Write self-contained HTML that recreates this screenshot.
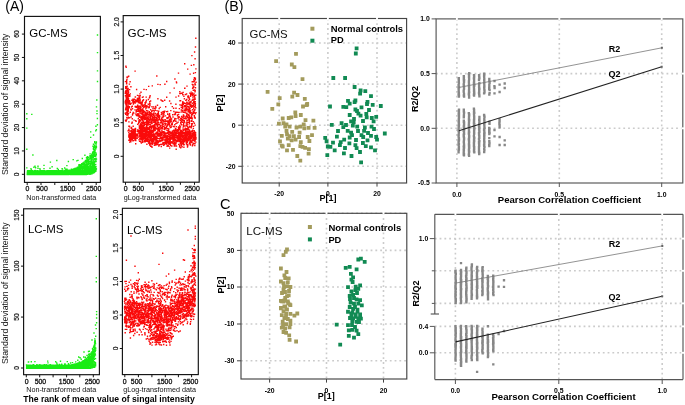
<!DOCTYPE html>
<html><head><meta charset="utf-8"><style>
html,body{margin:0;padding:0;background:#fff;width:685px;height:405px;overflow:hidden}
svg{display:block;filter:blur(0.35px)}
text{font-family:"Liberation Sans",sans-serif}
</style></head><body>
<svg width="685" height="405" viewBox="0 0 685 405">
<rect width="685" height="405" fill="#fff"/>
<text x="5.30" y="10.80" font-size="14" fill="#000" textLength="18.6" lengthAdjust="spacingAndGlyphs">(A)</text>
<text x="224.60" y="10.80" font-size="13.8" fill="#000" textLength="18.9" lengthAdjust="spacingAndGlyphs">(B)</text>
<text x="220.00" y="208.70" font-size="14.6" fill="#000">C</text>
<path d="M27.2 174.1h0M27.3 172.3h0M27.4 174.5h0M27.4 173.8h0M27.5 172.5h0M27.5 171.0h0M27.5 174.5h0M27.5 173.4h0M27.5 170.9h0M27.6 174.6h0M27.6 173.4h0M27.6 172.0h0M27.7 173.3h0M27.7 171.5h0M27.7 173.6h0M27.7 173.9h0M27.7 174.6h0M27.8 173.2h0M27.8 170.7h0M27.9 171.1h0M27.9 174.6h0M27.9 174.6h0M27.9 174.5h0M27.9 171.4h0M28.0 173.7h0M28.0 174.0h0M28.0 172.0h0M28.1 173.8h0M28.2 173.7h0M28.2 172.3h0M28.3 171.2h0M28.3 174.3h0M28.3 174.2h0M28.3 174.2h0M28.4 170.9h0M28.4 172.9h0M28.4 171.6h0M28.4 174.3h0M28.5 171.4h0M28.5 173.9h0M28.5 172.6h0M28.6 174.2h0M28.6 173.1h0M28.6 172.0h0M28.6 174.3h0M28.6 170.8h0M28.6 171.5h0M28.6 172.2h0M28.7 172.0h0M28.7 174.0h0M28.8 174.5h0M28.8 173.9h0M28.8 174.4h0M28.8 173.8h0M28.9 171.9h0M28.9 174.3h0M28.9 174.5h0M29.0 171.7h0M29.0 171.0h0M29.0 173.5h0M29.0 174.2h0M29.0 171.3h0M29.1 174.5h0M29.1 173.8h0M29.1 171.7h0M29.1 172.1h0M29.1 171.9h0M29.2 173.3h0M29.3 172.2h0M29.3 173.9h0M29.3 171.4h0M29.4 171.8h0M29.5 170.9h0M29.5 171.9h0M29.5 172.1h0M29.5 174.3h0M29.5 172.9h0M29.6 174.5h0M29.6 171.1h0M29.6 171.7h0M29.6 173.0h0M29.6 171.6h0M29.7 171.4h0M29.7 173.7h0M29.7 172.4h0M29.7 174.4h0M29.7 174.6h0M29.8 171.9h0M29.8 174.2h0M29.8 173.6h0M29.8 173.2h0M29.8 170.9h0M29.9 171.9h0M29.9 173.0h0M29.9 171.7h0M29.9 174.1h0M29.9 174.5h0M29.9 174.1h0M30.0 172.8h0M30.0 173.8h0M30.0 170.7h0M30.1 173.0h0M30.1 172.9h0M30.1 172.0h0M30.1 173.1h0M30.1 174.3h0M30.2 174.2h0M30.3 173.4h0M30.3 174.1h0M30.3 174.2h0M30.3 173.7h0M30.4 171.7h0M30.4 171.4h0M30.4 174.1h0M30.4 174.2h0M30.4 174.6h0M30.4 174.6h0M30.4 173.7h0M30.4 174.3h0M30.4 173.2h0M30.5 174.4h0M30.5 172.6h0M30.5 172.9h0M30.5 171.1h0M30.6 171.7h0M30.6 174.4h0M30.6 173.0h0M30.6 173.7h0M30.8 174.6h0M30.8 173.0h0M30.8 170.7h0M30.8 174.4h0M30.8 174.6h0M30.8 174.2h0M30.8 173.5h0M30.8 174.1h0M30.9 172.3h0M30.9 174.0h0M30.9 171.4h0M31.0 174.4h0M31.0 174.4h0M31.1 170.8h0M31.1 174.5h0M31.1 172.0h0M31.2 174.5h0M31.2 174.3h0M31.2 172.6h0M31.2 171.6h0M31.2 172.7h0M31.2 170.6h0M31.2 170.7h0M31.2 174.4h0M31.4 173.3h0M31.4 173.3h0M31.5 174.3h0M31.5 172.5h0M31.5 171.4h0M31.5 172.1h0M31.5 171.8h0M31.6 174.1h0M31.7 172.9h0M31.7 174.3h0M31.7 171.9h0M31.7 171.0h0M31.8 173.2h0M31.8 173.1h0M31.8 172.1h0M31.9 171.2h0M31.9 174.5h0M31.9 172.0h0M31.9 171.2h0M32.0 174.2h0M32.0 174.0h0M32.0 173.3h0M32.1 172.8h0M32.1 173.4h0M32.1 172.9h0M32.1 173.6h0M32.2 173.5h0M32.2 173.9h0M32.2 172.5h0M32.2 171.0h0M32.2 170.7h0M32.2 173.7h0M32.3 174.6h0M32.3 172.6h0M32.3 170.9h0M32.3 170.9h0M32.4 172.3h0M32.4 173.7h0M32.4 174.5h0M32.4 173.3h0M32.4 172.5h0M32.5 172.1h0M32.5 172.4h0M32.6 171.8h0M32.6 174.4h0M32.6 173.1h0M32.6 173.4h0M32.7 173.2h0M32.8 173.3h0M32.8 172.7h0M32.8 174.5h0M32.9 174.6h0M32.9 173.4h0M32.9 172.8h0M32.9 173.5h0M32.9 173.1h0M33.0 173.6h0M33.0 171.7h0M33.0 171.7h0M33.0 174.4h0M33.0 172.6h0M33.0 173.1h0M33.0 174.5h0M33.0 174.5h0M33.1 171.7h0M33.2 172.2h0M33.2 174.3h0M33.3 172.8h0M33.3 171.2h0M33.3 173.1h0M33.4 172.7h0M33.4 172.4h0M33.4 173.1h0M33.4 171.3h0M33.5 174.1h0M33.5 174.2h0M33.6 174.5h0M33.6 173.4h0M33.6 173.9h0M33.6 173.2h0M33.6 174.3h0M33.7 173.3h0M33.7 173.2h0M33.7 173.9h0M33.8 171.7h0M34.0 173.2h0M34.0 172.8h0M34.0 170.9h0M34.0 171.3h0M34.0 172.5h0M34.0 174.6h0M34.0 172.5h0M34.1 173.9h0M34.2 174.1h0M34.2 172.7h0M34.3 174.3h0M34.3 172.1h0M34.3 171.9h0M34.3 174.4h0M34.4 174.4h0M34.4 171.0h0M34.4 174.6h0M34.4 171.7h0M34.4 172.0h0M34.4 172.2h0M34.5 174.6h0M34.5 170.9h0M34.6 174.2h0M34.6 171.3h0M34.6 173.2h0M34.6 173.9h0M34.7 174.3h0M34.7 174.6h0M34.7 174.1h0M34.7 174.4h0M34.8 174.6h0M34.8 172.4h0M34.8 170.7h0M34.8 173.1h0M34.8 171.6h0M34.8 170.8h0M34.9 174.5h0M34.9 173.5h0M34.9 173.5h0M35.0 174.1h0M35.0 172.2h0M35.1 173.0h0M35.1 174.3h0M35.2 170.9h0M35.2 174.4h0M35.3 174.6h0M35.3 172.0h0M35.3 173.5h0M35.3 172.5h0M35.3 174.6h0M35.4 174.5h0M35.4 174.0h0M35.4 173.8h0M35.4 173.1h0M35.4 173.9h0M35.5 174.2h0M35.5 170.9h0M35.5 174.4h0M35.6 173.2h0M35.6 174.2h0M35.6 171.7h0M35.7 172.7h0M35.7 172.6h0M35.7 173.5h0M35.8 173.4h0M35.8 170.6h0M35.9 173.5h0M35.9 172.5h0M35.9 174.5h0M36.0 173.1h0M36.0 172.0h0M36.0 173.3h0M36.1 172.1h0M36.1 172.4h0M36.1 174.5h0M36.2 173.3h0M36.2 174.6h0M36.2 174.5h0M36.2 172.4h0M36.3 174.2h0M36.3 174.6h0M36.3 173.3h0M36.3 172.3h0M36.3 174.0h0M36.3 174.3h0M36.3 174.2h0M36.3 174.6h0M36.3 174.6h0M36.4 173.3h0M36.4 174.2h0M36.4 173.5h0M36.4 171.1h0M36.4 171.7h0M36.5 171.6h0M36.5 171.0h0M36.5 172.4h0M36.5 173.4h0M36.6 174.5h0M36.6 172.1h0M36.6 174.5h0M36.6 173.9h0M36.6 174.0h0M36.7 171.0h0M36.7 171.4h0M36.7 174.1h0M36.7 173.7h0M36.7 173.3h0M36.8 174.6h0M36.8 174.6h0M36.8 172.9h0M36.8 173.2h0M36.8 172.6h0M36.9 171.3h0M37.0 174.4h0M37.0 171.2h0M37.2 174.2h0M37.2 171.1h0M37.2 174.3h0M37.2 173.6h0M37.3 172.1h0M37.3 174.2h0M37.3 174.4h0M37.3 174.0h0M37.4 173.8h0M37.4 171.3h0M37.4 174.1h0M37.4 172.3h0M37.4 171.5h0M37.5 174.6h0M37.5 174.0h0M37.5 171.2h0M37.6 172.8h0M37.6 174.3h0M37.6 173.2h0M37.6 173.6h0M37.7 171.5h0M37.7 171.8h0M37.7 173.9h0M37.7 170.7h0M37.7 174.6h0M37.7 171.1h0M37.8 174.5h0M37.8 172.9h0M37.8 173.5h0M37.8 171.6h0M37.9 173.3h0M37.9 174.0h0M38.0 172.2h0M38.0 173.7h0M38.0 173.5h0M38.1 171.7h0M38.1 173.7h0M38.1 173.1h0M38.2 171.7h0M38.2 171.6h0M38.2 172.3h0M38.2 172.2h0M38.2 174.5h0M38.2 173.0h0M38.2 172.8h0M38.3 174.4h0M38.3 171.3h0M38.3 172.4h0M38.3 174.5h0M38.3 174.4h0M38.4 174.5h0M38.4 174.4h0M38.4 172.8h0M38.4 174.5h0M38.4 173.6h0M38.4 174.0h0M38.5 172.5h0M38.5 172.2h0M38.5 172.6h0M38.5 172.8h0M38.5 172.9h0M38.5 171.9h0M38.5 173.2h0M38.6 174.2h0M38.6 174.5h0M38.6 172.7h0M38.7 171.7h0M38.7 172.2h0M38.7 172.2h0M38.7 171.9h0M38.7 174.5h0M38.8 171.5h0M38.8 174.6h0M38.8 172.9h0M38.9 173.5h0M38.9 174.4h0M39.0 172.9h0M39.0 174.4h0M39.0 174.6h0M39.1 172.2h0M39.1 171.2h0M39.2 173.4h0M39.3 171.7h0M39.3 170.9h0M39.3 172.1h0M39.3 173.5h0M39.4 170.9h0M39.4 174.1h0M39.5 174.1h0M39.5 172.4h0M39.5 171.6h0M39.5 174.1h0M39.6 173.9h0M39.6 174.6h0M39.6 174.5h0M39.7 173.8h0M39.7 174.5h0M39.7 174.6h0M39.7 171.9h0M39.7 171.3h0M39.7 174.4h0M39.7 173.8h0M39.8 174.6h0M39.8 173.5h0M39.9 174.4h0M39.9 172.9h0M40.0 172.4h0M40.1 172.2h0M40.1 174.5h0M40.1 171.7h0M40.1 171.5h0M40.2 174.0h0M40.2 170.8h0M40.2 173.8h0M40.3 174.1h0M40.4 174.3h0M40.4 170.8h0M40.5 170.7h0M40.5 171.8h0M40.5 173.9h0M40.5 174.3h0M40.6 171.7h0M40.6 171.6h0M40.6 172.3h0M40.6 174.6h0M40.7 174.5h0M40.7 172.9h0M40.8 174.6h0M40.8 171.6h0M40.8 170.7h0M40.8 170.7h0M40.8 171.6h0M40.9 174.6h0M40.9 174.4h0M40.9 170.7h0M40.9 173.0h0M40.9 174.4h0M41.0 174.6h0M41.0 174.4h0M41.0 171.3h0M41.0 173.9h0M41.1 172.0h0M41.1 171.0h0M41.1 173.8h0M41.1 171.0h0M41.1 171.3h0M41.2 174.4h0M41.2 174.4h0M41.3 171.2h0M41.3 171.5h0M41.3 171.6h0M41.3 172.4h0M41.4 170.8h0M41.4 173.5h0M41.4 171.6h0M41.4 171.9h0M41.5 173.4h0M41.5 174.0h0M41.5 174.4h0M41.6 170.9h0M41.6 171.6h0M41.6 172.0h0M41.6 174.1h0M41.6 171.6h0M41.7 174.3h0M41.7 172.6h0M41.7 174.3h0M41.7 173.4h0M41.7 172.7h0M41.7 172.2h0M41.8 171.1h0M41.8 170.9h0M41.8 171.9h0M41.8 174.6h0M41.8 173.6h0M41.9 172.1h0M41.9 171.4h0M41.9 174.6h0M41.9 173.6h0M41.9 171.0h0M41.9 171.0h0M41.9 171.3h0M42.0 174.4h0M42.0 173.9h0M42.0 171.0h0M42.0 171.1h0M42.1 170.8h0M42.1 172.3h0M42.1 172.2h0M42.1 174.1h0M42.1 172.2h0M42.1 174.1h0M42.2 171.5h0M42.2 172.7h0M42.2 174.0h0M42.2 174.4h0M42.2 174.4h0M42.3 174.4h0M42.3 171.1h0M42.3 173.7h0M42.3 172.9h0M42.4 174.4h0M42.5 171.2h0M42.5 170.6h0M42.5 173.1h0M42.5 170.9h0M42.5 170.8h0M42.5 172.4h0M42.6 174.4h0M42.6 172.5h0M42.7 174.3h0M42.7 171.2h0M42.7 171.2h0M42.7 174.3h0M42.8 173.8h0M42.8 172.3h0M42.8 174.1h0M42.9 171.5h0M42.9 173.2h0M42.9 172.5h0M42.9 173.4h0M43.0 171.7h0M43.0 171.8h0M43.0 171.7h0M43.0 173.7h0M43.1 173.7h0M43.1 174.1h0M43.1 171.2h0M43.1 174.4h0M43.2 173.8h0M43.3 174.6h0M43.3 172.5h0M43.3 170.8h0M43.3 173.0h0M43.4 174.6h0M43.4 173.8h0M43.4 172.4h0M43.4 174.3h0M43.4 173.1h0M43.5 173.8h0M43.5 174.6h0M43.5 171.8h0M43.5 174.0h0M43.6 174.3h0M43.6 172.5h0M43.6 173.4h0M43.6 173.9h0M43.6 174.5h0M43.6 170.7h0M43.7 172.8h0M43.7 173.4h0M43.7 172.8h0M43.7 173.4h0M43.7 171.8h0M43.7 171.4h0M43.8 173.9h0M43.8 171.0h0M43.9 174.0h0M43.9 172.6h0M44.0 170.9h0M44.0 172.3h0M44.0 174.6h0M44.1 172.6h0M44.1 171.4h0M44.1 174.6h0M44.1 174.2h0M44.1 173.5h0M44.1 173.6h0M44.2 170.7h0M44.2 174.5h0M44.2 174.3h0M44.3 172.6h0M44.3 174.4h0M44.4 172.7h0M44.4 172.6h0M44.5 173.0h0M44.5 173.5h0M44.5 173.3h0M44.5 173.7h0M44.5 173.6h0M44.6 173.8h0M44.6 173.9h0M44.6 174.3h0M44.6 172.9h0M44.6 172.7h0M44.6 173.0h0M44.7 173.2h0M44.7 171.7h0M44.7 171.1h0M44.8 174.5h0M44.8 173.6h0M44.8 173.3h0M44.9 174.5h0M44.9 173.8h0M44.9 173.5h0M44.9 174.6h0M44.9 173.5h0M45.0 174.5h0M45.0 173.6h0M45.1 174.2h0M45.1 174.5h0M45.2 174.5h0M45.2 173.1h0M45.2 174.6h0M45.3 173.6h0M45.3 174.5h0M45.4 172.3h0M45.4 172.5h0M45.4 174.4h0M45.4 173.7h0M45.4 172.1h0M45.4 174.4h0M45.5 171.7h0M45.5 172.4h0M45.5 170.9h0M45.5 172.7h0M45.5 174.6h0M45.5 173.6h0M45.6 172.3h0M45.6 173.3h0M45.6 173.7h0M45.6 174.1h0M45.6 172.3h0M45.7 174.4h0M45.8 171.9h0M45.8 174.0h0M46.0 172.8h0M46.0 171.1h0M46.0 172.8h0M46.0 171.4h0M46.0 174.5h0M46.0 173.1h0M46.1 172.5h0M46.1 174.3h0M46.1 172.3h0M46.1 172.5h0M46.2 173.4h0M46.2 171.8h0M46.2 174.6h0M46.3 171.0h0M46.3 174.5h0M46.3 171.9h0M46.3 174.4h0M46.4 174.6h0M46.4 172.8h0M46.4 173.0h0M46.4 172.0h0M46.4 171.4h0M46.5 173.3h0M46.5 173.1h0M46.5 172.8h0M46.5 173.8h0M46.6 171.7h0M46.6 171.9h0M46.7 174.3h0M46.7 172.3h0M46.8 174.2h0M46.9 174.0h0M46.9 172.9h0M46.9 173.4h0M47.0 172.8h0M47.0 174.1h0M47.0 172.0h0M47.0 174.5h0M47.0 174.6h0M47.0 174.2h0M47.1 173.2h0M47.1 171.5h0M47.1 173.8h0M47.1 174.5h0M47.1 170.7h0M47.1 172.3h0M47.2 174.0h0M47.2 174.2h0M47.2 174.4h0M47.2 174.5h0M47.2 172.2h0M47.3 174.4h0M47.3 172.4h0M47.3 173.6h0M47.4 172.6h0M47.5 173.7h0M47.5 174.4h0M47.6 174.6h0M47.6 171.6h0M47.6 171.6h0M47.7 174.4h0M47.7 174.0h0M47.7 173.4h0M47.7 171.0h0M47.7 173.7h0M47.8 172.9h0M47.8 174.6h0M47.8 174.5h0M47.8 172.1h0M47.8 173.1h0M47.8 174.5h0M47.8 172.1h0M47.9 174.2h0M47.9 171.2h0M48.0 170.7h0M48.0 170.9h0M48.0 174.3h0M48.0 172.8h0M48.1 171.3h0M48.1 172.6h0M48.1 174.5h0M48.2 174.1h0M48.2 172.4h0M48.2 173.7h0M48.2 174.3h0M48.2 172.9h0M48.2 171.4h0M48.3 172.4h0M48.3 174.1h0M48.3 174.3h0M48.3 174.5h0M48.3 174.0h0M48.4 172.8h0M48.4 171.1h0M48.4 174.0h0M48.4 172.0h0M48.5 170.9h0M48.6 173.7h0M48.6 171.9h0M48.6 170.6h0M48.7 174.1h0M48.7 173.0h0M48.7 171.3h0M48.8 174.4h0M48.8 174.5h0M48.8 172.6h0M48.9 172.8h0M48.9 171.1h0M48.9 172.5h0M48.9 171.1h0M48.9 173.1h0M49.0 172.6h0M49.0 171.6h0M49.0 173.5h0M49.0 173.6h0M49.0 172.3h0M49.0 174.5h0M49.1 173.3h0M49.1 174.4h0M49.1 173.3h0M49.1 174.6h0M49.3 174.6h0M49.3 173.0h0M49.3 173.9h0M49.3 172.2h0M49.3 172.9h0M49.3 173.2h0M49.3 171.4h0M49.3 174.6h0M49.3 171.0h0M49.4 174.5h0M49.4 174.6h0M49.5 170.8h0M49.5 174.3h0M49.5 173.3h0M49.5 173.7h0M49.5 174.0h0M49.6 173.1h0M49.6 171.3h0M49.6 173.5h0M49.6 172.6h0M49.6 170.9h0M49.7 173.4h0M49.7 173.9h0M49.7 173.3h0M49.7 171.8h0M49.7 172.3h0M49.8 170.8h0M49.8 173.8h0M49.8 171.0h0M49.8 173.7h0M49.9 174.6h0M49.9 172.5h0M49.9 171.0h0M50.0 174.1h0M50.0 171.2h0M50.0 171.5h0M50.0 173.9h0M50.0 171.8h0M50.0 173.9h0M50.1 172.6h0M50.1 173.2h0M50.1 174.2h0M50.2 173.5h0M50.2 173.6h0M50.2 174.5h0M50.2 171.3h0M50.3 174.0h0M50.3 173.9h0M50.3 170.9h0M50.3 173.6h0M50.4 173.6h0M50.5 171.5h0M50.5 173.8h0M50.5 170.9h0M50.5 173.3h0M50.5 173.7h0M50.5 173.9h0M50.5 173.9h0M50.6 170.7h0M50.6 173.2h0M50.7 174.5h0M50.7 174.5h0M50.7 171.8h0M50.7 171.2h0M50.8 170.8h0M50.8 174.5h0M50.8 174.1h0M50.9 171.6h0M50.9 171.6h0M51.0 171.6h0M51.0 174.3h0M51.1 171.9h0M51.1 172.1h0M51.1 171.2h0M51.1 173.4h0M51.2 172.5h0M51.3 174.2h0M51.3 172.0h0M51.3 174.6h0M51.3 171.4h0M51.3 172.4h0M51.4 173.9h0M51.4 174.2h0M51.5 173.3h0M51.5 172.0h0M51.5 171.0h0M51.5 170.8h0M51.5 173.0h0M51.6 174.0h0M51.6 174.4h0M51.6 172.1h0M51.6 172.8h0M51.6 174.2h0M51.7 173.0h0M51.8 173.6h0M51.9 171.8h0M51.9 174.5h0M51.9 174.3h0M51.9 174.3h0M51.9 173.3h0M52.0 173.8h0M52.0 172.8h0M52.0 173.2h0M52.0 173.8h0M52.0 172.3h0M52.0 172.9h0M52.0 174.4h0M52.0 173.7h0M52.0 172.7h0M52.1 172.6h0M52.1 173.4h0M52.1 174.3h0M52.1 171.6h0M52.2 173.1h0M52.2 172.6h0M52.2 171.4h0M52.2 174.6h0M52.2 174.4h0M52.2 172.1h0M52.3 174.5h0M52.3 174.6h0M52.3 170.7h0M52.4 174.6h0M52.4 171.4h0M52.4 170.7h0M52.4 173.6h0M52.4 172.6h0M52.5 174.4h0M52.5 170.6h0M52.5 171.2h0M52.5 174.0h0M52.7 174.5h0M52.7 171.9h0M52.7 170.6h0M52.7 174.4h0M52.7 171.2h0M52.7 171.4h0M52.7 174.2h0M52.8 174.3h0M52.8 174.2h0M52.8 174.0h0M52.9 173.5h0M52.9 174.2h0M52.9 173.9h0M52.9 172.9h0M52.9 172.8h0M52.9 170.6h0M53.0 174.4h0M53.0 171.2h0M53.0 174.1h0M53.0 174.2h0M53.1 171.3h0M53.1 172.9h0M53.1 172.3h0M53.1 171.2h0M53.2 171.9h0M53.2 172.0h0M53.2 173.8h0M53.3 173.9h0M53.3 173.2h0M53.3 173.6h0M53.3 174.3h0M53.3 172.1h0M53.3 171.9h0M53.3 171.1h0M53.4 172.5h0M53.5 173.1h0M53.6 173.7h0M53.6 173.6h0M53.6 171.6h0M53.6 172.1h0M53.6 174.5h0M53.6 172.8h0M53.6 171.2h0M53.6 171.5h0M53.6 173.7h0M53.7 171.6h0M53.7 171.5h0M53.7 172.6h0M53.8 171.3h0M53.8 174.4h0M53.8 171.0h0M53.9 171.5h0M53.9 173.6h0M53.9 171.7h0M53.9 173.2h0M53.9 171.8h0M53.9 173.9h0M53.9 172.5h0M53.9 174.5h0M53.9 170.7h0M54.0 172.2h0M54.0 171.2h0M54.0 172.5h0M54.0 172.4h0M54.0 171.2h0M54.0 170.6h0M54.1 173.7h0M54.2 174.0h0M54.2 172.0h0M54.2 173.3h0M54.2 170.6h0M54.2 172.9h0M54.3 174.5h0M54.3 174.6h0M54.3 172.0h0M54.4 173.8h0M54.4 174.0h0M54.5 172.4h0M54.5 174.1h0M54.5 173.7h0M54.5 173.7h0M54.5 171.8h0M54.5 172.2h0M54.6 171.1h0M54.6 174.0h0M54.6 170.6h0M54.6 173.0h0M54.6 173.7h0M54.7 170.9h0M54.7 174.3h0M54.7 170.8h0M54.8 174.6h0M54.9 174.3h0M54.9 173.0h0M55.0 174.0h0M55.0 172.1h0M55.0 172.8h0M55.0 174.1h0M55.0 173.4h0M55.1 174.6h0M55.1 171.2h0M55.1 174.6h0M55.1 173.9h0M55.2 171.1h0M55.2 173.1h0M55.2 173.0h0M55.3 172.5h0M55.3 172.3h0M55.3 173.9h0M55.4 174.4h0M55.4 172.6h0M55.4 173.3h0M55.5 172.7h0M55.5 170.9h0M55.5 172.9h0M55.5 174.3h0M55.6 173.8h0M55.6 171.3h0M55.7 174.1h0M55.7 173.9h0M55.7 170.9h0M55.8 173.3h0M55.8 172.3h0M55.8 171.0h0M55.9 171.4h0M55.9 174.6h0M55.9 173.2h0M56.0 172.3h0M56.0 174.4h0M56.0 174.3h0M56.1 171.9h0M56.1 172.1h0M56.2 170.7h0M56.2 174.5h0M56.2 174.6h0M56.3 170.7h0M56.3 172.2h0M56.3 174.5h0M56.3 172.4h0M56.3 172.5h0M56.4 172.3h0M56.4 171.6h0M56.4 172.1h0M56.4 173.0h0M56.4 173.7h0M56.5 174.2h0M56.5 170.7h0M56.5 173.4h0M56.6 174.0h0M56.6 172.5h0M56.6 172.4h0M56.6 172.8h0M56.6 171.3h0M56.7 172.7h0M56.7 173.7h0M56.7 174.5h0M56.8 174.4h0M56.8 173.2h0M56.8 174.1h0M57.0 174.4h0M57.0 171.6h0M57.0 173.4h0M57.0 172.1h0M57.0 171.5h0M57.1 174.5h0M57.1 170.9h0M57.1 173.0h0M57.1 173.8h0M57.1 173.2h0M57.2 174.2h0M57.2 173.8h0M57.2 172.7h0M57.2 174.3h0M57.2 173.4h0M57.3 174.0h0M57.3 171.8h0M57.4 174.1h0M57.4 172.1h0M57.4 174.6h0M57.4 173.4h0M57.4 173.3h0M57.4 173.6h0M57.4 173.1h0M57.5 171.5h0M57.5 173.1h0M57.6 171.6h0M57.6 172.1h0M57.6 174.3h0M57.6 173.9h0M57.7 174.3h0M57.7 171.9h0M57.7 174.5h0M57.8 171.4h0M57.8 172.9h0M57.8 173.5h0M57.8 172.9h0M57.9 173.0h0M57.9 172.6h0M58.0 173.0h0M58.0 173.9h0M58.0 171.2h0M58.0 172.7h0M58.1 170.6h0M58.1 174.4h0M58.1 170.9h0M58.1 172.6h0M58.2 172.4h0M58.2 170.9h0M58.3 174.5h0M58.3 174.3h0M58.3 172.9h0M58.4 173.9h0M58.4 174.6h0M58.4 174.0h0M58.5 172.3h0M58.5 172.3h0M58.6 174.6h0M58.6 173.9h0M58.6 171.4h0M58.6 172.5h0M58.6 172.7h0M58.7 170.8h0M58.7 173.8h0M58.7 174.5h0M58.7 172.6h0M58.7 172.6h0M58.8 173.0h0M58.8 170.9h0M58.8 172.4h0M58.9 174.5h0M58.9 172.5h0M58.9 174.5h0M59.0 172.9h0M59.0 173.2h0M59.0 174.6h0M59.0 174.3h0M59.1 173.5h0M59.1 173.9h0M59.1 174.4h0M59.1 172.7h0M59.1 170.9h0M59.2 174.6h0M59.2 171.9h0M59.2 173.8h0M59.2 174.0h0M59.2 171.8h0M59.2 171.0h0M59.2 170.7h0M59.3 171.0h0M59.3 174.4h0M59.3 174.6h0M59.3 172.0h0M59.4 171.9h0M59.4 174.4h0M59.4 172.9h0M59.5 172.5h0M59.5 173.7h0M59.5 174.3h0M59.5 173.8h0M59.5 174.0h0M59.6 174.6h0M59.6 174.0h0M59.6 174.1h0M59.6 172.4h0M59.6 172.6h0M59.7 172.4h0M59.7 174.0h0M59.7 172.8h0M59.7 174.4h0M59.7 171.9h0M59.7 171.0h0M59.7 171.9h0M59.8 172.1h0M59.8 172.9h0M59.8 171.9h0M59.8 173.3h0M59.9 174.1h0M59.9 171.9h0M59.9 173.1h0M59.9 171.0h0M60.0 172.8h0M60.0 173.0h0M60.0 174.6h0M60.1 174.2h0M60.1 172.2h0M60.2 173.4h0M60.2 171.0h0M60.2 172.7h0M60.2 174.1h0M60.2 174.1h0M60.2 174.0h0M60.3 174.2h0M60.3 173.0h0M60.3 174.5h0M60.3 172.8h0M60.3 173.5h0M60.4 171.3h0M60.5 171.2h0M60.5 173.9h0M60.5 174.3h0M60.6 173.5h0M60.6 173.1h0M60.6 172.2h0M60.6 170.7h0M60.7 171.2h0M60.7 173.6h0M60.7 173.0h0M60.7 172.8h0M60.7 171.3h0M60.8 174.5h0M60.8 171.6h0M60.8 174.1h0M60.8 174.5h0M60.8 170.7h0M60.8 173.8h0M60.9 172.0h0M60.9 173.7h0M60.9 174.0h0M61.0 173.0h0M61.0 174.1h0M61.0 174.1h0M61.1 174.6h0M61.1 172.2h0M61.1 171.0h0M61.2 174.6h0M61.2 174.0h0M61.2 171.3h0M61.4 172.7h0M61.4 174.4h0M61.4 174.1h0M61.4 174.2h0M61.5 174.6h0M61.5 174.4h0M61.5 174.4h0M61.5 173.1h0M61.6 171.9h0M61.6 173.1h0M61.6 172.4h0M61.6 171.2h0M61.7 171.8h0M61.7 174.5h0M61.7 174.6h0M61.7 170.9h0M61.8 174.1h0M61.8 171.3h0M61.8 174.3h0M61.8 171.2h0M61.8 173.4h0M61.9 174.6h0M61.9 170.6h0M62.0 174.4h0M62.0 174.6h0M62.0 171.7h0M62.0 173.8h0M62.1 174.6h0M62.1 174.6h0M62.1 173.5h0M62.2 174.5h0M62.2 173.7h0M62.2 172.3h0M62.2 170.8h0M62.3 173.9h0M62.3 172.8h0M62.4 172.2h0M62.4 171.7h0M62.4 173.2h0M62.4 171.7h0M62.5 173.3h0M62.5 172.0h0M62.5 172.5h0M62.6 173.3h0M62.6 171.2h0M62.6 173.9h0M62.6 173.7h0M62.7 173.2h0M62.7 174.5h0M62.7 172.7h0M62.7 174.6h0M62.7 171.3h0M62.7 173.7h0M62.8 171.1h0M62.8 174.4h0M62.8 172.1h0M62.8 172.7h0M62.8 172.8h0M62.9 171.0h0M62.9 174.5h0M62.9 171.0h0M63.0 174.0h0M63.0 174.1h0M63.0 172.2h0M63.0 173.5h0M63.1 174.4h0M63.1 172.9h0M63.1 171.2h0M63.1 174.6h0M63.2 173.5h0M63.2 174.3h0M63.2 172.1h0M63.2 171.7h0M63.2 174.4h0M63.2 171.4h0M63.3 173.9h0M63.3 171.9h0M63.3 174.4h0M63.4 173.2h0M63.4 172.4h0M63.4 173.1h0M63.5 172.2h0M63.5 171.7h0M63.5 170.9h0M63.5 172.4h0M63.6 174.3h0M63.6 171.8h0M63.6 173.4h0M63.6 172.2h0M63.6 172.2h0M63.7 171.1h0M63.7 172.7h0M63.7 174.1h0M63.7 173.5h0M63.8 172.6h0M63.8 172.8h0M63.9 174.2h0M63.9 171.5h0M63.9 172.7h0M63.9 172.8h0M64.1 174.2h0M64.1 173.2h0M64.1 174.0h0M64.1 173.8h0M64.1 173.8h0M64.2 172.6h0M64.2 173.6h0M64.3 171.0h0M64.3 171.9h0M64.4 170.5h0M64.4 172.6h0M64.4 173.4h0M64.5 173.6h0M64.5 174.6h0M64.5 172.1h0M64.5 173.9h0M64.6 174.6h0M64.6 170.9h0M64.6 174.1h0M64.7 174.5h0M64.7 171.9h0M64.7 171.7h0M64.7 171.7h0M64.7 172.6h0M64.7 174.6h0M64.8 172.9h0M64.8 170.6h0M64.8 173.3h0M64.8 173.9h0M64.8 172.8h0M64.8 172.5h0M64.9 173.9h0M64.9 171.7h0M64.9 171.3h0M64.9 174.6h0M64.9 174.5h0M64.9 173.1h0M65.0 174.5h0M65.0 174.2h0M65.0 171.1h0M65.1 170.4h0M65.1 171.3h0M65.1 174.3h0M65.2 171.5h0M65.2 172.7h0M65.3 170.4h0M65.3 174.0h0M65.3 171.0h0M65.3 174.6h0M65.3 174.2h0M65.3 170.9h0M65.3 173.0h0M65.4 174.2h0M65.4 172.1h0M65.5 173.8h0M65.5 172.7h0M65.5 173.5h0M65.6 174.5h0M65.6 174.5h0M65.6 170.9h0M65.6 171.1h0M65.7 173.3h0M65.7 174.1h0M65.7 174.4h0M65.7 170.6h0M65.8 172.9h0M65.8 174.6h0M65.8 172.5h0M65.8 171.8h0M65.8 173.9h0M65.8 170.4h0M65.8 174.5h0M65.8 174.4h0M65.8 172.6h0M65.9 173.2h0M65.9 173.6h0M66.0 172.1h0M66.0 170.8h0M66.0 171.2h0M66.0 171.9h0M66.1 173.9h0M66.1 173.9h0M66.1 174.3h0M66.1 171.1h0M66.1 172.2h0M66.2 172.7h0M66.2 174.5h0M66.2 171.2h0M66.2 174.4h0M66.2 173.0h0M66.2 170.7h0M66.3 173.7h0M66.3 173.3h0M66.4 170.6h0M66.4 173.9h0M66.4 173.3h0M66.5 173.6h0M66.5 173.5h0M66.5 173.4h0M66.5 170.3h0M66.6 171.5h0M66.6 174.6h0M66.6 172.5h0M66.7 174.6h0M66.7 174.5h0M66.8 172.7h0M66.8 172.5h0M66.8 174.3h0M66.9 173.5h0M66.9 173.7h0M66.9 172.0h0M66.9 173.4h0M67.0 173.6h0M67.1 171.3h0M67.1 172.2h0M67.1 174.4h0M67.1 172.9h0M67.1 174.1h0M67.1 174.0h0M67.1 172.5h0M67.2 171.1h0M67.2 173.7h0M67.2 173.0h0M67.2 174.5h0M67.2 171.6h0M67.3 174.3h0M67.3 173.5h0M67.3 174.0h0M67.4 173.0h0M67.4 173.9h0M67.4 173.2h0M67.4 173.3h0M67.4 172.5h0M67.5 172.1h0M67.5 172.9h0M67.5 171.8h0M67.6 170.9h0M67.6 173.2h0M67.6 174.6h0M67.6 171.7h0M67.6 173.2h0M67.7 171.6h0M67.7 171.1h0M67.7 174.5h0M67.8 173.5h0M67.8 171.8h0M67.8 173.3h0M67.9 173.3h0M67.9 173.1h0M67.9 170.3h0M67.9 174.1h0M68.0 174.3h0M68.0 171.6h0M68.1 171.2h0M68.1 174.6h0M68.1 172.5h0M68.1 171.1h0M68.2 171.9h0M68.2 174.4h0M68.3 174.3h0M68.3 173.3h0M68.4 173.6h0M68.4 174.3h0M68.4 172.9h0M68.5 174.2h0M68.5 174.5h0M68.5 173.1h0M68.6 170.6h0M68.6 174.3h0M68.6 174.2h0M68.6 173.0h0M68.7 170.5h0M68.7 173.3h0M68.7 174.2h0M68.7 172.7h0M68.8 173.8h0M68.8 174.4h0M68.8 172.4h0M68.8 173.3h0M68.8 170.4h0M68.9 173.5h0M68.9 174.3h0M68.9 173.8h0M68.9 173.1h0M68.9 173.9h0M68.9 173.4h0M69.0 172.0h0M69.0 171.6h0M69.0 172.6h0M69.0 173.1h0M69.1 174.4h0M69.1 172.2h0M69.1 174.1h0M69.1 171.8h0M69.2 170.4h0M69.2 171.1h0M69.2 174.0h0M69.2 173.2h0M69.2 173.3h0M69.2 171.6h0M69.3 173.4h0M69.3 173.7h0M69.3 172.6h0M69.4 172.7h0M69.4 171.1h0M69.4 170.6h0M69.4 171.0h0M69.5 170.2h0M69.6 172.6h0M69.6 173.4h0M69.6 171.9h0M69.7 171.0h0M69.7 171.9h0M69.7 172.6h0M69.7 174.3h0M69.8 171.8h0M69.8 170.7h0M69.9 173.2h0M69.9 171.0h0M69.9 172.5h0M70.0 174.0h0M70.1 170.2h0M70.1 171.7h0M70.1 170.2h0M70.1 172.5h0M70.2 171.7h0M70.2 174.0h0M70.2 172.9h0M70.2 173.5h0M70.2 172.0h0M70.3 170.5h0M70.3 172.7h0M70.3 174.6h0M70.3 173.8h0M70.4 172.8h0M70.4 171.4h0M70.4 172.6h0M70.4 174.2h0M70.4 172.5h0M70.5 170.9h0M70.5 172.9h0M70.6 171.1h0M70.6 172.8h0M70.6 174.5h0M70.7 170.2h0M70.7 174.6h0M70.7 173.9h0M70.7 172.2h0M70.7 171.3h0M70.8 174.1h0M70.8 170.9h0M70.8 171.9h0M70.9 174.5h0M70.9 173.3h0M71.0 170.8h0M71.0 173.2h0M71.0 170.9h0M71.0 174.2h0M71.0 170.9h0M71.0 171.9h0M71.0 174.6h0M71.1 174.4h0M71.2 171.7h0M71.2 171.1h0M71.2 173.6h0M71.2 174.0h0M71.3 170.2h0M71.3 171.0h0M71.4 170.1h0M71.4 174.3h0M71.5 172.9h0M71.5 174.5h0M71.5 172.0h0M71.5 173.4h0M71.5 174.5h0M71.5 174.3h0M71.6 170.6h0M71.6 170.8h0M71.6 170.3h0M71.6 170.7h0M71.6 172.8h0M71.6 172.9h0M71.7 172.5h0M71.7 171.5h0M71.7 174.2h0M71.7 173.2h0M71.8 173.4h0M71.8 171.4h0M71.8 174.6h0M71.8 172.2h0M71.9 174.5h0M71.9 172.8h0M72.0 174.1h0M72.0 170.2h0M72.0 174.4h0M72.0 173.8h0M72.1 174.2h0M72.1 174.0h0M72.1 172.0h0M72.1 174.5h0M72.1 172.3h0M72.1 172.8h0M72.1 174.6h0M72.2 170.2h0M72.3 173.0h0M72.3 174.5h0M72.4 172.7h0M72.4 173.4h0M72.4 174.4h0M72.5 171.3h0M72.5 170.5h0M72.5 171.7h0M72.5 173.1h0M72.6 170.9h0M72.6 174.6h0M72.7 174.1h0M72.7 172.4h0M72.8 174.2h0M72.8 171.9h0M72.8 172.9h0M72.8 170.9h0M72.8 169.7h0M72.8 174.5h0M72.8 171.4h0M72.9 174.5h0M72.9 172.6h0M72.9 173.5h0M73.0 172.9h0M73.0 171.3h0M73.0 174.6h0M73.1 172.0h0M73.1 170.3h0M73.1 170.2h0M73.2 172.7h0M73.2 171.8h0M73.3 174.3h0M73.3 174.1h0M73.3 169.5h0M73.4 174.6h0M73.4 169.9h0M73.5 173.9h0M73.5 172.5h0M73.5 174.0h0M73.5 174.5h0M73.6 170.2h0M73.7 171.8h0M73.7 170.0h0M73.7 171.8h0M73.7 171.2h0M73.8 174.4h0M73.8 174.6h0M73.8 174.5h0M73.9 170.2h0M73.9 174.6h0M73.9 174.4h0M73.9 174.4h0M73.9 174.5h0M73.9 173.5h0M73.9 172.0h0M74.0 169.6h0M74.0 174.2h0M74.0 174.5h0M74.0 169.2h0M74.0 174.3h0M74.0 171.0h0M74.1 169.4h0M74.1 173.1h0M74.1 168.9h0M74.3 173.6h0M74.4 174.2h0M74.4 169.9h0M74.4 171.4h0M74.4 173.6h0M74.4 174.6h0M74.4 173.6h0M74.4 171.7h0M74.5 172.0h0M74.5 173.7h0M74.5 173.0h0M74.5 173.4h0M74.5 174.5h0M74.5 171.5h0M74.5 172.2h0M74.6 169.7h0M74.7 170.2h0M74.7 173.0h0M74.7 170.5h0M74.7 171.6h0M74.7 169.2h0M74.8 173.9h0M74.8 173.6h0M74.8 172.5h0M74.8 174.3h0M74.8 171.9h0M74.8 173.1h0M74.9 170.7h0M74.9 170.1h0M74.9 174.4h0M74.9 168.4h0M75.0 170.3h0M75.0 170.5h0M75.0 173.8h0M75.1 173.8h0M75.1 169.4h0M75.1 174.5h0M75.1 174.3h0M75.2 171.6h0M75.3 173.9h0M75.3 172.2h0M75.3 172.1h0M75.3 173.0h0M75.4 170.0h0M75.4 174.0h0M75.4 170.3h0M75.4 172.9h0M75.4 169.0h0M75.5 174.2h0M75.6 173.9h0M75.7 173.3h0M75.7 174.0h0M75.7 173.5h0M75.7 173.0h0M75.8 170.0h0M75.9 170.7h0M75.9 169.9h0M75.9 171.8h0M76.0 173.5h0M76.0 174.2h0M76.0 168.2h0M76.1 171.2h0M76.1 173.9h0M76.2 173.4h0M76.2 171.6h0M76.3 172.4h0M76.3 174.5h0M76.3 173.4h0M76.3 171.6h0M76.4 169.4h0M76.5 174.0h0M76.5 173.8h0M76.5 172.7h0M76.5 173.5h0M76.5 169.2h0M76.5 171.7h0M76.6 173.9h0M76.7 172.1h0M76.7 171.9h0M76.7 173.6h0M76.8 171.2h0M76.8 169.7h0M76.8 173.9h0M76.9 173.4h0M76.9 174.2h0M76.9 173.3h0M76.9 169.5h0M76.9 169.9h0M77.0 168.0h0M77.0 172.8h0M77.0 174.4h0M77.1 174.1h0M77.1 171.9h0M77.1 174.3h0M77.1 170.2h0M77.1 173.4h0M77.1 172.1h0M77.2 172.6h0M77.3 172.9h0M77.3 168.8h0M77.3 174.5h0M77.3 168.3h0M77.4 174.4h0M77.4 174.3h0M77.5 173.9h0M77.5 168.5h0M77.5 167.1h0M77.5 174.1h0M77.5 171.5h0M77.6 171.0h0M77.7 173.9h0M77.7 169.8h0M77.7 172.2h0M77.7 173.7h0M77.7 173.7h0M77.8 170.7h0M77.8 174.5h0M77.8 168.8h0M77.9 168.9h0M77.9 171.4h0M77.9 174.6h0M78.0 170.0h0M78.0 172.8h0M78.0 174.5h0M78.0 173.2h0M78.1 172.6h0M78.1 174.3h0M78.1 167.2h0M78.1 172.4h0M78.2 168.7h0M78.2 170.9h0M78.2 172.7h0M78.2 171.6h0M78.2 171.7h0M78.2 172.7h0M78.3 174.3h0M78.3 168.4h0M78.4 171.7h0M78.4 171.7h0M78.4 172.1h0M78.4 172.4h0M78.5 167.4h0M78.5 167.3h0M78.5 169.3h0M78.6 174.5h0M78.6 172.6h0M78.6 169.9h0M78.8 171.2h0M78.8 168.4h0M78.9 173.3h0M78.9 167.8h0M78.9 173.2h0M79.0 171.9h0M79.0 173.5h0M79.0 169.2h0M79.1 174.1h0M79.1 168.5h0M79.1 169.6h0M79.2 173.9h0M79.2 168.9h0M79.2 174.4h0M79.3 172.1h0M79.3 168.2h0M79.3 173.5h0M79.3 170.5h0M79.3 171.6h0M79.3 174.6h0M79.3 172.2h0M79.3 165.9h0M79.3 174.5h0M79.4 174.0h0M79.4 174.6h0M79.4 171.2h0M79.4 173.4h0M79.4 174.5h0M79.4 174.3h0M79.4 174.4h0M79.4 169.8h0M79.5 174.2h0M79.5 166.3h0M79.5 171.5h0M79.5 173.1h0M79.5 167.0h0M79.6 168.5h0M79.6 172.8h0M79.7 170.6h0M79.7 170.1h0M79.7 166.5h0M79.7 166.1h0M79.8 169.0h0M79.8 174.0h0M79.9 170.4h0M79.9 174.4h0M80.0 172.0h0M80.1 168.6h0M80.1 167.8h0M80.1 172.6h0M80.2 173.2h0M80.2 168.8h0M80.3 166.5h0M80.3 167.5h0M80.4 169.2h0M80.4 172.5h0M80.4 172.9h0M80.4 168.4h0M80.4 169.5h0M80.5 174.6h0M80.5 171.1h0M80.5 165.3h0M80.6 173.1h0M80.6 165.4h0M80.6 167.5h0M80.6 170.6h0M80.6 174.0h0M80.6 171.3h0M80.6 165.5h0M80.7 174.6h0M80.7 172.6h0M80.8 172.6h0M80.8 167.4h0M80.8 174.5h0M80.9 173.4h0M80.9 166.0h0M80.9 167.9h0M80.9 173.1h0M80.9 167.7h0M81.0 165.6h0M81.0 164.9h0M81.1 164.7h0M81.1 170.6h0M81.1 174.2h0M81.1 170.7h0M81.1 173.9h0M81.1 170.5h0M81.2 174.4h0M81.3 168.5h0M81.3 174.4h0M81.3 173.1h0M81.4 166.2h0M81.4 174.2h0M81.5 173.6h0M81.5 172.2h0M81.6 172.4h0M81.6 166.8h0M81.7 174.4h0M81.7 171.6h0M81.7 166.7h0M81.7 167.0h0M81.7 165.1h0M81.7 174.6h0M81.7 163.9h0M81.7 171.8h0M81.8 165.3h0M81.8 163.9h0M81.8 171.5h0M81.8 170.6h0M81.8 171.1h0M81.9 163.7h0M81.9 170.7h0M81.9 168.6h0M81.9 171.5h0M81.9 167.8h0M82.0 168.1h0M82.0 167.7h0M82.0 169.8h0M82.0 171.1h0M82.0 172.6h0M82.0 170.1h0M82.1 170.1h0M82.1 169.3h0M82.1 174.5h0M82.1 174.2h0M82.2 167.4h0M82.2 167.3h0M82.2 174.1h0M82.2 167.0h0M82.3 164.1h0M82.4 164.0h0M82.4 169.8h0M82.4 174.0h0M82.5 166.6h0M82.6 170.3h0M82.6 164.5h0M82.6 170.0h0M82.7 173.5h0M82.7 174.1h0M82.7 174.6h0M82.8 164.6h0M82.8 164.1h0M82.8 174.3h0M82.8 167.9h0M82.8 172.7h0M82.8 164.9h0M82.9 163.2h0M82.9 171.0h0M82.9 171.7h0M82.9 164.3h0M83.0 172.8h0M83.0 164.4h0M83.0 163.3h0M83.0 173.3h0M83.0 171.6h0M83.0 166.6h0M83.0 173.1h0M83.1 167.6h0M83.1 171.2h0M83.1 163.0h0M83.1 164.9h0M83.1 163.3h0M83.2 169.1h0M83.2 166.5h0M83.2 173.0h0M83.3 167.2h0M83.3 174.1h0M83.3 172.6h0M83.4 167.7h0M83.4 164.4h0M83.5 173.6h0M83.5 172.8h0M83.5 174.2h0M83.6 174.6h0M83.6 172.8h0M83.6 170.7h0M83.8 174.5h0M83.8 173.9h0M83.9 167.2h0M83.9 164.1h0M84.0 174.5h0M84.0 165.9h0M84.0 172.4h0M84.0 171.1h0M84.0 162.3h0M84.1 171.8h0M84.1 173.4h0M84.1 164.6h0M84.1 173.3h0M84.1 168.1h0M84.1 168.4h0M84.1 173.8h0M84.1 165.3h0M84.2 167.8h0M84.2 174.2h0M84.2 166.2h0M84.2 171.6h0M84.2 171.9h0M84.3 166.0h0M84.3 174.5h0M84.3 165.4h0M84.3 168.7h0M84.3 166.5h0M84.4 165.5h0M84.4 163.9h0M84.4 163.9h0M84.4 172.6h0M84.4 169.0h0M84.5 169.4h0M84.5 166.2h0M84.5 164.5h0M84.5 171.5h0M84.5 169.0h0M84.5 168.1h0M84.5 173.9h0M84.5 163.1h0M84.5 168.7h0M84.6 174.0h0M84.6 173.0h0M84.6 174.5h0M84.6 172.4h0M84.7 173.8h0M84.7 164.4h0M84.8 165.4h0M84.8 172.7h0M84.8 168.8h0M84.8 172.7h0M84.8 174.6h0M84.9 171.3h0M84.9 166.9h0M85.0 168.3h0M85.0 168.7h0M85.0 170.7h0M85.1 164.7h0M85.1 161.3h0M85.1 174.3h0M85.1 174.0h0M85.1 166.1h0M85.2 164.8h0M85.2 169.6h0M85.2 173.9h0M85.2 171.8h0M85.2 170.0h0M85.3 166.9h0M85.4 171.4h0M85.4 169.3h0M85.4 165.3h0M85.4 166.2h0M85.5 172.7h0M85.5 173.2h0M85.6 168.1h0M85.6 162.9h0M85.7 160.4h0M85.7 174.0h0M85.7 165.1h0M85.7 172.6h0M85.7 172.6h0M85.7 168.8h0M85.8 161.0h0M85.9 172.2h0M85.9 173.9h0M86.0 171.8h0M86.0 171.9h0M86.0 161.6h0M86.0 166.2h0M86.1 165.1h0M86.1 170.2h0M86.1 168.1h0M86.2 164.5h0M86.2 174.5h0M86.3 162.4h0M86.3 164.9h0M86.3 174.5h0M86.3 165.4h0M86.3 171.2h0M86.4 174.3h0M86.4 165.2h0M86.4 165.4h0M86.4 166.8h0M86.4 171.8h0M86.4 173.9h0M86.5 173.1h0M86.5 170.5h0M86.5 172.2h0M86.5 170.7h0M86.6 171.8h0M86.7 160.2h0M86.7 168.9h0M86.7 161.3h0M86.8 174.0h0M86.8 162.9h0M86.9 163.2h0M86.9 166.0h0M86.9 169.8h0M86.9 160.4h0M86.9 164.8h0M86.9 169.4h0M86.9 160.5h0M87.0 158.1h0M87.0 165.5h0M87.0 171.3h0M87.1 173.8h0M87.1 171.6h0M87.1 159.4h0M87.1 167.4h0M87.2 171.5h0M87.2 161.7h0M87.2 170.0h0M87.3 164.7h0M87.3 157.7h0M87.3 165.3h0M87.4 163.9h0M87.4 172.0h0M87.4 161.1h0M87.4 170.7h0M87.5 164.3h0M87.5 174.3h0M87.5 169.7h0M87.5 163.9h0M87.6 172.7h0M87.6 167.6h0M87.6 166.8h0M87.6 164.9h0M87.7 167.1h0M87.7 169.3h0M87.8 171.4h0M87.8 167.5h0M87.8 174.0h0M87.9 172.1h0M87.9 159.6h0M87.9 173.9h0M87.9 168.5h0M88.0 159.5h0M88.1 161.5h0M88.1 172.2h0M88.2 169.4h0M88.2 171.4h0M88.2 172.4h0M88.2 171.2h0M88.3 159.0h0M88.3 160.4h0M88.3 166.9h0M88.3 166.7h0M88.5 168.8h0M88.5 163.7h0M88.5 161.2h0M88.5 169.0h0M88.5 161.8h0M88.5 157.2h0M88.5 164.2h0M88.5 162.2h0M88.6 174.0h0M88.6 172.1h0M88.6 171.0h0M88.6 170.1h0M88.6 162.2h0M88.7 173.1h0M88.7 172.2h0M88.7 168.3h0M88.7 160.2h0M88.7 168.7h0M88.8 161.4h0M88.9 170.7h0M88.9 169.6h0M88.9 168.1h0M88.9 173.1h0M89.0 170.7h0M89.0 170.7h0M89.0 166.0h0M89.0 173.4h0M89.0 161.6h0M89.2 161.8h0M89.2 163.5h0M89.2 171.1h0M89.3 159.0h0M89.3 170.5h0M89.4 170.5h0M89.4 172.9h0M89.4 174.1h0M89.5 164.0h0M89.6 167.9h0M89.6 172.1h0M89.6 169.8h0M89.6 168.4h0M89.6 171.7h0M89.7 171.8h0M89.8 173.8h0M89.8 172.6h0M89.9 174.2h0M89.9 169.7h0M89.9 172.9h0M89.9 167.1h0M90.0 155.8h0M90.0 167.6h0M90.0 169.0h0M90.1 156.6h0M90.1 165.6h0M90.1 165.8h0M90.1 171.5h0M90.1 157.7h0M90.1 153.9h0M90.1 173.7h0M90.2 170.1h0M90.2 158.1h0M90.3 172.7h0M90.4 161.1h0M90.4 161.2h0M90.4 163.4h0M90.5 170.1h0M90.5 163.0h0M90.6 163.7h0M90.6 161.1h0M90.6 168.7h0M90.6 163.5h0M90.6 174.0h0M90.6 173.7h0M90.6 172.3h0M90.7 173.7h0M90.7 167.0h0M90.7 161.4h0M90.7 174.0h0M90.7 165.0h0M90.7 158.9h0M90.7 166.8h0M90.8 161.3h0M90.8 157.2h0M90.8 168.3h0M90.9 173.6h0M90.9 171.9h0M90.9 173.9h0M90.9 171.0h0M91.0 157.3h0M91.0 163.1h0M91.0 159.1h0M91.1 158.5h0M91.1 162.3h0M91.1 170.4h0M91.2 168.2h0M91.2 170.1h0M91.2 172.1h0M91.2 160.9h0M91.3 173.0h0M91.3 160.1h0M91.3 162.7h0M91.4 155.5h0M91.4 168.6h0M91.4 156.5h0M91.4 157.9h0M91.4 166.2h0M91.4 161.3h0M91.4 168.8h0M91.5 173.8h0M91.5 163.9h0M91.6 170.1h0M91.6 158.7h0M91.6 173.9h0M91.7 173.0h0M91.7 170.6h0M91.7 167.6h0M91.7 159.4h0M91.8 154.1h0M91.8 166.9h0M91.8 156.8h0M91.8 161.7h0M91.8 172.8h0M91.9 172.6h0M91.9 170.4h0M91.9 154.4h0M91.9 173.8h0M92.0 173.8h0M92.0 155.6h0M92.0 158.5h0M92.0 155.7h0M92.1 160.1h0M92.1 156.9h0M92.1 173.1h0M92.2 163.4h0M92.3 168.7h0M92.3 164.5h0M92.3 169.6h0M92.4 171.3h0M92.4 171.9h0M92.4 172.8h0M92.5 168.1h0M92.5 155.7h0M92.5 163.3h0M92.5 169.8h0M92.6 153.0h0M92.6 168.4h0M92.6 166.5h0M92.6 156.9h0M92.6 167.3h0M92.7 170.6h0M92.7 167.5h0M92.7 163.8h0M92.7 152.5h0M92.8 157.7h0M92.8 153.0h0M92.8 164.8h0M92.8 165.7h0M92.8 167.3h0M92.9 171.9h0M92.9 155.4h0M93.0 172.9h0M93.0 169.7h0M93.0 171.0h0M93.0 163.1h0M93.1 161.9h0M93.1 170.0h0M93.1 171.6h0M93.2 170.6h0M93.2 168.7h0M93.2 167.4h0M93.2 155.9h0M93.2 151.6h0M93.2 160.0h0M93.2 173.1h0M93.2 165.4h0M93.2 165.3h0M93.3 152.0h0M93.3 168.8h0M93.3 157.8h0M93.3 155.4h0M93.3 164.0h0M93.3 164.5h0M93.4 172.2h0M93.4 172.9h0M93.4 148.5h0M93.4 162.3h0M93.4 169.7h0M93.4 154.5h0M93.4 172.9h0M93.5 149.2h0M93.5 171.4h0M93.6 147.0h0M93.7 168.8h0M93.7 149.9h0M93.7 172.8h0M93.7 171.5h0M93.8 172.8h0M93.8 168.9h0M93.8 155.2h0M93.8 171.3h0M93.8 171.7h0M93.9 156.5h0M93.9 161.4h0M93.9 172.5h0M93.9 168.7h0M94.0 154.7h0M94.0 161.6h0M94.0 147.3h0M94.0 153.9h0M94.0 155.0h0M94.0 152.4h0M94.1 172.1h0M94.1 166.9h0M94.1 152.1h0M94.1 168.2h0M94.1 164.3h0M94.1 158.8h0M94.2 171.7h0M94.2 156.1h0M94.3 165.6h0M94.3 149.1h0M94.3 162.7h0M94.4 172.4h0M94.4 153.5h0M94.5 155.6h0M94.5 145.3h0M94.5 150.9h0M94.5 159.9h0M94.5 152.0h0M94.5 169.9h0M94.6 146.8h0M94.6 152.5h0M94.6 162.1h0M94.6 172.2h0M94.6 164.4h0M94.7 166.1h0M94.7 156.2h0M94.7 142.8h0M94.7 167.0h0M94.7 145.1h0M94.7 155.2h0M94.7 170.4h0M94.8 155.4h0M94.8 159.7h0M94.8 167.9h0M94.8 170.8h0M95.0 170.1h0M95.0 146.9h0M95.1 161.8h0M95.1 158.6h0M95.1 152.0h0M95.1 169.0h0M95.1 168.1h0M95.1 150.2h0M95.2 166.5h0M95.2 170.1h0M95.3 148.3h0M95.3 166.5h0M95.3 170.5h0M95.3 155.4h0M95.3 167.5h0M95.4 170.1h0M95.4 167.6h0M95.5 155.0h0M95.5 166.3h0M95.6 170.9h0M95.6 159.9h0M95.6 166.3h0M95.6 169.5h0M95.7 159.1h0M95.7 164.4h0M95.7 156.2h0M95.8 148.6h0M95.8 160.1h0M95.8 143.2h0M95.8 171.2h0M95.9 148.9h0M95.9 170.5h0M95.9 170.1h0M95.9 153.0h0M96.0 143.1h0M96.0 166.6h0M96.0 158.2h0M96.0 146.8h0M96.1 168.4h0M96.1 161.5h0M96.2 154.1h0M96.2 145.0h0M96.3 154.8h0M96.4 169.0h0M96.4 142.0h0M96.4 142.9h0M96.4 147.3h0M96.4 146.8h0M96.5 159.1h0M72.2 169.5h0M96.4 129.7h0M94.7 141.8h0M40.1 170.0h0M71.4 169.1h0M87.3 156.7h0M31.4 170.0h0M67.0 169.3h0M35.2 170.5h0M39.9 168.6h0M52.1 166.8h0M65.8 169.2h0M64.7 168.0h0M62.1 168.7h0M93.5 144.2h0M62.5 169.1h0M78.0 160.4h0M50.4 162.1h0M78.8 164.9h0M79.0 166.0h0M73.6 169.0h0M79.5 164.8h0M66.9 165.6h0M86.5 157.7h0M84.9 155.2h0M33.9 167.3h0M58.3 169.4h0M35.6 167.7h0M93.0 146.3h0M57.3 168.5h0M26.8 113.7h0M31.8 114.4h0M26.8 118.7h0M26.8 128.1h0M26.8 149.3h0M32.9 155.0h0M56.8 160.5h0M68.4 161.5h0M73.2 159.6h0M76.8 160.9h0M82.3 158.5h0M90.7 131.9h0M90.7 137.4h0M95.9 126.3h0M97.5 35.0h0M97.5 52.6h0M97.5 70.9h0M97.5 81.5h0M96.5 106.9h0M97.0 111.0h0M97.0 113.6h0M97.4 118.5h0M97.4 124.7h0M95.7 130.9h0M26.8 167.9h0M35.0 166.2h0M38.0 166.2h0M44.0 165.4h0M93.5 135.0h0M96.8 100.0h0M38.0 168.3h0M31.0 168.8h0M50.0 168.2h0M44.0 168.6h0" stroke="#19ec14" stroke-width="1.4" stroke-linecap="square" fill="none"/>
<path d="M26.6 368.0h0M26.6 367.8h0M26.6 367.1h0M26.6 368.3h0M26.7 367.8h0M26.7 368.0h0M26.7 366.8h0M26.7 366.9h0M26.8 366.1h0M26.8 366.2h0M26.8 367.9h0M26.8 366.6h0M26.8 367.7h0M26.8 367.4h0M26.9 366.6h0M26.9 367.5h0M26.9 365.9h0M26.9 368.3h0M27.0 365.5h0M27.0 367.3h0M27.0 366.8h0M27.0 368.3h0M27.1 367.7h0M27.2 368.3h0M27.2 365.8h0M27.2 367.8h0M27.2 365.3h0M27.3 365.9h0M27.3 368.1h0M27.3 368.4h0M27.3 368.2h0M27.3 368.3h0M27.3 365.5h0M27.4 368.1h0M27.4 365.9h0M27.4 368.3h0M27.4 367.3h0M27.4 368.4h0M27.5 368.0h0M27.6 368.0h0M27.7 367.6h0M27.7 366.5h0M27.7 365.4h0M27.8 365.7h0M27.8 367.7h0M27.8 366.5h0M27.8 366.6h0M27.8 365.3h0M27.8 367.7h0M27.9 366.6h0M27.9 367.5h0M27.9 365.2h0M27.9 367.3h0M27.9 366.3h0M28.0 368.3h0M28.0 365.7h0M28.0 366.4h0M28.1 368.2h0M28.1 366.3h0M28.1 368.2h0M28.2 366.7h0M28.2 365.4h0M28.2 367.4h0M28.2 367.0h0M28.2 366.2h0M28.2 368.3h0M28.3 368.3h0M28.3 368.2h0M28.4 365.2h0M28.4 365.8h0M28.5 366.0h0M28.6 367.0h0M28.6 366.4h0M28.6 367.2h0M28.6 365.7h0M28.6 365.9h0M28.8 368.2h0M28.8 367.5h0M28.8 366.8h0M28.9 365.8h0M29.0 368.0h0M29.0 365.6h0M29.0 365.9h0M29.1 368.1h0M29.1 366.4h0M29.1 365.5h0M29.1 365.5h0M29.1 365.8h0M29.2 368.2h0M29.2 365.5h0M29.3 367.6h0M29.3 368.2h0M29.3 368.4h0M29.4 366.5h0M29.4 367.2h0M29.5 367.2h0M29.5 368.0h0M29.5 366.7h0M29.6 366.3h0M29.6 367.3h0M29.6 368.3h0M29.6 368.3h0M29.7 366.9h0M29.7 368.1h0M29.8 368.4h0M29.8 366.0h0M29.8 368.4h0M29.8 367.5h0M29.8 366.4h0M29.9 368.1h0M29.9 368.2h0M29.9 367.8h0M29.9 367.8h0M29.9 368.3h0M29.9 367.1h0M30.0 365.2h0M30.0 365.6h0M30.1 366.4h0M30.1 367.9h0M30.1 365.7h0M30.1 368.4h0M30.1 367.2h0M30.2 366.6h0M30.2 366.1h0M30.2 365.4h0M30.2 366.8h0M30.3 366.9h0M30.3 366.2h0M30.3 365.6h0M30.4 368.2h0M30.4 366.0h0M30.4 366.0h0M30.4 367.3h0M30.4 365.8h0M30.4 365.8h0M30.4 368.3h0M30.5 365.4h0M30.5 367.3h0M30.5 368.3h0M30.5 367.7h0M30.5 365.2h0M30.5 367.7h0M30.6 365.4h0M30.6 367.2h0M30.6 367.8h0M30.7 365.9h0M30.7 367.9h0M30.7 366.5h0M30.8 368.3h0M30.9 368.1h0M30.9 367.1h0M30.9 367.8h0M30.9 368.4h0M30.9 367.6h0M30.9 366.7h0M30.9 366.3h0M31.0 365.8h0M31.0 368.3h0M31.0 366.1h0M31.0 367.3h0M31.0 366.4h0M31.0 367.7h0M31.1 367.6h0M31.1 365.7h0M31.1 366.7h0M31.1 366.9h0M31.2 366.1h0M31.2 367.7h0M31.2 365.8h0M31.3 366.5h0M31.3 366.0h0M31.3 365.4h0M31.3 366.6h0M31.3 366.5h0M31.4 366.0h0M31.4 366.8h0M31.4 365.7h0M31.4 367.4h0M31.4 368.0h0M31.4 367.9h0M31.4 365.6h0M31.5 367.9h0M31.5 368.3h0M31.5 367.6h0M31.6 366.9h0M31.7 366.3h0M31.8 368.3h0M31.8 367.4h0M31.8 366.2h0M31.8 367.4h0M31.8 368.0h0M31.8 365.6h0M31.9 367.7h0M31.9 368.2h0M31.9 367.3h0M31.9 366.8h0M31.9 366.4h0M31.9 366.6h0M32.1 366.4h0M32.1 367.5h0M32.1 366.6h0M32.2 366.2h0M32.2 366.1h0M32.3 366.4h0M32.3 368.0h0M32.3 366.5h0M32.3 366.1h0M32.4 365.4h0M32.4 365.8h0M32.4 368.4h0M32.5 365.3h0M32.5 367.5h0M32.5 367.1h0M32.5 368.3h0M32.6 367.7h0M32.6 368.2h0M32.7 367.7h0M32.7 368.0h0M32.8 368.1h0M32.8 367.7h0M32.8 365.8h0M32.8 367.3h0M32.9 367.9h0M32.9 368.3h0M32.9 367.9h0M32.9 365.4h0M33.0 365.5h0M33.0 365.8h0M33.0 366.0h0M33.1 365.8h0M33.1 368.4h0M33.1 365.6h0M33.1 365.8h0M33.1 368.1h0M33.2 365.5h0M33.2 366.7h0M33.2 368.1h0M33.2 365.8h0M33.3 368.4h0M33.3 366.9h0M33.4 367.5h0M33.4 367.0h0M33.4 365.7h0M33.4 367.2h0M33.5 366.2h0M33.5 368.2h0M33.5 365.4h0M33.5 367.5h0M33.5 368.3h0M33.6 368.1h0M33.7 365.6h0M33.7 368.4h0M33.8 365.4h0M33.8 366.2h0M33.8 367.8h0M33.8 365.7h0M33.8 368.3h0M33.9 366.3h0M33.9 367.9h0M33.9 366.4h0M34.0 368.4h0M34.0 366.3h0M34.0 367.0h0M34.0 365.9h0M34.0 367.1h0M34.0 366.0h0M34.1 367.7h0M34.1 365.9h0M34.1 365.6h0M34.1 368.4h0M34.1 366.5h0M34.1 367.9h0M34.2 365.6h0M34.2 365.4h0M34.2 366.6h0M34.2 367.8h0M34.2 366.1h0M34.2 366.5h0M34.2 368.2h0M34.3 367.8h0M34.3 368.3h0M34.3 367.4h0M34.4 368.0h0M34.4 367.7h0M34.4 367.5h0M34.4 366.2h0M34.5 366.0h0M34.5 367.9h0M34.5 368.1h0M34.5 366.8h0M34.6 366.7h0M34.6 367.5h0M34.6 366.0h0M34.6 368.0h0M34.7 365.6h0M34.7 367.1h0M34.7 366.3h0M34.8 367.9h0M34.8 368.3h0M34.8 366.6h0M34.8 367.6h0M34.8 367.4h0M34.9 366.2h0M34.9 367.5h0M34.9 366.1h0M34.9 367.9h0M34.9 367.2h0M35.0 367.6h0M35.0 368.1h0M35.1 367.0h0M35.1 367.3h0M35.1 366.8h0M35.1 367.1h0M35.2 367.9h0M35.2 368.1h0M35.2 367.1h0M35.2 367.2h0M35.3 368.0h0M35.3 367.5h0M35.4 368.4h0M35.4 368.3h0M35.4 368.3h0M35.5 368.1h0M35.5 366.7h0M35.5 366.5h0M35.5 366.1h0M35.6 367.4h0M35.6 366.6h0M35.6 366.9h0M35.6 368.2h0M35.6 367.9h0M35.7 365.6h0M35.7 368.4h0M35.7 368.4h0M35.7 367.1h0M35.7 367.2h0M35.7 366.8h0M35.7 367.6h0M35.7 366.4h0M35.7 367.6h0M35.7 367.3h0M35.7 366.6h0M35.7 365.6h0M35.7 368.1h0M35.8 367.5h0M35.8 367.6h0M35.8 368.4h0M35.8 365.6h0M35.9 366.4h0M35.9 367.6h0M35.9 367.9h0M35.9 368.0h0M35.9 367.5h0M36.0 367.9h0M36.0 367.2h0M36.0 367.2h0M36.0 367.0h0M36.0 366.0h0M36.1 366.3h0M36.1 368.3h0M36.2 368.3h0M36.2 366.8h0M36.2 367.3h0M36.3 368.4h0M36.3 367.9h0M36.4 368.1h0M36.4 367.1h0M36.4 368.1h0M36.4 365.5h0M36.4 365.6h0M36.4 368.4h0M36.5 366.6h0M36.5 365.6h0M36.6 367.8h0M36.6 365.4h0M36.6 368.2h0M36.6 368.2h0M36.6 368.2h0M36.7 367.8h0M36.7 366.8h0M36.7 366.1h0M36.8 368.3h0M36.8 368.3h0M36.8 368.2h0M36.8 365.6h0M36.9 365.2h0M36.9 366.2h0M36.9 368.3h0M36.9 368.2h0M36.9 367.6h0M36.9 366.7h0M36.9 366.5h0M36.9 366.6h0M37.0 368.1h0M37.0 365.9h0M37.0 366.1h0M37.0 367.7h0M37.0 367.7h0M37.0 368.3h0M37.0 367.9h0M37.0 368.1h0M37.1 367.4h0M37.1 366.9h0M37.1 365.5h0M37.1 367.6h0M37.1 367.9h0M37.2 365.8h0M37.2 368.3h0M37.3 368.0h0M37.3 366.6h0M37.3 366.6h0M37.4 367.1h0M37.4 367.8h0M37.4 368.2h0M37.4 368.3h0M37.4 366.6h0M37.4 366.8h0M37.5 367.0h0M37.5 366.9h0M37.5 365.6h0M37.5 365.3h0M37.5 367.6h0M37.6 368.0h0M37.6 368.1h0M37.7 368.1h0M37.7 365.3h0M37.7 367.3h0M37.7 368.1h0M37.7 368.1h0M37.7 366.7h0M37.8 367.3h0M37.8 366.4h0M37.9 365.2h0M37.9 367.8h0M38.0 365.5h0M38.0 368.0h0M38.2 368.0h0M38.2 365.3h0M38.2 366.4h0M38.2 366.3h0M38.3 365.6h0M38.3 367.3h0M38.3 367.3h0M38.3 368.1h0M38.3 367.2h0M38.4 366.9h0M38.4 366.8h0M38.4 367.7h0M38.5 368.2h0M38.6 367.8h0M38.6 368.3h0M38.6 368.4h0M38.6 368.3h0M38.6 368.4h0M38.7 365.8h0M38.7 368.3h0M38.8 368.0h0M38.8 365.7h0M38.8 368.1h0M38.8 366.9h0M38.8 365.9h0M38.8 367.6h0M38.8 366.4h0M38.9 366.6h0M38.9 368.2h0M38.9 365.7h0M38.9 366.6h0M38.9 368.2h0M39.0 365.8h0M39.0 366.1h0M39.0 365.6h0M39.0 366.8h0M39.0 366.3h0M39.0 368.2h0M39.0 365.7h0M39.0 368.3h0M39.0 367.2h0M39.1 367.7h0M39.1 366.8h0M39.1 365.2h0M39.2 365.4h0M39.2 368.0h0M39.2 366.3h0M39.2 366.2h0M39.2 368.4h0M39.3 365.8h0M39.3 367.2h0M39.3 367.2h0M39.3 368.0h0M39.4 367.2h0M39.4 367.5h0M39.4 368.4h0M39.4 368.2h0M39.4 365.6h0M39.5 368.0h0M39.5 365.7h0M39.6 367.2h0M39.6 366.5h0M39.6 368.4h0M39.6 368.3h0M39.6 368.3h0M39.7 366.7h0M39.7 367.7h0M39.7 368.3h0M39.7 366.1h0M39.7 367.8h0M39.8 367.0h0M39.8 366.8h0M39.9 367.0h0M40.0 367.4h0M40.0 368.4h0M40.0 368.1h0M40.0 366.4h0M40.1 366.6h0M40.1 365.3h0M40.1 368.4h0M40.1 368.1h0M40.1 368.2h0M40.1 366.0h0M40.2 366.5h0M40.2 365.9h0M40.2 368.0h0M40.2 365.7h0M40.2 368.4h0M40.3 368.3h0M40.3 367.9h0M40.3 366.5h0M40.4 366.7h0M40.4 368.3h0M40.4 368.3h0M40.5 366.1h0M40.5 367.4h0M40.5 368.3h0M40.5 368.4h0M40.5 368.2h0M40.6 368.2h0M40.6 365.8h0M40.6 368.1h0M40.6 365.5h0M40.7 367.3h0M40.7 366.6h0M40.7 368.3h0M40.7 368.1h0M40.7 368.0h0M40.8 368.3h0M40.8 367.3h0M40.8 368.1h0M40.9 368.1h0M40.9 367.8h0M41.0 366.5h0M41.0 365.4h0M41.0 368.1h0M41.0 365.4h0M41.0 367.1h0M41.0 368.4h0M41.0 368.0h0M41.1 365.9h0M41.1 368.3h0M41.1 367.8h0M41.1 367.8h0M41.1 368.2h0M41.1 366.5h0M41.2 367.1h0M41.2 368.1h0M41.2 365.5h0M41.2 366.5h0M41.2 365.7h0M41.3 365.3h0M41.3 367.6h0M41.4 367.6h0M41.4 366.9h0M41.4 368.4h0M41.5 365.9h0M41.5 365.7h0M41.5 366.2h0M41.5 367.2h0M41.5 365.8h0M41.5 366.4h0M41.6 365.7h0M41.6 366.6h0M41.6 367.5h0M41.6 367.4h0M41.7 366.3h0M41.7 368.2h0M41.7 365.6h0M41.7 365.4h0M41.7 365.6h0M41.7 367.1h0M41.8 368.4h0M41.8 365.7h0M41.8 368.1h0M41.8 368.4h0M41.8 367.3h0M41.9 365.5h0M41.9 366.8h0M41.9 368.0h0M42.0 368.3h0M42.0 367.0h0M42.0 367.7h0M42.0 368.2h0M42.0 367.9h0M42.0 365.8h0M42.1 366.8h0M42.1 367.5h0M42.1 368.2h0M42.2 367.5h0M42.2 368.3h0M42.2 366.3h0M42.2 366.4h0M42.2 367.8h0M42.2 367.4h0M42.2 367.2h0M42.2 367.8h0M42.3 365.4h0M42.4 367.7h0M42.4 365.7h0M42.4 365.3h0M42.5 367.5h0M42.5 368.3h0M42.5 366.5h0M42.5 367.3h0M42.6 367.1h0M42.6 365.4h0M42.6 368.3h0M42.6 365.6h0M42.6 367.4h0M42.7 368.1h0M42.7 368.0h0M42.7 368.0h0M42.7 367.2h0M42.7 365.4h0M42.7 366.6h0M42.7 367.1h0M42.8 365.7h0M42.8 367.3h0M42.8 368.2h0M42.8 367.8h0M42.8 365.3h0M42.9 366.2h0M42.9 367.2h0M42.9 365.4h0M42.9 368.1h0M42.9 365.6h0M42.9 365.5h0M43.0 367.8h0M43.0 367.5h0M43.0 368.0h0M43.0 368.4h0M43.0 368.0h0M43.1 365.6h0M43.1 368.3h0M43.2 367.8h0M43.2 367.5h0M43.2 368.3h0M43.2 368.1h0M43.3 367.9h0M43.3 366.9h0M43.3 366.0h0M43.4 368.1h0M43.4 367.5h0M43.4 367.3h0M43.5 367.7h0M43.5 366.5h0M43.5 365.6h0M43.5 368.0h0M43.6 367.8h0M43.7 368.4h0M43.7 368.4h0M43.7 366.8h0M43.8 368.1h0M43.8 367.9h0M43.8 365.1h0M43.8 367.5h0M43.8 367.1h0M43.9 367.7h0M43.9 365.8h0M43.9 368.1h0M44.0 367.9h0M44.0 367.2h0M44.0 365.3h0M44.1 367.6h0M44.1 366.0h0M44.1 367.4h0M44.1 366.6h0M44.1 368.2h0M44.1 365.7h0M44.2 366.5h0M44.2 367.4h0M44.2 365.7h0M44.2 368.0h0M44.3 367.8h0M44.3 366.0h0M44.3 365.4h0M44.3 365.2h0M44.3 367.2h0M44.3 366.2h0M44.4 367.0h0M44.4 367.9h0M44.4 365.2h0M44.5 367.7h0M44.5 365.9h0M44.5 368.2h0M44.5 368.1h0M44.5 368.4h0M44.6 367.9h0M44.6 368.4h0M44.6 367.3h0M44.6 366.8h0M44.7 365.4h0M44.7 366.0h0M44.9 365.6h0M44.9 366.7h0M44.9 365.9h0M45.0 367.6h0M45.0 366.4h0M45.0 367.7h0M45.0 366.6h0M45.1 367.5h0M45.1 367.0h0M45.1 366.9h0M45.1 366.8h0M45.2 368.3h0M45.2 368.3h0M45.3 366.1h0M45.3 368.4h0M45.4 367.4h0M45.4 368.1h0M45.5 368.2h0M45.5 367.5h0M45.5 368.3h0M45.5 368.3h0M45.5 366.7h0M45.5 365.6h0M45.6 366.0h0M45.6 365.7h0M45.7 367.6h0M45.7 366.0h0M45.7 368.3h0M45.7 368.0h0M45.8 367.5h0M45.8 367.0h0M45.8 367.0h0M45.8 365.3h0M45.8 365.9h0M45.8 368.3h0M45.9 365.3h0M45.9 367.5h0M45.9 366.0h0M46.0 368.3h0M46.0 365.5h0M46.0 367.5h0M46.0 366.6h0M46.0 366.6h0M46.1 367.7h0M46.1 367.8h0M46.1 368.2h0M46.1 368.2h0M46.2 366.1h0M46.2 366.9h0M46.3 366.6h0M46.3 365.5h0M46.3 368.4h0M46.3 368.2h0M46.3 366.1h0M46.3 365.8h0M46.3 367.4h0M46.4 365.7h0M46.4 365.6h0M46.4 365.4h0M46.4 366.2h0M46.5 365.5h0M46.5 366.3h0M46.5 368.1h0M46.5 368.1h0M46.5 367.2h0M46.5 366.7h0M46.6 368.3h0M46.6 365.2h0M46.7 368.1h0M46.8 365.9h0M46.8 368.3h0M46.9 368.4h0M46.9 367.8h0M47.0 365.1h0M47.0 368.2h0M47.0 368.4h0M47.0 367.2h0M47.0 365.3h0M47.1 366.5h0M47.1 367.5h0M47.1 368.2h0M47.2 366.6h0M47.2 367.2h0M47.2 365.2h0M47.2 366.9h0M47.2 368.1h0M47.2 366.0h0M47.3 365.4h0M47.3 365.8h0M47.3 367.2h0M47.3 365.4h0M47.3 367.3h0M47.4 367.9h0M47.4 368.0h0M47.4 368.3h0M47.4 365.2h0M47.4 366.0h0M47.4 365.2h0M47.4 366.7h0M47.5 367.7h0M47.6 367.2h0M47.6 367.7h0M47.6 368.3h0M47.6 367.8h0M47.7 368.3h0M47.7 366.2h0M47.7 368.3h0M47.7 367.6h0M47.7 367.2h0M47.7 366.5h0M47.8 367.9h0M47.8 366.0h0M47.9 368.1h0M47.9 365.2h0M47.9 365.2h0M47.9 368.3h0M47.9 366.9h0M48.0 367.9h0M48.0 368.0h0M48.0 367.6h0M48.1 366.5h0M48.1 365.4h0M48.1 365.3h0M48.2 367.3h0M48.2 367.7h0M48.3 366.3h0M48.5 365.5h0M48.5 366.5h0M48.5 365.5h0M48.5 368.4h0M48.5 368.1h0M48.5 368.4h0M48.6 365.7h0M48.6 367.8h0M48.6 366.7h0M48.6 367.3h0M48.6 367.1h0M48.7 367.6h0M48.8 368.2h0M48.8 367.1h0M48.8 368.2h0M48.8 367.8h0M48.8 368.4h0M48.9 367.7h0M48.9 367.7h0M49.0 365.2h0M49.0 365.4h0M49.0 366.7h0M49.0 367.0h0M49.1 365.7h0M49.2 365.2h0M49.2 365.8h0M49.2 365.9h0M49.2 367.2h0M49.2 366.4h0M49.2 367.7h0M49.3 367.6h0M49.3 366.9h0M49.3 366.7h0M49.4 368.1h0M49.4 367.9h0M49.6 367.6h0M49.6 366.8h0M49.6 368.4h0M49.6 367.5h0M49.7 365.6h0M49.7 367.6h0M49.7 366.3h0M49.8 367.6h0M49.8 365.9h0M49.8 367.9h0M49.9 366.8h0M49.9 368.0h0M49.9 368.2h0M49.9 366.8h0M49.9 366.7h0M49.9 365.8h0M50.0 368.2h0M50.0 368.2h0M50.0 366.1h0M50.0 368.4h0M50.0 367.8h0M50.1 367.8h0M50.1 368.2h0M50.1 368.3h0M50.1 366.6h0M50.2 367.7h0M50.2 365.1h0M50.2 366.9h0M50.2 367.9h0M50.3 367.7h0M50.3 367.2h0M50.3 365.8h0M50.3 366.8h0M50.4 368.3h0M50.4 366.3h0M50.4 368.0h0M50.4 368.2h0M50.5 366.3h0M50.5 367.5h0M50.5 367.4h0M50.6 365.6h0M50.6 368.4h0M50.6 367.8h0M50.7 368.0h0M50.7 368.4h0M50.7 366.3h0M50.7 366.5h0M50.8 367.7h0M50.8 368.0h0M50.8 367.3h0M50.8 368.2h0M50.9 366.1h0M50.9 368.4h0M50.9 366.7h0M51.0 367.2h0M51.0 368.0h0M51.1 368.3h0M51.1 367.5h0M51.2 366.6h0M51.2 367.5h0M51.2 366.3h0M51.3 368.3h0M51.3 367.4h0M51.3 366.5h0M51.3 368.3h0M51.3 367.8h0M51.4 366.7h0M51.4 366.7h0M51.4 366.6h0M51.4 367.8h0M51.4 367.1h0M51.5 368.1h0M51.5 368.1h0M51.5 368.2h0M51.5 365.2h0M51.6 368.4h0M51.6 366.0h0M51.6 367.8h0M51.6 367.8h0M51.7 366.2h0M51.7 367.7h0M51.7 367.7h0M51.8 367.4h0M51.8 368.1h0M51.9 367.5h0M51.9 366.1h0M51.9 368.4h0M51.9 368.0h0M51.9 368.3h0M52.0 368.3h0M52.0 365.8h0M52.0 366.9h0M52.0 365.2h0M52.0 366.2h0M52.0 368.2h0M52.1 368.1h0M52.1 366.5h0M52.1 367.5h0M52.1 368.0h0M52.1 367.6h0M52.2 368.0h0M52.2 365.5h0M52.2 367.4h0M52.3 368.3h0M52.3 368.1h0M52.3 367.4h0M52.3 365.9h0M52.3 365.8h0M52.5 366.9h0M52.5 367.8h0M52.5 368.2h0M52.5 368.4h0M52.5 366.1h0M52.6 366.9h0M52.7 367.6h0M52.7 367.7h0M52.8 367.1h0M52.8 367.5h0M52.8 368.4h0M52.8 367.0h0M52.8 367.2h0M52.8 368.2h0M52.9 367.6h0M52.9 365.3h0M53.0 366.9h0M53.1 366.9h0M53.2 367.8h0M53.2 367.8h0M53.2 365.7h0M53.2 365.5h0M53.2 366.8h0M53.2 366.7h0M53.2 366.9h0M53.2 367.6h0M53.3 368.3h0M53.4 367.4h0M53.4 367.6h0M53.5 366.7h0M53.5 367.4h0M53.5 368.4h0M53.5 368.2h0M53.5 365.3h0M53.6 367.2h0M53.6 365.4h0M53.6 368.2h0M53.7 367.9h0M53.7 366.7h0M53.7 367.4h0M53.7 366.9h0M53.8 365.7h0M53.8 365.4h0M53.8 366.4h0M53.9 367.4h0M53.9 366.7h0M53.9 367.4h0M54.0 365.9h0M54.0 365.4h0M54.0 367.4h0M54.0 366.4h0M54.0 366.9h0M54.1 366.0h0M54.1 368.2h0M54.1 365.8h0M54.2 367.6h0M54.3 365.7h0M54.3 367.6h0M54.3 367.4h0M54.3 368.2h0M54.3 367.0h0M54.4 367.8h0M54.4 368.2h0M54.4 367.6h0M54.4 368.4h0M54.5 368.4h0M54.5 367.5h0M54.5 367.3h0M54.5 368.0h0M54.6 366.6h0M54.6 368.4h0M54.6 368.2h0M54.7 367.6h0M54.7 367.4h0M54.7 367.0h0M54.8 367.1h0M54.8 367.5h0M54.8 365.6h0M54.8 367.9h0M54.9 368.4h0M55.0 367.1h0M55.0 368.1h0M55.1 368.2h0M55.1 367.7h0M55.1 365.1h0M55.1 367.6h0M55.1 366.2h0M55.1 365.8h0M55.1 367.1h0M55.2 365.5h0M55.2 365.6h0M55.2 367.5h0M55.2 367.0h0M55.2 367.6h0M55.3 365.4h0M55.3 368.3h0M55.3 366.1h0M55.3 365.2h0M55.3 365.3h0M55.4 366.9h0M55.4 365.6h0M55.4 365.2h0M55.4 367.7h0M55.5 367.2h0M55.5 368.2h0M55.5 368.0h0M55.6 367.5h0M55.6 366.3h0M55.6 367.1h0M55.7 365.8h0M55.7 367.4h0M55.7 365.1h0M55.8 365.1h0M55.8 367.8h0M55.8 366.6h0M55.9 365.9h0M55.9 365.9h0M55.9 366.7h0M55.9 368.4h0M56.0 367.1h0M56.1 365.9h0M56.1 367.7h0M56.2 367.8h0M56.2 366.4h0M56.2 367.5h0M56.2 365.1h0M56.2 366.1h0M56.3 367.0h0M56.3 366.7h0M56.3 367.4h0M56.3 365.5h0M56.3 366.5h0M56.3 366.2h0M56.4 367.1h0M56.4 368.4h0M56.4 368.4h0M56.4 367.3h0M56.4 368.4h0M56.4 365.4h0M56.5 367.4h0M56.5 367.2h0M56.6 368.1h0M56.7 366.4h0M56.7 367.2h0M56.7 368.2h0M56.7 367.5h0M56.7 368.3h0M56.8 366.0h0M56.8 367.6h0M56.8 366.7h0M56.8 367.7h0M56.8 367.8h0M56.9 368.4h0M56.9 366.6h0M56.9 367.0h0M56.9 367.9h0M56.9 365.1h0M56.9 366.9h0M56.9 366.1h0M57.0 368.0h0M57.0 368.2h0M57.0 366.3h0M57.0 367.8h0M57.0 368.0h0M57.1 365.1h0M57.1 367.1h0M57.1 367.5h0M57.1 368.4h0M57.1 366.7h0M57.2 367.1h0M57.2 368.3h0M57.2 366.7h0M57.2 366.7h0M57.2 366.2h0M57.2 366.8h0M57.2 367.9h0M57.4 366.1h0M57.4 368.2h0M57.4 365.2h0M57.4 366.2h0M57.4 367.8h0M57.5 365.2h0M57.5 365.5h0M57.6 368.4h0M57.6 367.6h0M57.7 368.4h0M57.7 368.4h0M57.7 365.6h0M57.8 365.2h0M57.8 366.7h0M57.8 366.4h0M57.8 366.8h0M57.8 366.7h0M57.8 366.9h0M57.8 367.5h0M57.8 367.8h0M57.8 368.4h0M57.9 368.0h0M57.9 368.0h0M57.9 366.8h0M57.9 366.0h0M57.9 366.1h0M57.9 367.2h0M57.9 366.7h0M58.0 368.4h0M58.1 368.3h0M58.1 365.7h0M58.1 367.4h0M58.1 367.3h0M58.1 367.7h0M58.1 366.3h0M58.1 368.0h0M58.1 367.0h0M58.2 367.2h0M58.2 367.4h0M58.2 367.9h0M58.4 368.1h0M58.4 368.2h0M58.4 365.8h0M58.4 368.3h0M58.4 368.0h0M58.5 367.7h0M58.5 368.4h0M58.5 366.1h0M58.5 367.4h0M58.5 367.7h0M58.5 367.8h0M58.5 367.1h0M58.6 367.4h0M58.6 368.2h0M58.6 367.4h0M58.7 367.9h0M58.7 366.8h0M58.7 366.5h0M58.7 368.3h0M58.8 368.4h0M58.8 367.9h0M58.9 365.6h0M58.9 368.4h0M58.9 366.3h0M58.9 365.2h0M58.9 368.4h0M58.9 368.3h0M58.9 366.1h0M58.9 366.6h0M58.9 368.1h0M59.0 367.3h0M59.0 365.1h0M59.0 368.4h0M59.0 366.5h0M59.0 366.7h0M59.0 366.0h0M59.0 367.7h0M59.1 368.3h0M59.1 368.0h0M59.1 367.9h0M59.2 365.8h0M59.2 366.4h0M59.2 368.4h0M59.2 365.9h0M59.3 366.7h0M59.4 367.9h0M59.4 368.3h0M59.4 367.2h0M59.4 368.3h0M59.5 368.4h0M59.5 368.2h0M59.6 367.9h0M59.6 368.2h0M59.7 368.3h0M59.7 366.5h0M59.7 366.8h0M59.8 368.4h0M59.8 367.6h0M59.8 367.2h0M59.8 366.0h0M59.9 367.3h0M59.9 365.6h0M60.1 365.7h0M60.1 366.9h0M60.2 365.8h0M60.2 366.3h0M60.2 368.1h0M60.2 368.4h0M60.2 368.3h0M60.2 366.6h0M60.3 368.2h0M60.3 367.2h0M60.3 367.1h0M60.4 367.5h0M60.4 365.2h0M60.5 365.7h0M60.5 367.8h0M60.5 368.3h0M60.5 367.7h0M60.5 368.1h0M60.6 367.3h0M60.6 368.2h0M60.6 367.4h0M60.6 367.7h0M60.6 367.5h0M60.6 367.1h0M60.6 365.1h0M60.6 368.2h0M60.6 368.4h0M60.7 367.8h0M60.7 366.2h0M60.7 365.9h0M60.8 366.9h0M60.8 365.6h0M60.8 365.5h0M60.8 368.2h0M60.8 365.9h0M60.8 365.8h0M60.8 368.3h0M61.0 366.7h0M61.0 366.9h0M61.0 366.2h0M61.0 367.9h0M61.0 365.6h0M61.1 368.3h0M61.1 367.5h0M61.2 365.0h0M61.2 365.1h0M61.2 367.8h0M61.3 365.1h0M61.3 367.5h0M61.4 366.7h0M61.4 366.1h0M61.4 367.4h0M61.4 368.3h0M61.4 367.3h0M61.5 368.0h0M61.6 368.0h0M61.6 366.8h0M61.7 366.3h0M61.7 366.6h0M61.7 365.1h0M61.7 365.1h0M61.8 366.3h0M61.8 365.3h0M61.8 368.4h0M61.9 365.3h0M61.9 367.5h0M61.9 366.1h0M61.9 365.2h0M61.9 367.5h0M61.9 367.2h0M62.0 368.4h0M62.0 367.8h0M62.0 368.3h0M62.0 366.8h0M62.1 368.1h0M62.1 366.3h0M62.1 368.1h0M62.1 365.5h0M62.2 368.2h0M62.2 366.5h0M62.2 366.0h0M62.2 368.0h0M62.2 365.1h0M62.2 368.3h0M62.3 365.7h0M62.3 366.7h0M62.3 368.3h0M62.3 367.3h0M62.3 365.7h0M62.3 365.9h0M62.3 367.9h0M62.4 368.4h0M62.4 368.1h0M62.4 365.2h0M62.4 368.1h0M62.5 366.6h0M62.5 365.9h0M62.5 367.4h0M62.6 367.2h0M62.6 366.7h0M62.6 366.2h0M62.6 366.2h0M62.6 365.7h0M62.6 367.8h0M62.7 368.2h0M62.7 368.0h0M62.7 367.9h0M62.7 367.6h0M62.7 368.2h0M62.7 368.2h0M62.8 366.0h0M62.8 367.2h0M62.8 367.0h0M62.9 365.8h0M62.9 368.3h0M63.0 366.8h0M63.0 367.2h0M63.0 366.5h0M63.1 368.3h0M63.1 365.7h0M63.2 367.7h0M63.2 366.6h0M63.2 367.8h0M63.3 365.7h0M63.3 367.8h0M63.3 368.4h0M63.4 368.2h0M63.5 366.7h0M63.5 366.1h0M63.6 367.7h0M63.6 368.3h0M63.6 367.4h0M63.7 366.5h0M63.7 367.1h0M63.8 365.7h0M63.8 367.4h0M63.9 367.4h0M63.9 366.0h0M63.9 368.3h0M63.9 368.4h0M63.9 368.1h0M64.0 365.8h0M64.0 366.4h0M64.0 366.6h0M64.0 367.9h0M64.0 367.2h0M64.0 368.0h0M64.1 368.3h0M64.1 368.1h0M64.1 368.3h0M64.1 366.2h0M64.2 368.3h0M64.2 366.3h0M64.2 365.8h0M64.3 367.8h0M64.3 365.3h0M64.3 368.3h0M64.3 365.7h0M64.4 367.2h0M64.4 366.7h0M64.4 367.1h0M64.4 367.7h0M64.4 365.8h0M64.4 366.6h0M64.4 368.2h0M64.4 366.7h0M64.5 367.3h0M64.5 366.2h0M64.5 366.3h0M64.5 367.4h0M64.5 367.0h0M64.6 368.1h0M64.6 367.8h0M64.7 367.8h0M64.7 365.6h0M64.7 367.4h0M64.8 367.5h0M64.8 367.5h0M64.8 367.7h0M64.8 368.3h0M64.9 367.6h0M64.9 368.2h0M64.9 366.0h0M65.0 365.4h0M65.0 367.5h0M65.0 367.0h0M65.1 367.9h0M65.1 365.5h0M65.1 367.4h0M65.1 365.9h0M65.2 366.8h0M65.2 367.0h0M65.2 365.8h0M65.2 367.1h0M65.2 366.5h0M65.3 366.2h0M65.3 368.4h0M65.4 367.9h0M65.4 368.3h0M65.4 367.4h0M65.4 368.4h0M65.5 365.7h0M65.5 365.8h0M65.5 367.7h0M65.5 366.2h0M65.6 368.4h0M65.6 365.6h0M65.6 367.2h0M65.6 366.5h0M65.7 367.5h0M65.7 368.1h0M65.8 368.3h0M65.8 366.0h0M65.8 366.9h0M65.8 365.6h0M65.8 367.1h0M65.8 366.4h0M65.8 368.3h0M65.9 365.7h0M65.9 367.9h0M65.9 366.7h0M65.9 367.4h0M65.9 366.4h0M66.0 366.9h0M66.0 368.4h0M66.0 367.4h0M66.0 365.1h0M66.0 367.6h0M66.1 367.5h0M66.2 365.6h0M66.2 365.6h0M66.3 368.3h0M66.3 366.8h0M66.3 366.3h0M66.3 368.4h0M66.4 366.2h0M66.4 367.2h0M66.4 368.3h0M66.5 365.6h0M66.5 367.3h0M66.5 368.1h0M66.6 368.0h0M66.6 365.5h0M66.8 366.2h0M66.8 368.1h0M66.8 365.8h0M66.8 366.6h0M66.9 365.9h0M66.9 365.2h0M66.9 368.1h0M66.9 365.5h0M67.1 367.6h0M67.1 365.5h0M67.2 365.6h0M67.2 368.1h0M67.2 366.7h0M67.2 367.6h0M67.2 368.4h0M67.2 367.3h0M67.3 368.3h0M67.3 367.7h0M67.3 368.3h0M67.3 367.7h0M67.4 366.8h0M67.4 368.4h0M67.4 367.3h0M67.4 368.2h0M67.5 366.5h0M67.5 367.2h0M67.5 368.1h0M67.5 366.8h0M67.6 366.9h0M67.6 368.3h0M67.6 367.1h0M67.6 366.5h0M67.6 366.2h0M67.7 365.7h0M67.7 366.7h0M67.8 368.1h0M67.8 367.4h0M67.9 368.3h0M67.9 365.2h0M67.9 365.6h0M67.9 365.1h0M68.0 368.4h0M68.0 368.1h0M68.0 365.5h0M68.0 367.9h0M68.1 366.0h0M68.1 368.3h0M68.2 366.6h0M68.2 366.4h0M68.2 368.3h0M68.2 368.2h0M68.2 367.5h0M68.3 367.9h0M68.3 367.5h0M68.3 366.6h0M68.4 368.3h0M68.4 368.3h0M68.4 367.3h0M68.4 366.0h0M68.4 365.1h0M68.5 366.4h0M68.5 368.3h0M68.5 368.1h0M68.6 366.9h0M68.6 368.2h0M68.6 368.3h0M68.6 366.6h0M68.7 368.3h0M68.7 367.3h0M68.7 365.9h0M68.7 368.3h0M68.7 365.3h0M68.8 367.5h0M68.8 368.3h0M68.8 368.1h0M68.9 368.1h0M68.9 365.6h0M68.9 365.4h0M69.0 367.0h0M69.0 367.8h0M69.0 366.2h0M69.0 367.3h0M69.0 367.5h0M69.1 366.6h0M69.2 366.5h0M69.2 366.0h0M69.2 366.8h0M69.2 368.0h0M69.2 365.3h0M69.2 368.3h0M69.3 365.1h0M69.3 367.9h0M69.3 366.2h0M69.4 365.3h0M69.4 365.8h0M69.4 367.5h0M69.4 368.2h0M69.4 365.2h0M69.5 367.9h0M69.6 365.4h0M69.6 368.3h0M69.6 366.4h0M69.6 366.0h0M69.6 368.1h0M69.7 365.0h0M69.7 365.5h0M69.7 368.1h0M69.7 368.4h0M69.7 366.5h0M69.8 368.3h0M69.8 367.7h0M69.8 367.9h0M69.9 367.9h0M70.0 368.1h0M70.0 367.6h0M70.0 368.3h0M70.1 365.8h0M70.1 368.3h0M70.1 368.2h0M70.2 368.1h0M70.3 366.9h0M70.3 367.4h0M70.3 368.3h0M70.3 365.2h0M70.3 365.9h0M70.4 365.2h0M70.4 365.8h0M70.5 367.8h0M70.5 368.4h0M70.5 367.0h0M70.6 365.1h0M70.6 365.3h0M70.6 367.9h0M70.7 367.4h0M70.7 367.7h0M70.7 368.2h0M70.7 365.3h0M70.7 367.7h0M70.7 368.2h0M70.7 368.3h0M70.8 366.2h0M70.9 365.3h0M71.0 365.8h0M71.0 368.0h0M71.0 367.4h0M71.0 365.1h0M71.1 367.9h0M71.1 366.7h0M71.1 367.3h0M71.1 368.2h0M71.1 365.9h0M71.1 365.7h0M71.1 366.8h0M71.2 368.3h0M71.2 368.3h0M71.2 368.2h0M71.2 367.9h0M71.2 366.0h0M71.3 367.9h0M71.3 366.6h0M71.3 365.2h0M71.3 367.9h0M71.4 365.9h0M71.4 366.3h0M71.5 367.9h0M71.5 366.3h0M71.5 367.4h0M71.5 366.3h0M71.6 366.0h0M71.6 365.2h0M71.6 367.4h0M71.7 367.8h0M71.7 365.0h0M71.8 366.2h0M71.8 367.7h0M71.8 365.0h0M71.9 365.8h0M71.9 367.3h0M71.9 367.8h0M72.0 367.3h0M72.0 368.4h0M72.0 365.0h0M72.0 368.3h0M72.0 367.4h0M72.0 367.6h0M72.1 366.0h0M72.1 366.3h0M72.1 366.9h0M72.1 364.7h0M72.1 367.6h0M72.2 368.4h0M72.3 367.2h0M72.3 368.3h0M72.3 366.3h0M72.3 368.3h0M72.4 368.3h0M72.4 366.9h0M72.4 364.8h0M72.4 365.5h0M72.4 364.8h0M72.5 367.8h0M72.5 364.9h0M72.5 368.3h0M72.6 367.4h0M72.6 366.6h0M72.6 366.6h0M72.6 368.4h0M72.6 365.1h0M72.7 368.0h0M72.7 368.3h0M72.7 366.2h0M72.8 366.8h0M72.8 367.1h0M72.8 366.4h0M72.8 364.7h0M72.8 366.0h0M72.8 366.9h0M72.9 368.2h0M73.0 365.4h0M73.1 368.2h0M73.1 366.5h0M73.2 367.7h0M73.2 366.3h0M73.2 367.8h0M73.2 366.2h0M73.2 367.6h0M73.2 365.0h0M73.2 365.0h0M73.2 365.0h0M73.3 367.6h0M73.3 366.1h0M73.3 368.4h0M73.3 366.7h0M73.3 365.3h0M73.4 367.8h0M73.4 367.4h0M73.4 367.4h0M73.4 366.9h0M73.4 365.0h0M73.5 365.5h0M73.5 368.4h0M73.5 367.6h0M73.6 368.1h0M73.6 367.8h0M73.6 368.4h0M73.6 366.5h0M73.7 364.4h0M73.7 368.1h0M73.7 367.0h0M73.8 368.4h0M73.8 365.4h0M73.8 364.6h0M73.8 366.8h0M73.8 366.3h0M73.8 365.6h0M73.8 367.5h0M73.8 368.3h0M73.8 367.1h0M73.8 364.8h0M73.9 366.4h0M74.0 367.9h0M74.0 366.9h0M74.0 367.6h0M74.0 364.8h0M74.0 367.3h0M74.0 368.4h0M74.0 368.4h0M74.1 365.2h0M74.1 367.1h0M74.1 366.5h0M74.1 365.4h0M74.1 366.9h0M74.2 364.4h0M74.2 367.1h0M74.2 367.8h0M74.2 367.9h0M74.3 365.7h0M74.4 366.9h0M74.4 368.3h0M74.4 366.1h0M74.4 365.4h0M74.4 366.2h0M74.4 364.1h0M74.4 368.2h0M74.5 364.5h0M74.5 368.1h0M74.5 364.9h0M74.5 365.9h0M74.6 364.8h0M74.6 366.3h0M74.6 368.3h0M74.6 368.1h0M74.7 366.4h0M74.7 365.2h0M74.7 368.2h0M74.7 365.9h0M74.7 364.8h0M74.8 366.2h0M74.8 366.6h0M74.8 364.1h0M74.8 364.2h0M74.8 368.0h0M74.9 365.1h0M74.9 365.6h0M74.9 367.2h0M74.9 366.5h0M75.0 365.2h0M75.0 367.5h0M75.0 367.9h0M75.1 364.2h0M75.1 368.0h0M75.1 365.1h0M75.2 365.3h0M75.2 364.0h0M75.2 365.0h0M75.3 364.6h0M75.3 366.3h0M75.3 365.6h0M75.3 366.3h0M75.4 364.8h0M75.4 367.4h0M75.4 364.3h0M75.4 368.1h0M75.5 368.0h0M75.5 363.9h0M75.5 364.4h0M75.5 366.0h0M75.5 365.7h0M75.6 365.0h0M75.6 365.8h0M75.6 368.3h0M75.7 368.3h0M75.7 367.8h0M75.7 368.0h0M75.7 366.1h0M75.9 366.7h0M75.9 365.6h0M75.9 367.5h0M76.0 368.0h0M76.0 364.5h0M76.0 368.4h0M76.0 366.2h0M76.0 368.2h0M76.0 364.0h0M76.0 366.0h0M76.0 365.1h0M76.0 368.2h0M76.1 364.1h0M76.2 366.6h0M76.3 366.9h0M76.3 368.3h0M76.3 366.2h0M76.3 368.4h0M76.4 368.1h0M76.4 368.0h0M76.5 366.6h0M76.5 364.5h0M76.5 366.3h0M76.5 365.4h0M76.5 366.0h0M76.5 368.1h0M76.6 364.7h0M76.7 364.8h0M76.7 367.9h0M76.7 368.2h0M76.7 367.6h0M76.8 365.6h0M76.8 368.4h0M76.8 366.7h0M76.9 367.2h0M76.9 363.8h0M76.9 368.0h0M76.9 363.9h0M76.9 363.8h0M77.0 363.9h0M77.0 365.3h0M77.0 364.5h0M77.0 364.7h0M77.1 367.0h0M77.1 363.7h0M77.1 365.3h0M77.2 367.2h0M77.2 367.0h0M77.2 367.9h0M77.2 365.5h0M77.3 365.6h0M77.3 363.7h0M77.3 365.6h0M77.4 368.1h0M77.4 363.8h0M77.4 365.0h0M77.4 365.7h0M77.4 367.4h0M77.4 367.5h0M77.4 363.9h0M77.5 365.2h0M77.5 366.7h0M77.5 368.3h0M77.5 367.1h0M77.6 364.5h0M77.6 365.9h0M77.6 364.6h0M77.6 366.0h0M77.6 366.4h0M77.6 367.3h0M77.6 364.0h0M77.7 368.4h0M77.7 366.6h0M77.8 364.5h0M77.8 368.0h0M77.8 365.3h0M77.9 368.3h0M77.9 366.9h0M77.9 363.7h0M78.0 363.8h0M78.0 365.0h0M78.0 365.3h0M78.0 365.7h0M78.1 363.7h0M78.1 363.9h0M78.1 367.9h0M78.2 363.3h0M78.2 366.1h0M78.2 363.8h0M78.2 367.7h0M78.2 368.0h0M78.2 367.7h0M78.3 365.9h0M78.3 368.0h0M78.4 366.4h0M78.4 368.2h0M78.4 365.5h0M78.4 363.9h0M78.5 366.2h0M78.5 368.4h0M78.5 366.5h0M78.6 365.7h0M78.6 363.2h0M78.7 368.3h0M78.7 367.4h0M78.7 367.8h0M78.8 367.5h0M78.8 364.2h0M78.8 363.6h0M78.8 364.6h0M78.8 366.4h0M78.9 363.3h0M79.0 363.9h0M79.0 363.1h0M79.0 365.6h0M79.1 366.0h0M79.2 367.4h0M79.2 367.4h0M79.2 365.3h0M79.2 367.3h0M79.3 365.6h0M79.3 366.0h0M79.3 365.7h0M79.4 367.2h0M79.4 364.0h0M79.4 367.3h0M79.4 363.5h0M79.4 363.7h0M79.5 366.0h0M79.5 364.3h0M79.5 363.0h0M79.6 368.0h0M79.6 367.3h0M79.7 367.5h0M79.7 368.0h0M79.7 366.8h0M79.7 367.6h0M79.8 368.1h0M79.8 367.9h0M79.8 367.7h0M79.8 368.2h0M79.8 363.9h0M79.8 365.9h0M79.8 363.0h0M79.9 367.2h0M79.9 368.4h0M79.9 363.3h0M80.0 368.4h0M80.0 363.2h0M80.1 366.0h0M80.1 365.9h0M80.1 363.1h0M80.1 367.8h0M80.1 365.1h0M80.1 367.7h0M80.1 366.1h0M80.1 366.9h0M80.2 366.9h0M80.2 366.3h0M80.2 366.3h0M80.2 363.6h0M80.2 366.9h0M80.2 365.8h0M80.2 368.2h0M80.2 367.1h0M80.3 362.9h0M80.3 368.0h0M80.3 367.4h0M80.3 367.7h0M80.4 363.4h0M80.4 363.7h0M80.4 365.7h0M80.4 367.9h0M80.4 364.4h0M80.4 367.3h0M80.5 367.9h0M80.5 363.6h0M80.5 366.9h0M80.6 362.5h0M80.6 367.7h0M80.6 363.6h0M80.6 365.7h0M80.6 367.0h0M80.6 368.3h0M80.7 365.3h0M80.7 367.7h0M80.8 368.2h0M80.9 366.2h0M80.9 368.4h0M80.9 366.8h0M80.9 363.5h0M80.9 366.5h0M80.9 364.2h0M81.0 366.1h0M81.0 367.3h0M81.0 365.4h0M81.1 366.7h0M81.1 364.2h0M81.1 363.3h0M81.1 366.0h0M81.1 366.2h0M81.2 367.5h0M81.2 365.3h0M81.3 366.4h0M81.3 367.0h0M81.3 364.1h0M81.3 363.6h0M81.3 367.6h0M81.3 368.2h0M81.3 367.6h0M81.3 365.6h0M81.4 366.8h0M81.4 367.4h0M81.4 365.6h0M81.5 363.3h0M81.7 363.3h0M81.7 368.2h0M81.8 366.3h0M81.8 367.8h0M81.8 368.1h0M81.8 367.6h0M81.9 368.3h0M81.9 366.4h0M81.9 365.9h0M81.9 361.9h0M81.9 362.4h0M81.9 364.5h0M82.0 368.0h0M82.0 364.9h0M82.0 366.2h0M82.1 364.1h0M82.1 362.1h0M82.2 363.6h0M82.2 362.0h0M82.2 367.7h0M82.2 367.2h0M82.2 362.3h0M82.2 362.5h0M82.2 367.8h0M82.2 368.0h0M82.2 365.5h0M82.3 368.0h0M82.3 368.1h0M82.4 368.2h0M82.4 361.3h0M82.5 365.3h0M82.5 364.6h0M82.6 366.3h0M82.6 363.7h0M82.6 367.7h0M82.7 367.0h0M82.7 367.1h0M82.7 367.4h0M82.7 365.4h0M82.7 367.3h0M82.7 365.3h0M82.7 366.8h0M82.7 366.9h0M82.7 363.2h0M82.8 362.8h0M82.8 367.8h0M82.8 361.3h0M82.8 367.1h0M82.8 363.2h0M82.8 362.4h0M82.8 367.6h0M82.8 367.4h0M82.9 363.2h0M82.9 364.1h0M83.0 366.8h0M83.0 368.3h0M83.1 368.2h0M83.1 368.3h0M83.1 367.2h0M83.1 367.3h0M83.1 365.7h0M83.1 364.8h0M83.1 367.7h0M83.2 366.7h0M83.3 361.7h0M83.3 367.9h0M83.4 365.1h0M83.4 367.5h0M83.4 360.7h0M83.4 367.4h0M83.4 368.0h0M83.4 364.6h0M83.4 363.2h0M83.4 361.5h0M83.4 363.8h0M83.5 367.1h0M83.5 362.7h0M83.5 366.2h0M83.5 367.4h0M83.5 364.8h0M83.5 364.8h0M83.6 364.8h0M83.6 368.0h0M83.6 365.5h0M83.6 361.9h0M83.6 367.6h0M83.7 361.3h0M83.7 366.1h0M83.7 366.1h0M83.7 361.6h0M83.8 360.7h0M83.8 361.5h0M83.8 362.2h0M83.8 367.3h0M83.9 366.7h0M83.9 364.2h0M83.9 363.8h0M83.9 362.0h0M84.1 366.3h0M84.2 367.8h0M84.2 368.1h0M84.2 361.2h0M84.2 365.9h0M84.2 367.5h0M84.3 368.2h0M84.3 362.6h0M84.3 361.0h0M84.3 367.7h0M84.3 362.0h0M84.4 362.8h0M84.4 367.5h0M84.4 368.4h0M84.5 361.8h0M84.5 363.3h0M84.5 362.3h0M84.5 362.1h0M84.6 364.2h0M84.7 360.8h0M84.7 360.2h0M84.7 367.3h0M84.7 365.7h0M84.8 366.6h0M84.8 367.8h0M84.8 365.0h0M84.9 366.0h0M84.9 363.6h0M85.0 359.8h0M85.0 365.5h0M85.0 368.2h0M85.0 363.5h0M85.0 360.6h0M85.0 360.8h0M85.1 364.2h0M85.1 367.8h0M85.1 367.7h0M85.2 368.3h0M85.2 359.3h0M85.2 366.3h0M85.3 365.9h0M85.3 361.9h0M85.4 367.9h0M85.4 360.8h0M85.4 365.7h0M85.5 367.4h0M85.5 368.1h0M85.6 359.9h0M85.6 362.7h0M85.7 360.4h0M85.7 367.7h0M85.7 365.4h0M85.7 362.5h0M85.8 366.5h0M85.9 359.2h0M85.9 365.1h0M85.9 362.1h0M85.9 365.2h0M85.9 368.4h0M86.0 361.1h0M86.0 362.3h0M86.1 362.4h0M86.1 361.9h0M86.1 367.9h0M86.1 368.4h0M86.1 364.8h0M86.1 361.2h0M86.1 363.3h0M86.2 366.9h0M86.2 366.8h0M86.2 366.1h0M86.2 368.4h0M86.2 367.2h0M86.3 367.8h0M86.3 365.3h0M86.3 362.3h0M86.3 362.7h0M86.3 368.4h0M86.3 363.9h0M86.3 361.0h0M86.3 367.4h0M86.3 364.1h0M86.4 364.9h0M86.4 359.1h0M86.4 365.5h0M86.4 358.6h0M86.5 368.2h0M86.5 360.6h0M86.5 359.3h0M86.5 365.3h0M86.5 366.8h0M86.6 368.3h0M86.6 363.2h0M86.6 360.2h0M86.6 366.7h0M86.6 365.9h0M86.7 361.8h0M86.7 366.9h0M86.9 363.1h0M86.9 365.5h0M86.9 367.2h0M87.0 367.8h0M87.0 367.2h0M87.0 366.5h0M87.0 362.3h0M87.0 367.9h0M87.1 363.8h0M87.1 365.3h0M87.1 361.3h0M87.1 367.6h0M87.1 364.5h0M87.2 362.2h0M87.2 359.8h0M87.2 364.5h0M87.2 366.3h0M87.2 367.8h0M87.2 364.1h0M87.3 366.6h0M87.3 359.7h0M87.3 357.4h0M87.3 365.6h0M87.4 363.5h0M87.4 365.9h0M87.4 362.7h0M87.5 364.1h0M87.5 367.5h0M87.5 362.2h0M87.5 364.6h0M87.5 365.1h0M87.6 366.2h0M87.6 366.5h0M87.6 367.8h0M87.6 359.9h0M87.6 364.6h0M87.6 360.9h0M87.7 361.9h0M87.7 359.2h0M87.7 360.0h0M87.7 366.5h0M87.7 364.1h0M87.8 360.8h0M87.8 359.1h0M87.8 364.8h0M87.9 368.4h0M88.0 365.9h0M88.0 361.0h0M88.1 365.7h0M88.1 362.9h0M88.1 357.8h0M88.2 366.5h0M88.2 368.0h0M88.2 365.2h0M88.2 365.7h0M88.2 366.1h0M88.2 356.3h0M88.2 358.7h0M88.3 367.3h0M88.3 358.0h0M88.4 366.3h0M88.4 359.4h0M88.4 364.0h0M88.5 364.9h0M88.5 364.4h0M88.5 366.7h0M88.5 361.2h0M88.5 366.4h0M88.5 364.1h0M88.5 360.8h0M88.6 361.8h0M88.6 365.3h0M88.6 357.9h0M88.6 356.1h0M88.6 358.0h0M88.7 368.4h0M88.7 367.6h0M88.7 363.2h0M88.8 358.0h0M88.8 367.3h0M88.9 368.4h0M89.0 365.4h0M89.0 367.7h0M89.0 363.8h0M89.0 358.7h0M89.0 365.5h0M89.0 367.8h0M89.1 360.8h0M89.1 357.5h0M89.2 363.7h0M89.2 364.7h0M89.2 360.0h0M89.3 367.9h0M89.3 355.3h0M89.3 362.0h0M89.4 364.2h0M89.4 359.5h0M89.4 368.3h0M89.4 359.3h0M89.5 367.5h0M89.5 363.7h0M89.5 368.1h0M89.5 364.0h0M89.6 367.7h0M89.6 360.9h0M89.7 365.6h0M89.7 365.5h0M89.9 364.0h0M89.9 360.2h0M89.9 356.0h0M89.9 362.8h0M89.9 357.7h0M89.9 368.4h0M89.9 364.8h0M89.9 361.4h0M90.0 367.9h0M90.0 362.5h0M90.0 365.2h0M90.0 364.1h0M90.0 367.4h0M90.1 364.9h0M90.1 368.4h0M90.1 361.9h0M90.1 367.7h0M90.1 361.2h0M90.2 360.0h0M90.2 367.2h0M90.2 366.6h0M90.3 368.2h0M90.3 368.2h0M90.3 354.1h0M90.3 367.0h0M90.3 362.1h0M90.4 360.6h0M90.4 360.6h0M90.4 366.9h0M90.5 368.3h0M90.5 357.7h0M90.5 366.0h0M90.5 357.7h0M90.5 364.8h0M90.5 367.8h0M90.5 363.6h0M90.5 361.4h0M90.5 359.1h0M90.6 368.2h0M90.6 364.9h0M90.6 362.2h0M90.7 365.0h0M90.7 366.6h0M90.7 366.9h0M90.7 354.3h0M90.8 356.1h0M90.8 365.2h0M90.8 356.3h0M90.8 367.5h0M90.9 360.8h0M90.9 356.5h0M90.9 367.8h0M91.0 358.9h0M91.0 366.5h0M91.0 364.6h0M91.0 356.6h0M91.0 354.2h0M91.0 353.5h0M91.1 366.9h0M91.1 367.8h0M91.1 364.5h0M91.1 360.3h0M91.1 360.2h0M91.2 352.9h0M91.2 365.9h0M91.2 358.5h0M91.3 365.0h0M91.3 367.5h0M91.3 358.7h0M91.3 360.5h0M91.4 358.6h0M91.4 367.7h0M91.4 354.8h0M91.4 364.0h0M91.5 365.8h0M91.5 353.9h0M91.5 361.2h0M91.5 367.4h0M91.5 363.4h0M91.5 361.0h0M91.5 357.4h0M91.5 354.3h0M91.5 359.3h0M91.5 367.5h0M91.5 365.0h0M91.6 359.2h0M91.6 362.6h0M91.6 354.7h0M91.7 359.9h0M91.7 366.8h0M91.7 362.4h0M91.8 363.4h0M91.8 367.3h0M91.8 359.3h0M91.8 366.7h0M91.9 367.7h0M91.9 355.5h0M91.9 366.9h0M92.0 366.9h0M92.0 351.7h0M92.0 363.8h0M92.0 365.3h0M92.1 362.2h0M92.1 367.7h0M92.1 365.3h0M92.1 359.1h0M92.1 357.4h0M92.2 367.5h0M92.2 366.5h0M92.2 352.6h0M92.3 354.5h0M92.3 365.0h0M92.3 357.7h0M92.3 359.3h0M92.3 356.6h0M92.4 367.3h0M92.4 359.9h0M92.4 356.3h0M92.4 361.1h0M92.5 362.3h0M92.5 367.5h0M92.5 353.8h0M92.6 360.1h0M92.6 359.5h0M92.6 361.1h0M92.7 358.6h0M92.7 364.8h0M92.7 352.5h0M92.7 365.6h0M92.8 349.8h0M92.8 361.5h0M92.8 364.9h0M92.8 366.3h0M92.8 367.3h0M92.8 367.1h0M92.8 350.2h0M92.9 363.5h0M92.9 349.1h0M92.9 357.7h0M93.0 353.1h0M93.0 351.7h0M93.0 356.2h0M93.1 358.5h0M93.1 363.2h0M93.1 364.6h0M93.2 349.5h0M93.2 367.3h0M93.2 356.7h0M93.2 362.6h0M93.2 353.3h0M93.3 355.3h0M93.3 356.5h0M93.3 364.3h0M93.3 367.4h0M93.4 361.1h0M93.4 366.4h0M93.4 349.7h0M93.4 347.5h0M93.5 356.4h0M93.5 360.1h0M93.5 355.1h0M93.5 366.7h0M93.5 354.8h0M93.7 356.1h0M93.7 364.9h0M93.7 355.6h0M93.8 346.4h0M93.8 367.0h0M93.8 357.7h0M93.8 357.5h0M93.8 365.9h0M93.8 351.6h0M93.9 356.4h0M93.9 366.0h0M94.0 345.9h0M94.1 365.7h0M94.1 356.7h0M94.1 361.6h0M94.1 365.8h0M94.2 367.0h0M94.2 353.0h0M94.3 367.3h0M94.3 350.6h0M94.4 359.2h0M94.4 354.6h0M94.4 365.5h0M94.4 355.7h0M94.5 344.4h0M94.5 364.3h0M94.5 351.9h0M94.5 345.7h0M94.6 367.2h0M94.6 366.9h0M94.6 342.4h0M94.6 356.9h0M94.6 367.0h0M94.7 348.8h0M94.7 362.5h0M94.7 347.1h0M94.7 349.7h0M94.8 350.8h0M94.8 348.2h0M94.8 343.4h0M94.8 366.8h0M94.8 343.4h0M94.8 362.3h0M94.8 347.1h0M94.9 347.2h0M94.9 353.7h0M94.9 345.5h0M94.9 349.7h0M95.0 364.8h0M95.0 343.8h0M95.0 347.1h0M95.1 348.2h0M95.1 363.0h0M95.1 363.1h0M95.2 340.5h0M95.2 363.7h0M95.2 354.1h0M95.2 351.8h0M95.3 350.7h0M95.3 347.9h0M95.3 342.0h0M95.4 355.1h0M95.4 365.9h0M95.4 363.9h0M95.5 343.5h0M95.5 362.7h0M95.5 358.6h0M95.5 343.8h0M95.6 365.7h0M95.6 350.3h0M95.6 348.0h0M95.6 364.3h0M95.7 336.3h0M95.7 348.5h0M61.7 364.1h0M56.7 362.9h0M36.8 364.6h0M65.1 364.0h0M89.4 351.2h0M92.5 348.7h0M34.9 361.6h0M75.7 361.9h0M39.8 364.7h0M72.5 362.6h0M88.6 354.4h0M64.6 364.3h0M80.5 362.5h0M44.3 364.8h0M48.0 362.9h0M50.4 364.8h0M94.7 341.0h0M88.5 351.5h0M78.0 362.9h0M68.5 363.8h0M85.3 357.3h0M28.4 362.0h0M33.4 364.8h0M57.1 364.2h0M94.8 338.9h0M77.8 360.2h0M47.7 361.1h0M83.7 357.0h0M26.5 365.0h0M28.7 365.1h0M46.2 364.8h0M79.4 361.9h0M50.4 365.0h0M29.2 365.1h0M60.5 361.3h0M59.4 364.4h0M33.7 365.0h0M81.2 359.3h0M67.3 361.6h0M50.1 364.6h0M89.3 354.0h0M80.1 357.7h0M36.9 364.7h0M70.6 363.0h0M28.6 361.9h0M96.3 218.8h0M96.3 256.4h0M96.3 277.9h0M96.3 281.8h0M96.6 311.6h0M96.6 314.5h0M96.6 318.0h0M96.6 322.8h0M96.2 328.6h0M31.3 361.8h0M55.7 361.8h0M78.7 357.0h0M87.0 355.4h0M84.0 352.0h0M92.0 340.0h0M94.0 333.0h0M95.5 325.0h0" stroke="#19ec14" stroke-width="1.4" stroke-linecap="square" fill="none"/>
<path d="M130.3 112.2h0M127.7 100.7h0M126.1 96.8h0M126.3 102.8h0M126.7 109.1h0M126.6 105.2h0M125.6 100.8h0M132.3 118.8h0M127.4 93.7h0M126.4 112.5h0M126.5 93.9h0M125.9 90.4h0M125.3 93.2h0M126.4 87.9h0M127.8 102.6h0M126.6 112.3h0M128.5 102.8h0M126.7 107.9h0M127.0 119.0h0M129.5 104.0h0M127.9 103.1h0M126.2 98.0h0M126.7 83.3h0M127.9 109.4h0M130.1 81.7h0M126.6 108.2h0M126.6 100.8h0M128.6 113.4h0M125.6 100.3h0M126.5 91.9h0M128.4 104.9h0M127.9 94.8h0M127.1 99.0h0M128.1 101.5h0M128.6 98.9h0M125.5 91.8h0M127.4 77.5h0M128.1 99.3h0M126.3 87.8h0M125.3 113.3h0M127.0 115.0h0M126.9 79.5h0M129.2 102.6h0M128.2 99.6h0M127.3 89.5h0M128.8 106.8h0M126.7 95.9h0M125.5 81.6h0M127.9 98.1h0M127.9 99.4h0M126.7 102.2h0M125.7 87.5h0M127.4 107.8h0M128.1 88.4h0M127.8 93.8h0M127.1 94.8h0M125.5 120.2h0M128.2 103.3h0M125.5 92.3h0M128.1 100.4h0M128.9 126.3h0M126.2 102.4h0M127.5 106.7h0M126.0 100.6h0M129.5 126.1h0M127.6 109.2h0M125.3 102.8h0M129.2 107.8h0M127.0 88.1h0M126.4 120.4h0M129.7 101.4h0M128.2 90.7h0M128.2 93.0h0M128.8 107.2h0M127.6 111.9h0M126.0 109.3h0M125.7 114.3h0M125.7 108.9h0M129.2 101.3h0M126.0 107.5h0M126.5 99.9h0M127.4 109.0h0M127.9 115.1h0M127.0 108.9h0M128.9 121.9h0M128.2 98.7h0M127.3 100.0h0M126.5 99.5h0M127.5 114.5h0M126.6 80.8h0M128.3 105.0h0M125.7 114.1h0M127.2 92.1h0M126.8 117.4h0M127.9 106.9h0M127.4 95.0h0M131.1 103.2h0M129.4 84.1h0M129.4 94.8h0M126.5 91.2h0M126.0 121.3h0M127.9 100.1h0M128.9 101.5h0M128.7 76.3h0M125.4 103.1h0M125.7 88.3h0M127.1 86.2h0M128.0 105.0h0M130.3 93.9h0M126.7 82.3h0M128.2 93.5h0M127.2 110.5h0M129.8 95.8h0M128.2 111.3h0M129.2 117.8h0M125.3 101.4h0M126.7 88.6h0M125.7 86.7h0M129.4 100.7h0M128.1 110.7h0M126.5 104.0h0M126.3 107.0h0M127.8 96.1h0M125.9 104.3h0M125.5 95.8h0M127.8 97.4h0M130.9 86.8h0M126.6 83.7h0M126.1 95.7h0M127.8 108.4h0M128.4 99.8h0M127.5 111.2h0M127.2 94.0h0M127.2 109.6h0M126.3 93.5h0M127.2 113.1h0M125.7 92.5h0M126.2 67.4h0M125.7 109.7h0M126.5 94.2h0M128.4 117.3h0M126.3 93.9h0M126.8 88.0h0M128.3 118.0h0M128.0 89.2h0M129.7 103.2h0M128.4 102.3h0M126.2 100.1h0M127.2 102.1h0M128.3 110.2h0M128.7 92.1h0M128.7 107.7h0M127.2 107.3h0M129.6 126.7h0M126.5 97.3h0M126.8 90.9h0M128.3 109.1h0M126.1 96.6h0M130.5 104.2h0M127.4 111.8h0M128.3 76.5h0M129.6 89.6h0M126.3 112.7h0M129.0 95.8h0M127.1 98.6h0M126.4 107.7h0M126.8 91.3h0M128.4 103.3h0M125.6 109.7h0M126.4 106.1h0M126.2 105.4h0M129.1 106.7h0M127.9 96.3h0M127.0 115.4h0M128.9 129.3h0M125.5 92.9h0M126.9 77.1h0M129.8 96.3h0M126.5 92.0h0M128.2 113.8h0M133.0 99.3h0M140.1 100.7h0M142.1 104.6h0M131.1 117.0h0M144.4 104.9h0M146.4 100.3h0M140.5 102.7h0M141.2 104.8h0M149.9 96.6h0M144.5 106.7h0M135.0 109.9h0M138.9 107.8h0M138.3 109.3h0M138.3 98.9h0M128.4 96.7h0M142.4 113.1h0M136.1 112.0h0M139.7 97.5h0M138.4 107.1h0M142.9 106.1h0M137.7 109.0h0M135.4 107.1h0M141.4 103.2h0M145.3 107.1h0M137.6 106.9h0M145.2 105.7h0M140.2 95.8h0M136.6 89.5h0M145.9 101.7h0M135.3 97.0h0M143.6 107.4h0M136.8 109.9h0M141.0 107.4h0M133.4 104.0h0M135.2 106.4h0M143.8 112.4h0M139.8 102.0h0M139.2 111.1h0M137.0 109.9h0M141.0 107.4h0M132.7 114.0h0M134.0 102.1h0M138.3 111.2h0M135.2 100.9h0M135.8 101.8h0M138.7 100.2h0M138.4 108.5h0M138.0 100.8h0M146.5 106.3h0M143.5 99.7h0M144.5 111.9h0M138.9 116.1h0M136.7 107.2h0M132.5 115.0h0M137.4 109.1h0M129.6 117.9h0M136.4 106.5h0M142.4 97.4h0M146.3 114.2h0M143.3 105.3h0M135.1 100.3h0M141.2 102.4h0M135.4 97.1h0M142.7 105.1h0M138.5 100.1h0M142.9 114.2h0M150.6 109.7h0M143.2 96.9h0M149.5 97.7h0M139.8 102.9h0M137.5 95.4h0M145.0 105.4h0M146.8 105.8h0M136.5 101.7h0M139.3 103.0h0M132.5 108.7h0M138.1 113.8h0M143.0 114.2h0M138.6 106.2h0M136.4 110.7h0M132.7 101.9h0M140.7 108.3h0M142.6 100.7h0M141.7 110.0h0M140.1 99.2h0M133.3 100.7h0M146.9 106.0h0M138.7 109.1h0M138.3 98.1h0M142.3 103.0h0M129.3 106.7h0M138.7 107.3h0M138.4 101.4h0M140.7 106.5h0M145.1 104.5h0M141.1 113.7h0M130.8 109.1h0M137.5 98.7h0M139.9 93.9h0M139.7 106.5h0M133.2 112.5h0M131.5 107.0h0M141.5 110.9h0M140.5 103.3h0M138.9 98.5h0M131.2 110.1h0M147.0 106.5h0M125.9 109.8h0M137.4 98.4h0M148.4 107.0h0M138.3 102.6h0M140.0 110.4h0M133.7 102.8h0M145.1 102.7h0M133.2 102.8h0M140.1 113.0h0M139.6 106.2h0M134.3 101.8h0M143.0 100.4h0M132.6 100.3h0M135.9 114.0h0M138.9 96.0h0M137.1 101.3h0M141.1 109.5h0M143.2 112.5h0M137.7 105.2h0M136.6 110.3h0M136.7 110.2h0M137.4 111.4h0M142.6 106.3h0M138.0 115.1h0M140.8 107.2h0M138.6 114.5h0M135.2 100.0h0M142.9 111.3h0M134.3 99.2h0M139.0 97.9h0M145.7 108.9h0M134.1 101.6h0M138.8 108.6h0M131.9 100.3h0M136.7 115.0h0M132.3 106.2h0M137.4 100.0h0M136.6 107.2h0M139.6 111.1h0M146.1 102.0h0M140.3 109.1h0M142.0 117.5h0M138.8 111.0h0M137.9 106.2h0M135.2 103.1h0M130.9 109.5h0M139.3 97.9h0M146.3 89.6h0M141.1 102.6h0M136.6 100.3h0M146.4 115.9h0M137.1 107.1h0M136.2 100.9h0M135.5 135.7h0M131.4 135.6h0M130.9 137.9h0M134.2 137.7h0M130.8 141.8h0M133.5 140.6h0M135.1 129.0h0M132.7 138.4h0M132.8 131.1h0M134.7 130.0h0M134.3 137.7h0M128.8 132.6h0M129.4 134.0h0M135.7 139.0h0M133.5 132.8h0M129.3 136.3h0M132.6 139.5h0M130.2 137.0h0M133.7 129.5h0M132.7 132.8h0M133.7 134.6h0M129.7 142.1h0M134.0 138.4h0M137.2 138.2h0M130.6 139.5h0M135.7 134.0h0M134.9 136.9h0M134.1 136.9h0M132.4 131.6h0M129.8 135.1h0M130.4 137.2h0M134.4 131.3h0M134.9 138.0h0M135.5 137.9h0M134.9 138.9h0M134.7 132.3h0M131.5 135.5h0M129.7 140.4h0M133.0 138.0h0M133.8 132.3h0M132.8 135.9h0M128.9 140.3h0M131.3 134.9h0M129.0 136.5h0M130.0 135.0h0M132.2 134.7h0M133.3 131.5h0M132.9 132.8h0M135.8 140.5h0M129.9 134.6h0M134.8 131.8h0M135.9 135.1h0M136.0 137.9h0M133.2 132.4h0M133.9 137.7h0M132.9 133.4h0M129.5 136.4h0M131.2 137.0h0M133.8 137.3h0M131.2 133.5h0M137.1 134.5h0M128.9 136.9h0M131.5 130.4h0M135.2 135.7h0M131.1 136.9h0M129.9 138.8h0M129.3 134.9h0M130.8 134.4h0M136.2 135.5h0M133.6 132.4h0M133.8 134.3h0M131.3 136.5h0M134.6 136.0h0M132.8 131.3h0M130.4 133.8h0M131.5 127.4h0M133.1 137.9h0M135.4 133.1h0M132.4 135.9h0M133.8 131.0h0M137.4 134.7h0M130.7 136.6h0M129.6 138.5h0M134.9 130.1h0M133.6 138.0h0M132.3 134.4h0M133.2 132.2h0M131.8 136.7h0M133.8 133.9h0M131.8 133.9h0M134.5 132.4h0M129.8 135.7h0M130.6 135.1h0M132.9 134.3h0M131.5 131.5h0M134.3 133.1h0M132.5 136.4h0M131.3 139.5h0M133.1 134.8h0M131.3 140.0h0M128.9 134.9h0M129.9 131.0h0M130.7 137.2h0M131.5 131.5h0M132.8 136.4h0M134.8 138.8h0M133.9 133.8h0M136.9 134.6h0M135.7 143.8h0M132.1 135.8h0M136.6 135.9h0M135.4 137.7h0M131.5 134.6h0M133.4 134.6h0M135.2 136.3h0M133.2 126.3h0M135.0 140.0h0M133.6 131.1h0M134.3 131.1h0M131.8 136.9h0M133.5 135.0h0M131.7 130.4h0M134.2 135.7h0M128.6 130.8h0M133.4 132.4h0M135.6 129.5h0M134.0 132.0h0M132.6 136.4h0M133.9 135.4h0M130.6 136.0h0M130.6 138.2h0M131.8 134.8h0M132.3 132.6h0M134.9 133.9h0M130.5 140.9h0M135.0 135.1h0M128.8 136.1h0M130.7 134.6h0M132.5 135.8h0M135.4 136.5h0M131.1 134.9h0M133.6 132.1h0M132.5 131.9h0M130.0 136.4h0M130.1 137.6h0M130.9 138.3h0M132.8 135.1h0M134.2 132.0h0M129.1 137.2h0M138.1 137.1h0M132.5 129.5h0M131.7 137.8h0M134.2 137.0h0M132.9 140.9h0M138.2 130.9h0M135.2 130.3h0M131.7 137.8h0M131.7 128.5h0M131.4 132.3h0M131.8 131.0h0M134.2 131.3h0M131.1 128.1h0M136.5 134.1h0M132.4 138.4h0M132.3 136.5h0M134.9 136.5h0M130.4 140.1h0M134.0 136.8h0M132.6 138.7h0M132.6 129.4h0M133.6 136.2h0M131.2 130.9h0M132.2 136.2h0M129.3 135.7h0M128.1 130.9h0M135.6 135.6h0M130.4 139.1h0M130.9 136.8h0M136.0 137.1h0M135.1 131.9h0M131.3 132.5h0M131.3 131.0h0M132.4 135.5h0M130.3 139.3h0M133.9 136.6h0M130.8 137.8h0M133.5 138.4h0M130.1 137.8h0M131.3 137.4h0M137.3 135.8h0M133.7 135.6h0M136.6 115.5h0M155.6 121.2h0M155.3 128.1h0M144.7 123.7h0M146.9 114.8h0M150.5 131.9h0M141.6 122.9h0M156.8 114.9h0M141.4 139.6h0M143.1 112.5h0M131.9 123.3h0M155.4 117.7h0M147.4 124.4h0M156.0 128.2h0M141.6 116.5h0M148.9 122.5h0M147.5 122.3h0M148.2 114.9h0M158.5 133.3h0M159.5 124.9h0M154.7 120.9h0M144.9 117.7h0M152.0 120.5h0M154.5 124.6h0M150.1 119.5h0M150.2 134.0h0M149.7 101.7h0M142.1 105.1h0M148.4 121.2h0M155.9 107.7h0M141.6 122.8h0M147.5 117.8h0M151.7 128.3h0M139.6 126.9h0M146.3 134.5h0M137.7 131.2h0M143.7 134.1h0M139.3 127.9h0M142.1 132.5h0M144.3 127.7h0M145.5 118.4h0M145.9 112.7h0M133.8 113.1h0M155.8 127.5h0M145.5 103.1h0M141.0 124.9h0M143.6 117.0h0M148.7 129.6h0M141.5 125.1h0M144.7 117.0h0M144.4 123.5h0M150.0 104.0h0M142.9 125.7h0M149.5 127.4h0M148.9 107.7h0M146.2 130.7h0M153.8 122.4h0M147.1 124.9h0M140.5 111.3h0M148.6 128.6h0M147.7 128.4h0M146.8 123.3h0M148.3 115.0h0M159.9 129.9h0M148.3 134.0h0M149.5 126.8h0M145.6 132.0h0M154.2 118.5h0M146.7 124.8h0M142.6 126.7h0M140.3 124.8h0M151.1 127.1h0M138.3 118.8h0M143.0 130.7h0M150.5 114.4h0M152.6 126.8h0M139.7 130.2h0M144.8 119.5h0M151.6 121.0h0M144.1 115.7h0M144.5 124.9h0M144.0 118.0h0M139.8 138.5h0M147.2 129.3h0M148.7 121.9h0M139.3 111.8h0M147.5 141.1h0M153.1 134.9h0M148.1 127.9h0M152.2 125.5h0M144.0 125.3h0M154.5 119.9h0M142.7 139.9h0M157.4 125.6h0M144.5 111.6h0M143.0 118.3h0M142.1 101.9h0M144.7 129.5h0M144.3 130.4h0M143.2 139.0h0M145.2 141.7h0M150.6 117.2h0M151.8 127.7h0M145.1 132.4h0M153.8 130.6h0M141.5 119.5h0M141.3 130.7h0M140.8 128.1h0M150.3 135.4h0M138.5 123.6h0M139.3 121.8h0M154.0 119.5h0M156.4 120.6h0M154.4 117.3h0M138.8 120.9h0M147.0 128.0h0M151.5 127.7h0M147.5 135.0h0M138.1 133.1h0M145.1 129.1h0M137.6 113.9h0M140.2 128.5h0M158.8 133.6h0M150.7 112.6h0M138.9 114.2h0M138.7 115.5h0M149.5 114.8h0M143.6 121.1h0M150.1 115.6h0M143.4 126.9h0M145.8 113.2h0M148.3 122.5h0M141.3 119.3h0M136.4 115.3h0M140.4 132.3h0M143.1 123.7h0M145.8 128.1h0M146.6 120.7h0M146.6 129.5h0M149.8 128.7h0M142.0 122.2h0M154.6 108.4h0M157.9 130.5h0M148.9 129.4h0M148.0 125.0h0M153.8 125.5h0M150.5 124.5h0M148.0 125.1h0M146.0 114.9h0M142.9 123.0h0M140.5 126.2h0M150.6 118.3h0M153.4 115.2h0M141.1 139.3h0M146.5 128.7h0M148.1 120.9h0M144.6 119.3h0M142.7 101.0h0M144.8 111.4h0M136.1 121.4h0M146.6 134.4h0M145.3 106.0h0M158.6 117.5h0M152.1 139.8h0M145.0 129.2h0M146.9 127.0h0M156.3 133.7h0M155.7 122.5h0M147.9 122.0h0M146.2 129.6h0M139.0 130.7h0M145.1 114.4h0M146.0 136.5h0M142.9 108.7h0M156.4 117.6h0M146.2 119.2h0M149.1 129.1h0M149.3 115.0h0M156.2 120.8h0M139.2 117.4h0M142.8 120.1h0M147.4 129.1h0M147.6 138.4h0M144.8 131.0h0M142.7 136.8h0M152.8 119.2h0M141.1 136.0h0M143.7 128.3h0M154.8 135.2h0M156.4 120.0h0M151.7 121.6h0M142.2 135.1h0M142.2 128.7h0M142.0 124.4h0M140.7 117.7h0M144.6 122.6h0M153.9 127.6h0M148.1 129.6h0M142.7 118.7h0M142.6 120.5h0M140.4 127.0h0M153.5 114.0h0M135.8 131.3h0M148.4 123.3h0M139.0 122.1h0M141.0 102.7h0M138.7 109.6h0M152.2 114.3h0M146.4 118.1h0M161.9 113.7h0M141.1 126.2h0M140.8 124.2h0M150.1 120.7h0M149.9 105.7h0M145.3 134.9h0M135.7 120.6h0M154.8 128.0h0M149.9 117.3h0M149.0 123.0h0M143.5 128.9h0M150.3 125.0h0M143.7 131.2h0M147.0 121.4h0M145.7 139.9h0M153.7 106.9h0M144.2 118.3h0M144.9 131.3h0M152.8 120.8h0M148.0 119.2h0M146.6 107.9h0M145.4 133.1h0M152.0 106.8h0M143.1 127.2h0M149.3 124.6h0M157.9 130.3h0M148.9 135.3h0M142.4 116.9h0M140.1 116.0h0M147.5 120.2h0M139.9 108.3h0M137.9 129.8h0M142.5 119.5h0M140.6 124.2h0M151.5 113.2h0M138.7 122.9h0M155.4 117.5h0M142.5 122.1h0M147.3 113.5h0M150.3 131.5h0M147.9 117.2h0M150.6 101.0h0M141.2 128.2h0M134.1 120.1h0M145.5 115.2h0M143.4 122.2h0M151.8 111.3h0M145.5 117.4h0M143.3 125.9h0M140.4 120.7h0M145.0 133.2h0M145.6 131.7h0M137.9 115.9h0M148.2 123.0h0M140.6 128.1h0M147.8 119.1h0M144.1 118.7h0M152.0 130.1h0M151.3 126.5h0M146.6 110.7h0M146.0 118.0h0M149.0 119.1h0M154.2 121.6h0M152.5 116.5h0M147.5 134.1h0M148.4 114.4h0M155.3 113.4h0M137.7 124.4h0M149.7 103.5h0M141.7 113.9h0M154.2 128.0h0M144.0 111.4h0M146.1 115.5h0M140.8 131.9h0M146.9 126.6h0M151.2 123.2h0M156.0 124.8h0M139.9 116.9h0M144.4 125.3h0M168.4 121.0h0M152.1 144.0h0M146.9 127.3h0M149.8 119.9h0M132.2 122.3h0M155.8 123.2h0M147.8 111.0h0M139.0 115.8h0M153.4 135.7h0M143.5 110.8h0M141.3 117.8h0M149.9 131.5h0M149.2 135.6h0M144.5 114.1h0M146.6 135.2h0M139.6 119.7h0M139.0 136.9h0M151.9 127.1h0M154.2 120.4h0M149.4 129.0h0M149.1 127.6h0M144.8 116.3h0M146.3 141.1h0M141.8 119.9h0M156.7 132.7h0M143.9 118.8h0M149.3 107.3h0M147.0 113.3h0M139.3 122.0h0M157.7 128.7h0M144.9 137.9h0M142.8 123.6h0M147.6 120.5h0M142.1 112.4h0M147.2 122.5h0M141.7 125.4h0M150.1 104.1h0M147.3 134.0h0M139.5 132.6h0M152.7 142.2h0M148.1 115.1h0M140.9 123.2h0M149.0 123.0h0M149.4 111.6h0M157.3 115.6h0M142.3 114.5h0M151.7 127.2h0M146.5 126.5h0M150.4 134.3h0M145.6 119.4h0M146.7 110.9h0M149.8 126.6h0M140.5 126.0h0M135.5 128.5h0M147.0 133.4h0M144.6 117.8h0M147.5 129.6h0M150.6 114.3h0M145.9 124.2h0M153.7 128.7h0M146.9 121.8h0M147.7 124.7h0M151.7 111.0h0M150.4 117.3h0M146.6 124.1h0M147.8 112.6h0M143.0 115.5h0M147.7 125.0h0M151.7 115.8h0M144.8 114.0h0M151.8 134.5h0M157.9 98.8h0M159.0 119.5h0M147.3 127.6h0M153.0 117.4h0M150.6 126.6h0M151.6 113.2h0M151.9 122.0h0M150.1 122.4h0M151.8 122.1h0M148.3 123.2h0M145.8 122.3h0M148.7 131.5h0M150.0 119.7h0M154.0 116.9h0M149.3 119.5h0M151.4 119.3h0M144.5 112.0h0M147.1 117.2h0M146.2 113.7h0M143.1 114.9h0M157.1 143.3h0M149.7 137.0h0M142.7 138.7h0M157.9 135.1h0M192.8 136.9h0M139.4 133.1h0M184.4 138.9h0M160.9 144.6h0M183.3 140.3h0M187.2 122.7h0M190.7 136.4h0M149.8 137.2h0M179.8 141.2h0M147.4 137.1h0M151.2 134.1h0M151.4 133.8h0M194.5 135.2h0M190.0 133.5h0M181.7 144.2h0M150.3 140.3h0M146.1 136.3h0M182.2 142.0h0M169.7 148.1h0M186.2 136.1h0M178.3 137.1h0M159.0 136.2h0M169.8 131.4h0M184.9 134.0h0M165.1 133.0h0M140.8 136.8h0M163.2 139.9h0M181.2 141.5h0M172.1 133.6h0M186.0 142.0h0M180.9 132.4h0M173.6 136.5h0M180.4 143.6h0M152.6 144.0h0M149.0 142.4h0M163.4 142.8h0M163.0 136.5h0M154.1 136.8h0M184.6 133.4h0M151.4 138.9h0M142.0 131.2h0M164.8 134.6h0M160.1 132.9h0M140.5 126.1h0M165.1 142.1h0M189.9 126.9h0M175.9 139.6h0M152.8 135.2h0M193.6 126.4h0M187.2 136.1h0M190.1 138.2h0M161.1 140.6h0M152.1 143.4h0M188.2 133.0h0M185.1 137.0h0M176.4 140.7h0M144.2 138.3h0M162.7 139.7h0M145.7 136.5h0M193.1 143.2h0M153.6 131.7h0M188.6 129.8h0M181.6 145.9h0M170.1 139.7h0M180.2 142.9h0M155.2 139.1h0M142.0 133.1h0M185.9 135.0h0M162.5 138.5h0M141.2 132.4h0M162.8 137.5h0M178.9 137.1h0M183.5 141.4h0M184.4 141.3h0M150.1 145.4h0M140.1 131.0h0M190.8 137.1h0M166.5 142.6h0M152.3 139.9h0M146.1 124.3h0M187.1 139.2h0M144.0 135.7h0M186.2 135.1h0M178.7 135.6h0M150.5 134.2h0M189.7 143.2h0M191.1 140.8h0M144.3 137.0h0M167.0 143.5h0M167.7 142.6h0M162.7 134.0h0M193.8 132.2h0M164.3 133.1h0M177.9 141.5h0M191.0 137.4h0M189.5 143.5h0M173.1 140.5h0M193.1 136.5h0M164.5 132.0h0M181.5 136.5h0M161.4 134.9h0M157.4 134.3h0M172.0 137.0h0M142.5 142.3h0M146.1 136.5h0M169.5 132.7h0M194.1 134.6h0M191.8 136.9h0M170.1 138.5h0M151.0 143.2h0M155.8 145.1h0M151.5 141.5h0M167.2 138.1h0M142.9 131.8h0M145.9 139.5h0M183.6 144.1h0M155.7 142.5h0M145.2 135.8h0M167.0 141.5h0M150.6 137.0h0M195.6 136.7h0M166.9 137.0h0M177.2 138.3h0M189.9 137.2h0M166.6 143.1h0M179.0 137.9h0M164.3 137.7h0M186.7 142.8h0M167.4 141.5h0M164.1 143.7h0M191.2 133.8h0M164.3 144.6h0M157.2 138.3h0M188.9 132.4h0M172.7 137.1h0M176.8 131.8h0M166.1 133.2h0M165.7 136.0h0M187.4 142.2h0M144.2 129.4h0M193.0 138.8h0M173.5 136.5h0M181.2 145.2h0M195.9 138.2h0M182.2 140.5h0M140.7 141.7h0M185.3 132.2h0M183.9 135.9h0M192.7 130.1h0M153.9 134.1h0M185.7 139.0h0M182.8 136.7h0M173.8 139.7h0M183.3 135.5h0M153.2 134.8h0M164.8 137.2h0M171.5 133.4h0M192.3 131.8h0M179.9 129.7h0M142.3 134.4h0M186.6 139.4h0M181.5 131.4h0M185.8 134.9h0M184.2 126.0h0M178.1 131.5h0M171.7 137.7h0M146.9 129.9h0M169.3 139.5h0M187.7 135.0h0M193.8 138.6h0M149.7 134.4h0M178.4 130.2h0M157.0 137.5h0M173.0 140.7h0M158.1 135.0h0M150.8 139.2h0M173.0 133.8h0M159.6 135.8h0M162.9 143.5h0M189.1 136.7h0M175.8 132.6h0M153.1 140.3h0M154.5 137.9h0M169.6 134.7h0M143.4 138.4h0M186.1 122.9h0M181.0 139.8h0M143.8 136.6h0M142.5 125.6h0M166.6 144.0h0M166.0 140.2h0M168.1 132.2h0M186.6 133.7h0M169.0 136.7h0M141.3 135.4h0M155.5 143.4h0M185.0 139.8h0M183.4 126.2h0M184.8 135.6h0M179.8 136.5h0M150.6 146.4h0M153.5 135.0h0M158.6 130.9h0M152.5 136.3h0M171.7 138.7h0M154.8 128.8h0M181.3 142.4h0M141.5 133.9h0M177.4 141.2h0M152.8 141.1h0M186.2 139.6h0M189.9 143.7h0M170.7 145.5h0M141.0 132.5h0M142.6 134.6h0M181.5 142.2h0M153.3 138.6h0M169.1 134.6h0M185.5 137.6h0M185.3 133.0h0M195.6 134.4h0M174.8 120.7h0M159.4 138.4h0M169.0 146.4h0M165.8 141.1h0M160.8 141.1h0M196.0 137.8h0M189.3 133.4h0M160.9 140.1h0M193.4 137.3h0M195.1 136.3h0M165.9 138.8h0M173.0 134.7h0M166.4 138.3h0M170.2 140.7h0M183.6 142.1h0M180.9 138.0h0M143.0 139.2h0M139.2 134.9h0M173.6 126.4h0M155.6 128.5h0M183.6 136.3h0M140.7 129.0h0M153.8 140.7h0M172.3 131.1h0M182.0 135.3h0M160.9 135.1h0M168.5 134.0h0M159.8 134.9h0M155.9 137.7h0M160.3 138.2h0M179.0 134.8h0M174.0 138.3h0M144.4 138.2h0M173.3 136.5h0M188.2 133.8h0M161.6 134.5h0M185.9 134.9h0M180.9 134.7h0M166.8 138.0h0M170.3 143.0h0M155.9 138.1h0M194.9 139.9h0M187.4 140.1h0M170.2 143.8h0M178.7 144.4h0M183.9 132.6h0M177.5 133.3h0M162.9 138.3h0M148.7 133.0h0M185.3 129.1h0M144.8 127.2h0M183.7 144.7h0M180.9 132.7h0M161.4 132.5h0M187.0 144.6h0M190.2 132.6h0M162.3 140.2h0M147.1 140.4h0M163.7 145.2h0M153.2 139.2h0M145.4 127.9h0M161.4 134.0h0M164.7 129.2h0M177.9 139.1h0M185.4 131.0h0M172.4 138.3h0M195.5 134.7h0M152.2 134.7h0M168.0 140.3h0M158.0 135.7h0M160.8 133.8h0M144.4 140.6h0M170.4 137.5h0M175.4 130.3h0M148.8 142.9h0M145.5 129.1h0M144.3 136.8h0M165.8 140.3h0M190.8 135.9h0M140.7 130.5h0M141.0 133.1h0M185.2 135.6h0M157.6 132.5h0M168.9 141.8h0M181.7 134.4h0M154.7 134.4h0M194.8 143.8h0M160.9 134.2h0M166.7 130.1h0M194.8 136.7h0M170.1 137.6h0M150.7 137.7h0M186.7 134.5h0M160.6 144.4h0M158.3 142.2h0M139.6 141.4h0M140.1 133.9h0M146.7 134.8h0M155.4 137.0h0M195.1 138.6h0M169.1 142.4h0M141.4 143.0h0M168.8 129.0h0M155.9 143.3h0M189.3 139.1h0M195.3 137.4h0M169.9 132.6h0M181.9 139.2h0M159.2 129.0h0M149.8 143.6h0M176.4 133.0h0M143.1 134.8h0M168.0 137.0h0M185.5 140.2h0M149.6 130.9h0M180.4 141.6h0M151.7 140.1h0M179.5 145.2h0M151.5 139.5h0M164.9 137.2h0M160.8 128.6h0M142.9 133.5h0M174.8 145.8h0M143.3 133.2h0M174.9 135.2h0M166.9 137.1h0M187.0 141.6h0M164.5 129.2h0M158.3 140.9h0M179.0 141.1h0M144.0 135.6h0M145.1 133.9h0M184.2 141.4h0M154.1 138.6h0M147.1 130.4h0M176.1 136.9h0M153.9 141.6h0M172.4 136.3h0M183.1 135.4h0M175.0 137.5h0M185.4 133.1h0M152.7 132.7h0M180.9 137.9h0M173.5 133.0h0M161.7 140.7h0M175.8 141.1h0M175.4 144.0h0M147.6 141.6h0M153.9 136.8h0M170.3 139.8h0M150.8 132.1h0M164.6 140.0h0M160.4 135.5h0M169.9 144.4h0M148.8 133.7h0M174.3 138.5h0M180.4 133.7h0M166.9 140.9h0M157.8 141.2h0M150.2 132.7h0M187.5 147.0h0M192.8 139.7h0M183.4 130.4h0M157.2 133.6h0M185.5 128.4h0M162.4 128.0h0M151.4 137.2h0M164.7 127.6h0M139.7 136.2h0M144.2 127.7h0M171.1 135.8h0M192.4 145.7h0M194.0 135.4h0M177.6 137.4h0M154.9 144.2h0M139.0 132.6h0M185.8 140.0h0M141.4 130.8h0M182.5 135.5h0M181.2 138.1h0M144.8 135.9h0M181.1 133.6h0M168.4 138.8h0M155.9 141.0h0M184.7 140.5h0M153.3 138.2h0M175.6 132.9h0M146.6 139.8h0M191.3 141.4h0M180.1 132.6h0M163.8 126.4h0M145.3 135.1h0M195.8 142.1h0M166.2 142.0h0M191.5 131.3h0M195.0 143.6h0M172.3 133.1h0M164.4 142.3h0M154.7 135.8h0M165.8 142.5h0M162.4 140.2h0M146.3 135.1h0M149.9 140.8h0M186.3 133.9h0M189.7 135.2h0M166.2 136.0h0M195.6 132.7h0M174.1 142.0h0M156.4 142.4h0M180.5 137.3h0M178.6 132.5h0M182.8 139.5h0M195.2 138.3h0M156.2 140.9h0M149.0 136.9h0M172.2 136.3h0M157.8 144.6h0M172.7 134.4h0M185.6 136.2h0M154.8 129.0h0M172.6 135.5h0M187.7 134.6h0M185.0 135.4h0M144.1 138.3h0M157.8 134.7h0M162.0 139.6h0M173.4 135.4h0M164.6 135.3h0M159.1 128.5h0M162.3 139.5h0M174.9 140.3h0M142.7 130.0h0M164.8 134.5h0M191.2 127.8h0M173.6 135.4h0M181.3 131.5h0M183.7 138.7h0M190.5 136.1h0M143.3 137.8h0M142.9 130.6h0M148.3 128.0h0M156.5 137.0h0M142.3 131.6h0M174.6 146.0h0M182.8 137.9h0M182.9 143.8h0M165.3 139.8h0M163.6 135.6h0M154.8 129.9h0M193.6 135.4h0M185.0 139.8h0M185.8 137.1h0M168.4 138.7h0M143.2 136.3h0M145.0 128.8h0M143.8 136.5h0M193.1 132.6h0M144.6 135.0h0M169.5 143.8h0M179.1 127.1h0M185.8 135.4h0M168.9 138.8h0M176.1 142.3h0M161.6 137.6h0M186.5 132.6h0M144.6 139.1h0M148.7 139.3h0M157.1 128.7h0M174.0 137.4h0M157.2 129.0h0M143.7 122.0h0M188.4 131.8h0M144.6 130.7h0M152.9 127.0h0M181.3 130.5h0M174.5 139.0h0M179.4 140.6h0M178.9 135.4h0M159.0 145.5h0M160.7 131.9h0M174.6 137.1h0M165.8 135.5h0M190.9 132.0h0M154.8 139.5h0M152.0 147.3h0M180.7 147.7h0M141.2 137.9h0M149.4 131.5h0M182.0 133.2h0M140.9 137.5h0M145.0 138.6h0M179.3 140.1h0M160.9 136.4h0M141.2 130.1h0M147.2 138.7h0M180.4 137.2h0M159.4 144.8h0M175.4 133.9h0M190.3 141.3h0M180.2 147.1h0M176.5 132.3h0M191.7 131.2h0M187.0 137.9h0M166.7 133.3h0M191.7 125.2h0M190.3 144.4h0M162.4 140.2h0M169.4 142.7h0M162.5 138.7h0M150.0 143.2h0M191.3 138.4h0M189.0 137.9h0M149.8 131.6h0M184.6 140.0h0M141.4 126.8h0M154.4 145.4h0M169.5 136.5h0M175.1 131.5h0M188.1 128.1h0M154.6 136.8h0M147.1 139.0h0M155.0 130.1h0M179.0 127.2h0M173.8 134.6h0M177.1 130.0h0M173.1 138.2h0M162.4 140.6h0M167.4 145.5h0M188.1 136.1h0M159.2 134.2h0M150.2 140.8h0M151.5 133.7h0M155.5 139.7h0M147.9 137.6h0M195.0 141.9h0M146.9 132.8h0M183.6 133.8h0M171.9 138.9h0M195.8 139.3h0M154.2 130.5h0M189.0 133.0h0M146.1 136.9h0M153.6 136.0h0M187.9 140.7h0M174.3 143.7h0M183.3 136.8h0M167.2 138.0h0M142.4 135.6h0M146.0 141.4h0M156.0 136.2h0M146.9 144.2h0M193.2 133.3h0M169.2 142.5h0M188.3 138.4h0M195.2 135.1h0M192.5 145.0h0M144.9 140.7h0M141.0 133.6h0M179.1 133.4h0M158.6 141.9h0M166.1 133.5h0M188.7 139.8h0M175.7 132.8h0M184.6 137.7h0M181.1 132.9h0M165.7 136.6h0M158.8 146.1h0M176.5 146.1h0M191.0 134.6h0M187.7 135.7h0M187.0 128.7h0M154.0 139.4h0M149.9 143.0h0M178.7 133.0h0M167.3 133.0h0M194.6 138.7h0M149.0 134.1h0M194.5 137.9h0M192.9 144.8h0M139.7 136.5h0M149.5 140.6h0M182.1 146.7h0M171.3 138.7h0M149.2 140.6h0M186.9 137.5h0M183.5 133.5h0M168.2 145.7h0M161.9 130.8h0M190.2 137.5h0M157.1 132.0h0M175.0 133.3h0M173.0 131.0h0M148.0 135.5h0M180.2 139.7h0M155.7 144.4h0M162.3 128.3h0M153.3 139.1h0M150.8 135.6h0M180.0 134.2h0M143.2 134.7h0M172.5 138.5h0M177.1 136.9h0M182.7 137.3h0M142.0 135.5h0M173.2 139.2h0M141.8 129.1h0M191.3 142.6h0M139.1 131.4h0M185.9 136.7h0M166.2 133.8h0M163.5 137.3h0M159.6 133.2h0M140.5 128.0h0M174.5 130.5h0M167.5 135.7h0M170.2 137.7h0M166.9 141.3h0M187.5 145.5h0M189.6 134.0h0M140.1 130.8h0M160.0 141.6h0M171.0 133.2h0M139.1 139.7h0M170.3 142.9h0M147.3 131.8h0M194.6 140.9h0M184.2 144.6h0M173.4 139.9h0M178.2 136.1h0M186.1 136.5h0M175.7 140.0h0M193.8 133.5h0M142.0 136.8h0M172.5 136.6h0M141.8 131.4h0M160.6 133.1h0M174.3 140.5h0M176.8 133.1h0M142.7 136.5h0M175.8 128.5h0M174.8 136.7h0M139.5 134.9h0M145.8 138.1h0M166.3 142.6h0M186.3 140.0h0M159.5 140.8h0M180.1 136.2h0M144.5 130.7h0M188.0 131.6h0M178.8 133.8h0M150.0 138.8h0M144.9 141.1h0M174.0 139.5h0M187.1 138.4h0M170.9 141.6h0M139.6 132.8h0M155.2 139.0h0M165.1 137.4h0M139.2 135.3h0M140.5 133.6h0M163.2 131.6h0M146.6 134.7h0M184.7 133.5h0M161.3 146.6h0M187.8 144.5h0M161.6 134.9h0M158.4 133.8h0M179.9 137.7h0M173.8 130.3h0M168.7 144.0h0M148.6 136.8h0M147.3 134.4h0M191.8 142.4h0M162.1 144.3h0M193.0 138.0h0M149.4 142.3h0M175.4 129.3h0M179.5 133.7h0M185.4 133.2h0M151.4 129.9h0M181.4 141.7h0M194.2 130.6h0M146.4 133.6h0M169.1 143.0h0M193.6 135.6h0M160.5 137.8h0M171.2 133.6h0M168.1 139.3h0M176.1 132.7h0M176.4 141.2h0M157.2 140.5h0M140.3 136.3h0M172.9 133.7h0M189.3 136.1h0M177.8 139.7h0M194.3 132.6h0M146.4 131.4h0M153.1 126.7h0M188.5 134.5h0M139.3 133.3h0M155.3 142.6h0M140.3 128.4h0M152.4 130.8h0M183.6 143.2h0M154.2 143.3h0M144.5 130.0h0M157.4 135.4h0M179.9 128.3h0M177.3 137.1h0M176.0 143.8h0M190.9 141.0h0M163.9 132.5h0M170.4 138.9h0M181.6 133.7h0M142.8 136.7h0M174.0 134.8h0M190.2 140.2h0M165.6 143.9h0M185.6 138.8h0M188.8 138.9h0M189.2 139.1h0M167.6 142.0h0M144.0 133.5h0M179.1 136.6h0M141.4 134.0h0M173.9 144.0h0M172.7 138.3h0M195.3 139.9h0M177.8 135.6h0M151.2 131.1h0M141.9 133.4h0M187.6 139.6h0M164.8 136.2h0M193.2 134.3h0M187.8 135.4h0M165.5 140.3h0M190.9 139.3h0M148.9 137.1h0M184.0 132.7h0M193.9 133.7h0M168.1 136.8h0M186.5 140.3h0M172.5 139.1h0M185.9 130.5h0M156.7 144.5h0M174.7 137.9h0M147.7 132.3h0M192.7 140.9h0M178.4 134.6h0M167.4 139.2h0M180.5 130.8h0M192.7 136.2h0M147.6 139.9h0M160.2 135.4h0M175.0 130.6h0M164.6 133.7h0M167.2 141.0h0M186.1 129.4h0M143.6 128.6h0M152.5 141.8h0M146.2 136.8h0M148.9 136.8h0M167.9 135.4h0M180.1 139.3h0M156.7 141.9h0M163.9 139.9h0M164.1 129.1h0M180.4 140.4h0M139.2 125.9h0M174.2 145.9h0M192.6 134.8h0M178.3 140.3h0M180.5 138.9h0M172.9 134.3h0M149.6 143.1h0M190.1 138.2h0M184.1 140.6h0M156.4 139.6h0M150.0 144.4h0M191.1 137.3h0M181.0 133.6h0M152.1 144.2h0M150.5 143.8h0M145.5 134.6h0M161.1 135.0h0M147.2 132.3h0M189.7 143.0h0M150.5 137.0h0M169.6 141.1h0M151.5 127.3h0M172.7 142.8h0M173.8 134.2h0M140.1 121.1h0M142.1 128.8h0M195.2 139.2h0M181.1 145.0h0M191.5 123.6h0M174.1 130.8h0M184.3 138.0h0M142.3 127.3h0M158.7 135.7h0M171.5 132.4h0M170.7 138.0h0M159.4 130.4h0M141.0 132.8h0M167.6 133.3h0M193.0 137.6h0M178.9 136.9h0M183.9 142.1h0M195.5 138.0h0M184.9 129.2h0M191.2 135.7h0M152.5 141.7h0M191.4 137.5h0M165.6 124.5h0M143.5 136.9h0M152.5 135.5h0M190.2 136.5h0M188.6 140.5h0M188.8 132.3h0M194.9 140.4h0M164.8 123.7h0M140.7 129.4h0M141.7 132.9h0M178.7 129.3h0M163.0 142.6h0M149.5 137.3h0M151.7 146.1h0M152.9 130.9h0M161.5 133.6h0M193.7 140.3h0M180.4 134.8h0M148.5 141.1h0M160.2 141.0h0M176.5 133.7h0M186.4 137.8h0M153.4 140.7h0M180.5 138.6h0M170.0 136.6h0M194.1 134.6h0M146.5 135.2h0M171.4 142.5h0M187.4 130.1h0M179.0 132.4h0M192.4 136.3h0M174.7 144.8h0M153.9 133.7h0M176.2 149.2h0M195.1 125.1h0M153.0 141.5h0M150.6 140.7h0M170.2 135.6h0M155.9 128.7h0M155.5 139.4h0M153.1 136.1h0M144.1 141.7h0M185.2 140.3h0M170.7 133.0h0M183.9 147.3h0M179.6 146.8h0M187.8 145.0h0M141.8 135.4h0M190.9 142.1h0M152.3 138.8h0M161.8 135.3h0M185.3 128.1h0M179.3 139.1h0M178.4 127.7h0M186.7 141.1h0M177.6 130.9h0M195.0 138.4h0M189.8 136.0h0M188.2 131.7h0M190.8 132.2h0M190.8 134.5h0M190.4 145.0h0M184.5 139.5h0M174.7 136.4h0M148.6 141.4h0M182.9 131.7h0M155.2 130.5h0M171.9 133.3h0M152.3 143.5h0M156.8 136.6h0M159.3 138.6h0M178.1 138.2h0M184.8 135.3h0M170.3 144.0h0M142.5 138.8h0M180.3 133.1h0M167.5 132.5h0M178.5 137.2h0M151.8 133.3h0M173.6 137.5h0M152.0 141.7h0M169.7 137.9h0M144.5 136.7h0M161.2 135.3h0M160.8 133.7h0M186.6 132.0h0M150.0 144.0h0M170.2 133.7h0M188.5 137.6h0M155.1 138.5h0M159.7 140.1h0M195.6 135.3h0M141.7 126.6h0M172.9 132.1h0M142.2 138.0h0M180.1 131.9h0M149.7 140.7h0M189.6 131.7h0M194.8 145.6h0M146.4 138.6h0M141.2 126.6h0M176.3 146.0h0M141.3 125.0h0M149.5 135.5h0M142.4 140.7h0M151.6 135.8h0M186.4 143.7h0M176.9 137.6h0M142.5 132.0h0M148.8 143.4h0M185.6 137.4h0M175.8 135.0h0M171.5 142.3h0M181.0 136.0h0M183.0 130.2h0M141.5 131.0h0M188.1 129.1h0M176.8 141.4h0M173.3 143.8h0M186.8 135.7h0M178.8 140.8h0M161.9 132.4h0M142.9 133.4h0M168.7 142.9h0M188.8 136.7h0M140.4 133.5h0M192.9 135.6h0M168.5 130.6h0M163.3 132.4h0M172.8 134.6h0M195.5 136.1h0M186.8 132.5h0M183.1 128.0h0M140.3 128.6h0M194.9 133.5h0M177.9 139.9h0M153.5 130.3h0M144.7 136.8h0M175.3 132.9h0M157.2 133.6h0M184.2 139.3h0M191.1 141.2h0M174.6 142.6h0M192.5 130.8h0M140.8 139.7h0M165.7 142.9h0M151.5 139.4h0M148.1 139.0h0M195.2 137.1h0M143.6 134.5h0M172.6 141.9h0M187.8 145.7h0M165.9 136.3h0M152.3 139.8h0M183.9 142.1h0M176.4 130.2h0M171.8 146.0h0M155.1 139.8h0M167.2 136.2h0M167.9 133.2h0M192.6 136.4h0M166.6 139.3h0M155.7 133.2h0M190.0 141.9h0M171.6 139.0h0M187.5 131.8h0M169.6 140.2h0M183.0 136.6h0M175.8 137.8h0M152.5 136.1h0M141.6 131.3h0M151.5 131.7h0M174.3 138.3h0M161.7 138.2h0M189.0 138.8h0M149.6 144.9h0M156.1 138.6h0M162.0 144.6h0M151.7 136.4h0M146.3 141.0h0M192.7 133.8h0M153.3 136.7h0M191.0 137.2h0M144.3 128.1h0M148.7 132.2h0M160.4 134.7h0M167.1 146.3h0M158.0 138.6h0M152.4 132.1h0M174.9 131.2h0M177.0 136.8h0M139.5 128.3h0M172.8 138.4h0M152.9 132.3h0M162.9 132.3h0M147.6 140.7h0M143.2 125.7h0M187.9 133.2h0M177.5 129.8h0M167.1 140.6h0M181.9 142.8h0M193.6 143.6h0M190.8 139.8h0M163.8 134.1h0M169.3 136.7h0M140.7 135.2h0M171.3 142.0h0M158.3 142.8h0M156.4 141.5h0M158.0 142.2h0M171.9 143.1h0M169.3 124.3h0M178.1 118.4h0M156.2 134.0h0M157.2 113.8h0M159.3 115.6h0M170.8 110.6h0M149.7 120.7h0M156.6 115.0h0M170.2 119.5h0M148.4 114.7h0M169.3 123.7h0M177.5 115.9h0M166.7 121.2h0M155.2 119.7h0M158.8 115.3h0M153.8 120.6h0M162.2 120.6h0M171.6 124.3h0M172.3 106.6h0M142.3 131.2h0M155.9 121.5h0M166.0 123.7h0M159.7 124.4h0M140.4 111.0h0M164.9 125.9h0M167.9 122.8h0M162.9 117.3h0M162.3 126.5h0M171.6 119.0h0M149.9 113.6h0M160.2 127.0h0M166.7 126.3h0M194.4 123.2h0M156.3 119.9h0M170.2 132.1h0M178.9 116.8h0M170.1 122.5h0M171.0 119.6h0M174.6 119.6h0M146.7 124.3h0M167.7 114.0h0M158.9 124.5h0M177.2 122.9h0M167.0 118.6h0M165.5 115.9h0M164.8 111.3h0M151.5 121.6h0M171.6 132.9h0M148.2 116.6h0M161.3 114.5h0M159.8 116.3h0M172.2 122.9h0M163.2 124.5h0M155.3 123.5h0M169.4 120.6h0M179.1 112.4h0M153.7 128.2h0M176.0 118.7h0M157.0 123.8h0M161.1 121.6h0M161.3 121.1h0M153.6 126.7h0M178.2 122.1h0M170.5 135.7h0M168.8 131.4h0M150.6 127.5h0M169.4 119.3h0M155.0 126.9h0M175.9 123.6h0M146.8 126.3h0M169.9 121.8h0M148.7 114.1h0M149.5 114.5h0M165.2 120.8h0M171.1 127.3h0M173.6 120.8h0M159.5 117.1h0M158.1 120.0h0M171.8 125.9h0M152.4 117.9h0M152.8 117.6h0M168.1 122.0h0M167.4 125.8h0M164.0 112.8h0M174.8 118.5h0M148.0 121.1h0M167.6 118.2h0M183.6 124.8h0M159.4 127.1h0M151.5 116.0h0M174.8 138.0h0M168.5 123.9h0M174.6 132.3h0M169.9 126.5h0M159.2 108.5h0M161.4 112.4h0M152.4 123.1h0M187.7 124.9h0M154.8 125.5h0M160.2 107.4h0M157.1 116.7h0M167.6 124.5h0M176.7 130.1h0M158.7 124.8h0M167.6 111.5h0M170.3 117.3h0M183.9 118.8h0M161.4 118.2h0M166.0 128.4h0M178.8 129.3h0M150.1 130.1h0M163.4 113.4h0M164.3 112.3h0M153.1 110.5h0M161.6 119.3h0M165.5 121.8h0M173.9 111.5h0M172.0 122.9h0M158.4 122.8h0M154.8 119.6h0M172.3 124.2h0M149.4 114.1h0M158.4 113.5h0M152.9 131.3h0M148.7 118.4h0M165.8 127.9h0M150.2 116.5h0M157.5 105.2h0M174.8 124.8h0M177.7 112.4h0M150.8 114.9h0M154.7 127.2h0M155.2 110.3h0M150.9 119.1h0M175.4 129.0h0M171.3 135.2h0M167.7 114.2h0M154.1 122.2h0M170.1 116.4h0M164.9 129.6h0M162.9 117.6h0M168.5 130.4h0M175.6 112.3h0M162.5 126.5h0M159.3 131.4h0M153.7 125.7h0M176.0 121.2h0M167.6 117.6h0M140.9 111.8h0M164.4 127.7h0M170.5 127.6h0M148.5 123.4h0M149.4 112.2h0M172.7 114.7h0M160.4 120.0h0M149.6 132.9h0M163.3 134.1h0M166.3 127.8h0M154.3 111.0h0M155.7 106.5h0M163.3 121.0h0M162.4 124.0h0M179.2 132.4h0M175.1 114.5h0M167.7 128.5h0M156.9 118.3h0M157.4 124.6h0M142.5 116.6h0M162.3 117.0h0M159.2 116.3h0M156.8 119.0h0M169.6 113.6h0M174.4 114.5h0M146.0 122.3h0M166.7 111.6h0M167.0 117.8h0M157.2 116.2h0M156.3 118.6h0M178.7 128.9h0M169.7 115.3h0M182.4 132.1h0M155.9 107.5h0M153.2 114.1h0M160.5 125.6h0M170.9 103.5h0M175.0 118.9h0M180.9 123.8h0M157.0 110.6h0M149.7 131.1h0M172.1 133.9h0M171.2 121.3h0M168.2 121.0h0M176.3 126.6h0M155.6 127.9h0M148.1 117.8h0M181.8 118.1h0M165.8 135.4h0M160.3 122.7h0M170.4 119.9h0M183.4 114.9h0M164.7 100.2h0M179.0 119.9h0M163.9 121.4h0M180.7 120.5h0M164.9 119.6h0M174.2 126.7h0M162.9 123.0h0M168.6 122.4h0M165.2 119.7h0M159.3 118.5h0M164.1 121.8h0M169.6 116.1h0M162.1 129.1h0M158.2 122.9h0M166.9 121.0h0M176.4 135.4h0M162.3 126.7h0M153.9 112.9h0M155.0 115.0h0M163.3 120.4h0M178.2 117.5h0M153.5 130.3h0M173.5 126.4h0M161.3 127.4h0M156.8 128.7h0M158.1 127.5h0M173.6 108.3h0M158.7 111.3h0M175.5 113.9h0M181.7 124.7h0M155.0 122.6h0M151.1 134.1h0M146.8 130.2h0M167.9 130.6h0M154.8 116.4h0M157.1 120.6h0M155.7 128.1h0M175.3 113.3h0M169.0 116.3h0M168.4 133.9h0M146.9 136.1h0M155.1 108.6h0M162.3 120.6h0M161.7 112.4h0M165.7 106.8h0M177.5 115.0h0M169.1 124.8h0M170.1 125.4h0M161.6 122.7h0M159.0 130.1h0M158.4 114.9h0M161.8 119.0h0M147.6 131.5h0M157.4 126.2h0M162.9 115.1h0M158.3 112.0h0M162.3 121.1h0M145.8 122.1h0M157.6 123.0h0M162.8 119.6h0M173.3 121.5h0M163.7 116.3h0M160.6 120.3h0M157.3 116.1h0M163.0 111.7h0M157.9 121.5h0M169.3 115.0h0M157.6 115.0h0M168.7 124.7h0M156.6 123.1h0M148.9 134.0h0M149.3 132.8h0M170.9 118.1h0M157.2 118.7h0M158.0 116.0h0M185.8 111.0h0M151.8 131.8h0M162.1 125.5h0M150.0 116.7h0M156.7 133.4h0M189.9 110.7h0M195.4 113.7h0M187.8 96.9h0M184.4 106.7h0M183.9 112.3h0M180.5 118.4h0M184.5 110.4h0M189.1 97.8h0M195.2 107.1h0M186.8 102.3h0M186.8 109.1h0M189.5 120.6h0M192.1 119.9h0M184.0 122.4h0M189.7 103.1h0M185.3 94.6h0M190.3 101.9h0M190.7 110.9h0M193.3 105.3h0M185.6 110.5h0M183.7 123.2h0M189.0 108.2h0M188.6 115.1h0M188.6 131.4h0M192.6 105.8h0M189.2 119.2h0M192.8 97.1h0M188.8 103.1h0M188.0 109.7h0M184.3 122.1h0M191.9 112.9h0M188.7 106.8h0M194.6 117.9h0M191.7 126.4h0M185.9 126.0h0M189.6 103.3h0M188.0 117.9h0M187.7 106.2h0M181.6 118.7h0M189.4 122.5h0M188.8 100.8h0M182.3 132.8h0M189.8 93.1h0M190.2 113.4h0M182.7 94.5h0M182.7 106.7h0M189.6 127.0h0M192.0 124.6h0M189.7 130.5h0M179.4 108.6h0M182.8 102.2h0M190.9 102.2h0M183.2 140.6h0M193.4 121.8h0M193.7 102.4h0M184.1 112.0h0M189.4 111.0h0M191.7 121.3h0M190.5 105.9h0M185.9 94.5h0M187.2 104.2h0M187.7 117.2h0M196.0 112.6h0M191.4 106.2h0M193.9 99.2h0M189.4 123.8h0M190.9 117.8h0M192.5 103.2h0M187.3 106.3h0M184.5 129.9h0M190.1 108.9h0M186.1 125.1h0M185.4 110.3h0M184.4 110.3h0M181.3 107.2h0M188.8 117.8h0M183.5 116.7h0M184.2 103.2h0M186.6 129.0h0M182.1 107.9h0M190.7 106.5h0M192.4 123.6h0M182.6 104.5h0M186.3 110.0h0M187.0 114.6h0M186.9 121.0h0M188.5 96.0h0M189.8 102.5h0M184.9 88.1h0M191.7 117.2h0M178.6 114.5h0M183.0 117.5h0M192.6 114.7h0M186.0 105.4h0M189.8 117.5h0M193.8 101.1h0M182.7 108.3h0M184.4 121.5h0M184.4 98.7h0M184.6 141.1h0M189.4 104.3h0M178.6 96.0h0M190.1 113.0h0M187.8 102.9h0M195.3 118.0h0M180.5 120.0h0M191.1 101.4h0M186.1 116.4h0M184.5 105.8h0M192.2 114.0h0M192.3 106.4h0M181.3 110.0h0M192.1 114.6h0M186.7 125.5h0M186.1 107.2h0M185.6 118.9h0M187.6 126.7h0M185.0 103.4h0M188.5 122.2h0M176.0 108.3h0M192.5 114.8h0M189.4 116.0h0M185.2 108.8h0M189.8 126.1h0M186.9 123.9h0M190.9 112.8h0M193.1 111.1h0M190.2 112.1h0M173.0 117.0h0M194.4 116.9h0M188.3 97.8h0M191.3 118.2h0M184.0 116.4h0M187.1 108.0h0M186.8 103.9h0M190.7 94.8h0M191.5 114.6h0M189.7 104.8h0M189.2 107.2h0M192.2 136.9h0M193.4 96.9h0M191.2 92.1h0M186.2 118.6h0M192.0 93.6h0M184.9 105.6h0M189.1 111.2h0M195.0 101.6h0M180.7 122.5h0M182.2 111.1h0M176.9 112.3h0M188.5 100.5h0M189.9 108.4h0M188.9 129.4h0M187.0 110.0h0M183.3 116.2h0M188.7 115.3h0M182.9 101.8h0M190.6 118.2h0M195.3 105.5h0M183.1 92.4h0M185.6 117.1h0M183.1 129.6h0M179.2 117.3h0M181.7 121.7h0M186.7 99.4h0M192.2 81.9h0M193.4 128.4h0M183.0 120.5h0M190.7 94.8h0M186.4 113.3h0M188.6 110.6h0M192.5 109.6h0M192.3 100.3h0M192.1 114.9h0M189.1 117.9h0M189.0 97.4h0M188.9 114.6h0M190.6 96.2h0M187.2 117.7h0M189.9 108.8h0M188.4 120.0h0M194.4 115.6h0M183.0 94.8h0M185.8 100.4h0M188.1 111.8h0M187.3 116.8h0M176.8 123.1h0M193.0 99.3h0M194.9 109.6h0M179.6 134.9h0M181.1 112.1h0M194.1 101.9h0M180.4 93.5h0M188.3 115.5h0M187.2 120.3h0M185.7 103.5h0M189.4 119.6h0M182.4 122.4h0M179.8 125.5h0M184.8 118.2h0M186.7 108.8h0M188.7 104.1h0M191.6 120.6h0M194.9 97.9h0M190.2 126.7h0M187.3 117.8h0M190.0 108.7h0M181.8 93.2h0M184.1 102.9h0M183.9 96.4h0M180.0 100.7h0M191.4 116.1h0M182.5 133.7h0M180.6 100.8h0M182.7 103.0h0M194.8 132.0h0M193.7 112.2h0M188.8 114.8h0M190.8 104.3h0M178.6 127.0h0M183.1 112.2h0M188.9 118.9h0M182.4 119.6h0M180.5 126.9h0M183.8 115.5h0M191.2 105.5h0M194.6 116.9h0M182.4 110.7h0M194.1 93.9h0M181.3 105.3h0M188.0 96.1h0M187.2 109.7h0M185.6 106.5h0M195.7 107.7h0M191.3 94.8h0M187.7 116.6h0M192.6 113.0h0M184.2 121.8h0M189.6 99.2h0M194.6 106.2h0M189.6 104.5h0M182.3 104.1h0M181.6 116.5h0M186.2 100.1h0M186.6 115.5h0M185.1 112.6h0M194.6 110.6h0M189.4 109.3h0M182.8 110.1h0M184.3 120.6h0M189.8 121.3h0M181.6 120.1h0M189.5 112.5h0M182.6 106.0h0M188.5 127.5h0M191.6 107.3h0M187.6 113.9h0M181.4 118.1h0M193.4 107.0h0M194.4 112.7h0M149.6 97.6h0M184.7 88.2h0M176.6 82.7h0M163.9 114.5h0M183.4 104.3h0M149.5 112.6h0M179.8 91.7h0M143.4 107.3h0M154.3 111.0h0M148.4 99.5h0M145.7 115.8h0M157.9 84.4h0M166.7 97.2h0M174.2 88.1h0M164.9 84.3h0M162.9 101.2h0M163.9 111.4h0M128.1 93.9h0M170.0 92.9h0M182.1 93.2h0M142.8 109.8h0M176.8 112.1h0M176.4 81.9h0M186.6 93.9h0M174.9 79.0h0M146.2 97.1h0M160.2 84.6h0M148.9 104.5h0M148.2 104.1h0M187.1 116.6h0M150.1 95.6h0M179.9 104.9h0M141.0 92.3h0M179.8 93.6h0M148.7 86.4h0M161.0 100.0h0M162.0 100.8h0M170.9 120.2h0M175.9 104.2h0M168.5 117.6h0M169.6 101.0h0M153.0 108.5h0M187.0 86.1h0M194.4 112.8h0M176.0 97.1h0M193.1 81.8h0M191.4 65.4h0M195.2 90.8h0M192.8 85.1h0M195.4 78.1h0M195.4 72.6h0M195.0 83.4h0M195.4 79.2h0M194.2 81.5h0M193.8 86.7h0M194.4 77.6h0M194.8 102.5h0M192.6 95.2h0M194.0 99.7h0M194.4 78.2h0M192.3 84.4h0M192.6 93.0h0M194.8 90.2h0M192.4 81.6h0M196.0 82.3h0M195.1 99.2h0M194.8 104.0h0M193.5 113.4h0M193.0 87.3h0M194.6 101.6h0M194.9 102.9h0M195.7 95.3h0M190.8 93.6h0M195.0 91.7h0M195.4 103.7h0M193.5 103.9h0M194.9 80.1h0M193.6 87.3h0M193.7 79.9h0M192.5 94.3h0M195.4 84.8h0M194.5 96.6h0M193.9 111.2h0M193.9 84.9h0M194.8 106.9h0M194.6 89.9h0M193.3 90.3h0M195.2 101.6h0M192.2 118.3h0M195.5 87.7h0M193.7 108.8h0M194.2 101.8h0M193.5 81.8h0M194.9 104.0h0M193.2 87.8h0M194.5 95.7h0M195.9 68.9h0M193.6 73.2h0M192.6 88.4h0M193.7 94.9h0M195.8 38.3h0M191.9 55.6h0M195.1 58.8h0M184.7 63.7h0M125.9 66.2h0M135.1 71.1h0M156.8 76.0h0M178.5 73.1h0M166.7 81.5h0M187.7 69.1h0M193.8 64.7h0M190.1 74.1h0M152.3 85.9h0M144.0 89.4h0M195.5 47.0h0M194.6 52.0h0" stroke="#fa0a0a" stroke-width="1.4" stroke-linecap="square" fill="none"/>
<path d="M191.4 302.2h0M160.6 314.2h0M193.8 305.1h0M129.8 310.1h0M167.4 321.7h0M150.9 314.3h0M181.3 308.5h0M136.5 314.9h0M186.3 299.5h0M162.9 327.3h0M188.5 307.7h0M158.1 296.3h0M154.8 304.6h0M180.4 321.8h0M194.4 297.0h0M150.4 338.9h0M193.3 303.8h0M190.4 305.5h0M136.7 309.8h0M167.5 314.3h0M174.4 312.6h0M191.4 309.0h0M171.6 314.1h0M133.5 313.3h0M159.6 308.0h0M159.3 312.4h0M159.8 312.9h0M192.5 299.1h0M149.0 307.5h0M140.0 304.3h0M161.3 314.1h0M169.8 292.6h0M191.1 287.5h0M165.6 310.0h0M143.2 317.0h0M190.5 294.8h0M159.2 306.3h0M172.3 317.9h0M158.0 314.3h0M139.5 325.1h0M173.5 309.0h0M179.1 300.6h0M137.6 309.7h0M156.9 330.3h0M149.9 326.4h0M136.2 314.1h0M139.8 322.0h0M192.8 287.0h0M187.2 313.0h0M151.3 316.2h0M176.9 307.4h0M127.0 312.2h0M189.4 303.0h0M162.4 312.2h0M182.6 301.0h0M143.7 302.1h0M150.9 326.5h0M148.9 304.8h0M193.5 296.9h0M154.7 322.6h0M159.7 325.6h0M192.4 311.2h0M188.6 295.5h0M152.2 308.8h0M146.0 311.4h0M181.7 287.9h0M131.7 319.0h0M152.0 298.1h0M186.7 300.1h0M189.6 307.5h0M140.7 319.0h0M129.6 307.1h0M180.3 312.4h0M168.5 322.5h0M141.0 296.8h0M160.2 312.0h0M129.1 316.6h0M174.1 312.7h0M161.7 312.8h0M174.4 307.7h0M130.3 331.1h0M170.1 308.6h0M150.5 320.9h0M159.7 303.8h0M148.0 316.2h0M169.3 321.5h0M164.6 312.0h0M168.1 308.1h0M128.5 327.4h0M140.1 310.3h0M129.1 320.4h0M151.4 299.9h0M158.4 329.4h0M132.0 294.6h0M171.7 303.5h0M158.8 309.7h0M159.8 314.8h0M166.7 317.2h0M190.8 314.1h0M166.1 334.4h0M130.7 328.9h0M134.5 320.0h0M173.6 312.7h0M147.1 295.1h0M178.0 307.0h0M160.5 311.0h0M151.1 319.1h0M176.9 299.8h0M137.1 305.9h0M144.4 306.9h0M144.9 319.0h0M153.7 315.9h0M188.9 292.7h0M182.1 290.2h0M182.7 299.9h0M169.1 308.8h0M124.6 307.6h0M144.5 314.1h0M159.9 322.4h0M188.2 308.9h0M150.0 307.5h0M163.4 310.3h0M184.7 317.2h0M148.4 311.4h0M177.5 314.7h0M166.5 318.1h0M161.6 320.0h0M169.0 328.7h0M158.7 313.9h0M132.1 322.9h0M188.1 307.1h0M193.3 298.4h0M183.6 300.8h0M149.3 309.2h0M169.3 324.8h0M179.1 316.2h0M128.5 305.7h0M180.4 310.2h0M130.1 297.4h0M191.2 301.5h0M141.3 332.0h0M192.9 289.6h0M140.6 316.6h0M162.3 311.8h0M183.5 305.9h0M194.6 289.9h0M174.5 312.7h0M183.7 284.5h0M152.0 312.2h0M177.7 305.8h0M151.5 313.5h0M190.5 319.1h0M179.3 297.2h0M151.1 308.1h0M180.1 294.8h0M128.8 317.5h0M190.1 301.5h0M173.6 301.1h0M147.4 322.0h0M170.3 316.3h0M180.1 319.3h0M168.9 321.5h0M187.4 303.5h0M153.7 307.7h0M146.9 294.6h0M150.5 308.4h0M144.1 323.6h0M158.3 313.7h0M178.2 300.4h0M186.5 305.2h0M169.2 320.9h0M180.2 331.0h0M193.4 290.6h0M171.2 309.8h0M130.1 302.7h0M168.7 308.2h0M125.4 320.6h0M172.5 310.9h0M195.4 285.4h0M158.9 327.6h0M190.7 316.3h0M125.4 319.4h0M193.0 290.5h0M136.0 303.5h0M184.0 315.6h0M145.3 304.2h0M152.1 308.8h0M133.5 299.9h0M126.7 329.4h0M177.8 301.9h0M177.3 306.6h0M132.8 306.1h0M168.5 308.5h0M142.4 302.7h0M188.1 311.6h0M133.6 306.6h0M166.0 329.3h0M187.6 290.5h0M162.5 320.6h0M172.0 320.5h0M181.9 294.6h0M174.5 312.1h0M183.0 299.3h0M140.0 303.1h0M189.1 297.3h0M160.0 298.8h0M189.5 298.2h0M174.0 296.5h0M176.5 314.3h0M192.0 313.0h0M131.6 324.8h0M186.2 295.9h0M144.9 311.6h0M182.7 322.0h0M140.0 324.2h0M157.5 320.5h0M134.0 293.4h0M181.6 302.0h0M144.9 332.7h0M157.8 319.1h0M180.9 301.4h0M150.6 313.8h0M187.3 323.6h0M160.5 327.3h0M191.4 288.3h0M179.2 296.3h0M195.0 298.3h0M175.0 321.3h0M146.4 306.1h0M161.9 310.9h0M191.2 276.8h0M190.1 294.8h0M141.9 318.3h0M142.3 318.3h0M142.1 299.5h0M168.7 321.1h0M137.9 305.0h0M174.4 296.8h0M146.9 317.0h0M183.9 288.5h0M141.6 308.1h0M190.2 291.9h0M147.7 310.9h0M126.5 313.3h0M135.6 307.8h0M182.4 296.2h0M136.2 307.2h0M141.9 290.2h0M195.2 296.0h0M153.8 331.9h0M170.0 315.9h0M163.0 326.4h0M157.5 314.6h0M188.2 301.5h0M126.6 316.0h0M151.2 319.3h0M156.3 320.3h0M173.0 303.4h0M176.1 309.0h0M131.0 321.9h0M141.1 312.7h0M147.9 310.4h0M178.9 295.2h0M177.1 312.4h0M190.3 309.7h0M152.7 318.4h0M154.0 324.2h0M134.1 305.7h0M188.0 310.3h0M188.2 301.8h0M192.3 275.2h0M176.5 311.4h0M187.1 293.3h0M164.5 315.8h0M184.0 298.1h0M147.3 305.3h0M178.1 317.4h0M178.2 302.7h0M168.2 316.7h0M184.0 310.7h0M172.3 308.6h0M141.8 302.2h0M127.7 313.5h0M147.3 312.8h0M138.0 305.3h0M188.7 303.2h0M162.1 328.8h0M176.2 318.6h0M190.1 315.8h0M180.5 319.4h0M185.9 305.7h0M164.1 318.0h0M178.3 298.4h0M192.3 311.4h0M155.4 310.4h0M174.1 316.8h0M192.1 316.0h0M141.3 315.3h0M129.2 299.8h0M158.4 306.9h0M187.7 299.8h0M161.4 329.4h0M138.7 311.1h0M194.4 298.2h0M157.7 306.3h0M155.3 318.7h0M129.2 314.3h0M154.8 322.7h0M194.0 290.9h0M155.0 320.9h0M179.6 294.2h0M190.4 295.2h0M173.5 309.8h0M134.2 317.1h0M160.4 295.1h0M185.0 303.3h0M149.6 310.1h0M175.5 297.8h0M144.4 310.8h0M166.7 320.6h0M176.4 305.2h0M162.6 312.5h0M147.2 320.0h0M176.9 302.1h0M133.9 323.1h0M147.6 317.3h0M180.2 310.6h0M159.8 321.9h0M130.7 324.8h0M172.5 305.8h0M189.4 312.5h0M136.3 305.6h0M189.7 305.2h0M192.2 301.8h0M167.6 305.9h0M142.5 302.8h0M135.8 303.6h0M155.3 315.0h0M154.9 316.9h0M160.2 321.9h0M161.0 302.9h0M130.2 316.4h0M141.8 323.5h0M134.4 315.2h0M182.6 305.6h0M134.8 321.3h0M171.7 327.8h0M130.3 327.3h0M170.7 328.2h0M155.1 303.9h0M160.0 330.2h0M177.5 306.3h0M146.2 322.1h0M173.7 306.4h0M189.3 305.8h0M176.7 304.6h0M166.9 314.4h0M173.4 330.0h0M187.8 292.2h0M125.8 322.6h0M195.1 300.1h0M157.4 306.3h0M187.9 315.3h0M128.1 314.1h0M144.3 309.4h0M163.9 321.3h0M164.7 311.1h0M191.2 316.9h0M146.6 300.9h0M141.0 309.8h0M169.4 296.9h0M135.6 316.6h0M189.3 310.2h0M140.6 323.1h0M168.8 315.8h0M140.2 310.5h0M189.4 311.2h0M131.5 308.6h0M159.8 320.5h0M166.9 313.0h0M159.5 310.6h0M128.3 313.6h0M161.1 328.1h0M133.3 322.8h0M127.1 315.3h0M188.8 279.0h0M142.6 315.0h0M129.1 317.7h0M124.9 319.0h0M185.8 298.3h0M185.3 314.4h0M177.2 313.1h0M180.6 290.2h0M143.9 321.9h0M165.7 333.6h0M176.6 313.0h0M141.8 307.8h0M176.3 327.5h0M181.0 316.8h0M161.3 301.2h0M170.0 325.1h0M125.8 317.9h0M150.9 317.9h0M147.0 298.8h0M149.7 299.5h0M190.1 304.1h0M191.3 319.6h0M128.2 315.7h0M165.8 319.1h0M138.2 309.0h0M170.6 311.0h0M193.6 310.0h0M134.3 307.2h0M151.6 332.4h0M148.4 319.0h0M174.7 314.2h0M182.2 305.0h0M127.2 306.8h0M138.8 311.8h0M150.6 300.9h0M192.7 300.9h0M178.5 290.5h0M168.8 335.4h0M193.1 299.2h0M152.3 300.2h0M181.3 308.3h0M141.8 314.6h0M142.6 308.3h0M189.5 303.7h0M182.5 297.6h0M168.6 313.4h0M135.4 311.3h0M146.5 317.8h0M190.2 295.7h0M156.5 317.7h0M127.1 286.4h0M140.7 323.2h0M166.2 318.1h0M185.6 308.4h0M156.6 312.9h0M141.7 321.6h0M180.8 305.6h0M146.2 315.4h0M143.2 314.2h0M165.3 312.3h0M160.9 308.1h0M185.7 308.5h0M156.4 321.2h0M170.2 313.4h0M156.7 327.1h0M172.3 313.6h0M188.4 306.8h0M130.9 323.4h0M187.9 309.2h0M188.5 300.7h0M149.8 303.8h0M156.8 306.0h0M172.3 319.9h0M138.3 280.8h0M137.1 332.3h0M150.0 305.7h0M188.2 312.5h0M166.9 319.4h0M173.9 316.4h0M166.0 305.2h0M172.3 322.2h0M155.2 314.5h0M159.6 322.4h0M131.7 304.8h0M195.2 298.7h0M136.1 307.3h0M182.5 308.7h0M169.4 321.2h0M177.8 306.6h0M161.9 321.3h0M163.4 322.4h0M148.5 313.5h0M129.6 310.9h0M169.0 297.3h0M167.9 325.7h0M147.7 315.7h0M189.8 299.6h0M190.3 303.5h0M150.2 309.3h0M157.1 313.1h0M139.4 318.7h0M175.5 296.4h0M137.9 311.1h0M146.7 316.4h0M192.4 286.0h0M135.0 303.8h0M188.0 314.5h0M164.0 338.1h0M138.2 316.9h0M181.9 312.4h0M165.8 309.8h0M179.6 320.1h0M151.0 314.1h0M146.3 315.2h0M131.9 317.6h0M133.1 308.7h0M161.0 310.9h0M152.3 314.8h0M128.2 303.9h0M137.5 308.8h0M158.8 292.8h0M127.5 304.2h0M124.7 317.6h0M171.6 323.7h0M130.5 319.3h0M153.7 307.5h0M190.8 302.2h0M130.5 304.9h0M152.0 304.9h0M138.1 323.2h0M180.6 303.4h0M160.9 314.1h0M130.0 315.3h0M178.2 317.1h0M189.9 303.1h0M180.4 304.8h0M139.8 317.4h0M194.7 298.8h0M172.4 310.1h0M151.0 294.4h0M130.4 305.9h0M161.8 316.5h0M129.7 304.6h0M133.3 331.3h0M170.7 335.7h0M177.6 325.3h0M168.1 308.3h0M156.2 321.1h0M183.8 309.8h0M185.3 308.4h0M126.6 299.6h0M176.7 319.0h0M181.8 322.8h0M167.3 325.0h0M154.6 335.9h0M179.4 306.0h0M126.0 320.8h0M188.5 315.7h0M162.4 310.2h0M165.9 317.7h0M171.5 307.8h0M157.5 325.6h0M145.3 305.1h0M141.7 318.3h0M135.8 310.4h0M125.0 322.8h0M185.2 301.0h0M193.5 299.9h0M173.3 315.8h0M145.8 308.6h0M152.7 312.2h0M182.0 305.2h0M158.1 313.0h0M152.0 318.3h0M179.7 301.6h0M143.5 316.1h0M131.7 311.9h0M152.3 309.9h0M187.1 294.0h0M195.2 282.6h0M139.8 308.3h0M179.8 312.8h0M131.5 310.8h0M171.2 327.7h0M132.7 304.9h0M139.5 310.7h0M179.9 292.8h0M132.0 324.0h0M160.9 304.6h0M148.4 318.0h0M194.8 301.7h0M178.7 331.7h0M144.3 326.2h0M194.3 306.6h0M169.5 316.0h0M135.2 330.9h0M144.4 310.8h0M182.0 294.7h0M192.5 308.5h0M126.6 312.8h0M164.9 311.7h0M138.2 317.2h0M174.6 315.8h0M177.0 318.3h0M162.4 335.7h0M169.5 311.3h0M158.5 302.7h0M172.2 315.3h0M183.6 304.2h0M129.3 320.7h0M148.3 322.7h0M138.2 313.0h0M156.8 330.1h0M167.2 299.0h0M153.0 308.6h0M180.2 308.9h0M124.8 317.0h0M135.6 313.2h0M133.8 318.1h0M130.5 301.9h0M167.2 295.5h0M173.0 320.1h0M149.7 326.7h0M174.4 311.5h0M149.8 303.7h0M166.0 311.3h0M126.9 319.2h0M148.6 316.5h0M128.1 325.9h0M177.9 324.3h0M171.5 325.2h0M185.2 302.7h0M186.9 313.6h0M163.2 322.8h0M134.2 316.2h0M145.6 316.2h0M169.6 314.3h0M173.1 303.2h0M174.4 315.0h0M131.2 306.8h0M132.9 313.5h0M175.8 317.8h0M129.9 320.9h0M160.5 300.1h0M155.3 309.5h0M182.6 295.8h0M130.3 316.2h0M177.0 302.6h0M147.9 322.8h0M172.7 308.4h0M135.6 318.1h0M168.3 306.7h0M177.7 302.0h0M173.5 309.3h0M178.9 311.8h0M167.8 297.0h0M161.0 317.6h0M171.9 299.5h0M132.6 315.0h0M171.7 296.4h0M134.6 309.5h0M157.5 326.8h0M157.2 329.0h0M132.2 303.9h0M139.5 329.3h0M175.8 305.8h0M169.6 314.6h0M158.6 320.6h0M172.8 312.8h0M151.9 317.4h0M158.0 317.5h0M154.1 322.6h0M178.1 310.0h0M128.7 308.8h0M182.2 296.1h0M124.8 302.9h0M147.2 312.6h0M193.5 305.7h0M140.1 316.3h0M149.8 310.5h0M136.0 317.0h0M184.2 298.9h0M136.7 314.2h0M152.0 318.0h0M148.6 309.8h0M139.2 325.5h0M163.7 327.2h0M149.8 310.6h0M191.3 305.9h0M156.8 316.9h0M175.3 312.8h0M126.0 315.4h0M183.9 316.3h0M166.4 319.4h0M145.4 316.2h0M163.5 325.7h0M124.9 320.9h0M135.0 329.1h0M174.7 303.2h0M157.4 321.9h0M188.2 285.7h0M174.8 311.0h0M191.1 289.3h0M184.9 292.3h0M132.6 312.3h0M184.5 294.8h0M173.7 308.9h0M137.1 289.0h0M134.2 326.0h0M145.9 289.5h0M181.8 299.8h0M151.8 329.8h0M162.7 304.8h0M159.8 332.0h0M169.1 325.0h0M155.1 314.6h0M128.9 310.0h0M192.7 297.6h0M164.9 320.5h0M126.6 322.1h0M138.0 326.0h0M191.3 281.7h0M192.5 308.3h0M160.6 322.5h0M149.9 302.8h0M155.3 323.6h0M148.0 322.5h0M159.7 325.0h0M168.5 314.9h0M134.1 320.9h0M193.3 311.0h0M139.3 308.0h0M130.3 308.9h0M168.6 310.1h0M149.7 324.8h0M177.9 308.8h0M137.1 307.2h0M163.5 308.3h0M133.5 302.0h0M183.5 307.2h0M141.2 321.7h0M192.8 311.8h0M140.4 304.9h0M166.1 308.3h0M155.0 306.6h0M192.9 292.2h0M150.0 300.1h0M166.3 330.9h0M188.1 306.8h0M131.1 308.6h0M160.0 293.1h0M186.7 315.6h0M143.6 320.7h0M133.6 314.4h0M166.7 322.9h0M183.1 298.7h0M188.0 308.3h0M159.7 311.2h0M138.7 317.7h0M124.9 311.3h0M152.5 302.3h0M134.2 303.4h0M167.0 326.0h0M174.2 320.0h0M173.6 309.6h0M139.5 307.1h0M194.9 294.5h0M180.4 309.8h0M170.8 300.7h0M182.3 314.2h0M192.4 292.5h0M149.7 303.2h0M181.2 305.6h0M155.0 332.4h0M153.5 308.1h0M195.0 295.1h0M135.2 302.6h0M160.7 318.7h0M182.1 307.9h0M170.9 313.1h0M153.2 310.8h0M180.6 309.6h0M142.0 320.9h0M162.0 312.6h0M161.2 314.2h0M136.2 307.4h0M138.0 308.2h0M186.3 314.1h0M132.9 303.8h0M194.4 300.3h0M149.1 322.9h0M194.0 294.3h0M176.3 314.3h0M160.2 322.8h0M187.5 289.0h0M132.8 321.8h0M165.2 307.9h0M177.1 309.5h0M177.1 294.4h0M147.0 298.4h0M129.1 310.2h0M193.1 314.1h0M190.3 324.2h0M147.6 338.5h0M184.7 316.3h0M135.6 324.0h0M145.1 320.5h0M194.8 304.8h0M132.8 309.8h0M167.2 311.8h0M177.5 312.3h0M182.9 309.4h0M191.4 294.9h0M130.1 302.1h0M176.7 302.3h0M161.2 310.2h0M143.9 327.0h0M185.6 315.0h0M150.8 323.8h0M172.5 306.6h0M148.6 332.3h0M156.6 318.2h0M194.4 293.5h0M140.0 307.1h0M185.0 302.8h0M129.7 332.6h0M193.1 287.8h0M170.2 307.7h0M149.4 313.8h0M181.8 310.3h0M178.2 298.1h0M193.5 290.3h0M175.1 305.1h0M180.3 312.7h0M152.4 312.7h0M183.5 302.7h0M180.1 308.3h0M160.2 317.3h0M142.9 322.3h0M194.5 292.1h0M158.7 315.9h0M182.7 299.2h0M129.5 319.7h0M147.5 321.2h0M139.3 311.3h0M178.0 319.0h0M152.9 312.7h0M182.6 318.2h0M149.9 310.1h0M148.3 309.6h0M148.6 299.9h0M142.7 304.3h0M166.3 313.2h0M161.9 297.3h0M189.7 301.2h0M150.3 321.6h0M134.5 318.2h0M187.3 304.5h0M192.9 306.0h0M164.4 312.2h0M130.0 308.6h0M161.1 324.3h0M138.9 312.3h0M149.9 322.8h0M155.2 310.6h0M128.7 319.2h0M161.5 328.2h0M161.6 316.0h0M143.2 329.4h0M132.1 327.6h0M167.6 293.3h0M172.4 336.8h0M194.6 283.9h0M168.6 337.8h0M139.2 305.3h0M139.0 294.0h0M125.1 300.2h0M130.8 317.3h0M183.1 295.5h0M126.6 307.5h0M157.5 326.9h0M138.7 304.2h0M170.4 318.2h0M180.6 318.1h0M164.5 300.3h0M174.5 299.7h0M127.0 314.8h0M131.3 313.0h0M128.3 315.6h0M142.9 295.0h0M125.6 304.9h0M177.8 311.9h0M185.1 309.4h0M178.9 319.3h0M143.2 310.1h0M154.0 308.0h0M171.0 304.2h0M136.6 304.9h0M147.2 294.7h0M174.0 326.8h0M159.6 312.1h0M151.9 307.6h0M140.3 307.7h0M180.8 311.3h0M146.8 314.5h0M154.3 307.4h0M164.1 326.6h0M137.9 315.8h0M188.7 300.0h0M146.8 313.4h0M178.4 318.5h0M170.5 319.9h0M135.8 312.2h0M124.7 322.1h0M157.4 295.2h0M177.9 314.6h0M133.5 305.1h0M181.4 299.8h0M138.0 311.0h0M150.7 331.0h0M132.8 311.4h0M135.3 311.7h0M168.1 320.7h0M177.0 289.9h0M127.8 310.4h0M183.8 310.7h0M163.4 307.7h0M164.2 322.6h0M160.6 309.1h0M133.1 298.9h0M192.0 308.2h0M186.5 303.7h0M132.1 320.0h0M145.5 315.1h0M137.3 303.3h0M154.8 324.3h0M155.4 319.0h0M191.7 304.2h0M171.9 309.0h0M191.5 290.3h0M184.7 317.6h0M135.9 320.9h0M178.4 309.8h0M166.9 311.1h0M134.3 326.1h0M164.1 309.9h0M174.9 303.6h0M134.8 333.5h0M187.9 308.5h0M192.0 309.2h0M195.3 305.7h0M125.2 332.8h0M150.2 317.9h0M136.3 318.5h0M133.7 305.6h0M167.0 317.1h0M156.4 301.7h0M170.2 310.8h0M179.4 307.4h0M154.0 321.9h0M183.7 317.7h0M185.8 297.7h0M195.4 289.1h0M148.1 306.0h0M191.5 316.7h0M186.1 315.5h0M140.0 305.0h0M184.7 306.6h0M190.4 313.4h0M181.4 297.8h0M132.5 309.1h0M176.6 308.9h0M165.2 322.3h0M165.5 315.4h0M179.4 310.4h0M145.5 314.3h0M158.1 317.8h0M152.0 318.9h0M130.8 315.5h0M150.9 320.2h0M173.8 311.5h0M172.9 309.5h0M136.5 310.8h0M125.8 298.1h0M186.7 298.7h0M171.1 329.9h0M130.9 312.6h0M166.1 321.6h0M140.7 321.6h0M174.1 306.5h0M185.1 300.7h0M149.6 318.3h0M181.8 297.0h0M127.0 321.0h0M140.5 319.8h0M151.1 316.0h0M157.4 317.8h0M155.5 321.7h0M188.2 303.1h0M142.4 290.5h0M136.8 318.1h0M185.8 294.8h0M166.1 312.2h0M169.4 310.4h0M154.4 310.9h0M165.5 301.8h0M184.3 286.8h0M139.6 313.0h0M158.0 316.3h0M144.3 317.7h0M164.9 306.1h0M148.4 311.0h0M148.7 321.2h0M149.2 310.5h0M148.7 308.5h0M167.4 334.9h0M132.2 298.1h0M148.4 306.6h0M125.1 302.9h0M152.8 310.1h0M165.9 307.8h0M137.8 311.3h0M194.8 294.2h0M175.6 303.1h0M140.4 321.7h0M193.5 295.7h0M184.1 314.9h0M132.8 326.9h0M171.6 308.9h0M186.4 316.9h0M132.8 317.0h0M137.6 323.8h0M168.7 306.3h0M166.2 317.1h0M131.1 318.4h0M132.7 319.5h0M130.7 317.2h0M154.5 334.2h0M144.2 313.3h0M155.6 327.3h0M190.7 321.6h0M160.4 311.7h0M150.2 310.8h0M152.9 305.8h0M168.8 322.5h0M190.4 315.3h0M156.9 300.3h0M182.0 298.0h0M177.1 304.1h0M172.1 334.1h0M167.4 313.5h0M168.2 319.9h0M159.7 306.1h0M133.2 322.4h0M170.3 305.1h0M132.0 313.6h0M178.7 299.1h0M142.0 313.9h0M174.7 310.3h0M166.6 319.7h0M151.2 317.0h0M174.5 328.6h0M195.4 293.0h0M164.0 330.9h0M163.9 321.5h0M164.6 317.1h0M125.9 316.8h0M141.2 317.2h0M180.6 315.4h0M132.5 321.9h0M143.4 320.5h0M193.0 303.4h0M195.4 285.2h0M156.1 324.4h0M133.9 324.8h0M180.4 311.2h0M193.8 303.4h0M159.7 309.7h0M180.7 310.1h0M142.2 322.9h0M181.7 294.9h0M124.7 309.6h0M192.1 296.5h0M157.1 328.2h0M165.4 314.3h0M171.5 297.3h0M156.4 317.8h0M151.3 327.2h0M142.6 313.2h0M165.5 314.2h0M190.3 304.1h0M184.1 321.1h0M138.1 312.1h0M172.3 310.8h0M185.2 308.6h0M137.3 307.3h0M158.4 301.2h0M158.8 318.3h0M168.0 313.1h0M132.2 317.4h0M160.5 318.6h0M159.3 322.0h0M181.2 297.0h0M171.0 317.1h0M182.8 297.7h0M153.9 318.8h0M167.4 312.8h0M135.0 329.7h0M177.1 301.5h0M192.7 279.9h0M177.7 310.3h0M176.6 305.7h0M159.9 308.6h0M190.2 303.9h0M174.5 326.6h0M190.6 300.2h0M130.5 307.3h0M172.0 326.3h0M146.2 324.7h0M134.3 314.1h0M148.5 309.2h0M170.6 320.7h0M130.1 307.2h0M128.2 307.6h0M177.1 301.7h0M156.6 320.8h0M158.5 330.2h0M130.4 314.0h0M125.4 329.4h0M150.3 296.0h0M179.1 307.4h0M144.6 298.2h0M164.2 325.9h0M149.1 325.7h0M138.4 297.4h0M166.1 310.0h0M140.0 314.3h0M160.4 302.8h0M142.1 305.6h0M141.2 304.3h0M128.4 313.3h0M141.7 306.4h0M172.8 301.0h0M165.4 309.5h0M171.7 311.1h0M177.4 308.6h0M193.8 296.8h0M158.0 326.1h0M158.6 311.8h0M179.1 307.4h0M124.7 317.4h0M155.2 311.1h0M147.5 325.1h0M172.4 318.5h0M148.7 305.0h0M191.0 298.9h0M135.7 318.0h0M179.7 315.9h0M178.8 301.3h0M137.5 308.3h0M129.7 300.5h0M176.2 295.3h0M129.3 322.5h0M127.2 312.4h0M185.1 308.6h0M143.5 323.3h0M159.0 315.6h0M138.2 314.4h0M145.2 304.1h0M193.3 294.0h0M157.1 319.4h0M160.8 329.1h0M145.5 322.9h0M124.6 306.5h0M175.1 303.3h0M194.4 305.4h0M137.9 318.0h0M169.6 319.3h0M164.1 320.0h0M170.0 325.7h0M163.9 320.1h0M173.1 325.2h0M163.6 322.5h0M169.5 314.9h0M145.8 304.0h0M184.6 307.5h0M192.0 308.8h0M163.2 319.3h0M142.5 305.4h0M131.3 296.8h0M177.6 306.4h0M186.8 319.5h0M126.9 303.2h0M154.6 311.2h0M141.1 315.7h0M155.6 324.4h0M139.7 305.3h0M132.4 314.1h0M172.8 315.1h0M130.4 303.0h0M133.7 317.4h0M160.4 307.6h0M173.0 313.8h0M182.9 311.3h0M169.7 315.5h0M164.0 306.7h0M187.8 309.2h0M195.3 305.7h0M187.4 304.6h0M186.3 311.2h0M151.7 310.5h0M153.8 307.7h0M147.9 312.5h0M143.5 318.5h0M144.4 322.2h0M127.2 307.1h0M161.4 319.1h0M166.3 318.7h0M180.1 302.7h0M164.7 299.9h0M137.1 298.5h0M158.2 324.7h0M160.4 303.1h0M138.8 297.7h0M182.3 292.6h0M137.6 310.6h0M147.0 325.4h0M190.9 304.4h0M177.5 304.3h0M184.6 301.6h0M150.8 317.9h0M177.1 309.4h0M144.2 298.0h0M155.4 326.2h0M161.0 325.0h0M181.6 296.4h0M132.7 311.3h0M193.4 303.7h0M129.8 315.8h0M181.2 303.3h0M141.2 314.6h0M133.2 329.9h0M189.0 299.5h0M154.7 324.2h0M184.8 306.8h0M150.6 303.9h0M138.1 319.8h0M142.6 317.4h0M163.7 328.4h0M191.5 315.6h0M152.8 324.6h0M157.8 319.3h0M126.5 318.4h0M159.5 324.5h0M151.4 307.6h0M151.2 305.7h0M167.5 323.6h0M181.6 296.5h0M140.1 311.9h0M148.5 330.5h0M162.1 325.9h0M185.1 315.9h0M164.1 317.8h0M131.1 324.2h0M193.0 292.9h0M141.9 307.1h0M171.4 312.1h0M184.1 298.7h0M126.2 325.0h0M175.6 308.9h0M184.5 294.2h0M171.6 321.4h0M166.4 323.6h0M138.2 324.7h0M194.2 288.9h0M191.9 280.4h0M182.2 309.3h0M188.7 301.6h0M127.5 308.0h0M188.8 314.4h0M182.1 299.0h0M179.5 302.7h0M145.0 305.9h0M140.2 304.6h0M129.9 312.7h0M182.1 303.8h0M183.4 301.6h0M131.8 303.0h0M133.0 300.9h0M147.0 308.0h0M138.7 312.7h0M156.4 307.2h0M174.0 306.9h0M181.6 302.3h0M134.8 304.5h0M152.5 300.4h0M128.1 311.2h0M150.2 327.7h0M132.1 317.2h0M129.2 311.7h0M146.0 307.1h0M134.9 307.4h0M131.3 322.6h0M132.6 302.8h0M169.6 330.5h0M131.3 313.8h0M137.7 316.6h0M181.9 302.9h0M150.3 322.9h0M140.4 322.6h0M193.2 293.6h0M193.8 316.5h0M158.5 318.3h0M147.2 300.9h0M178.0 313.3h0M186.4 306.9h0M154.4 317.3h0M183.5 313.4h0M186.9 313.6h0M193.1 298.6h0M129.5 312.5h0M148.6 314.8h0M188.6 286.6h0M190.8 303.9h0M139.0 314.9h0M152.4 332.5h0M178.1 301.1h0M191.3 297.0h0M181.4 310.8h0M154.6 315.5h0M193.0 308.4h0M152.0 325.9h0M154.8 307.6h0M192.6 301.6h0M144.3 320.3h0M125.5 306.7h0M145.0 334.7h0M177.0 312.3h0M165.5 319.5h0M125.5 299.7h0M139.6 308.2h0M186.0 286.0h0M181.9 312.4h0M155.6 308.6h0M143.7 314.9h0M168.4 319.2h0M126.3 315.1h0M156.5 312.2h0M174.3 318.1h0M179.1 297.6h0M143.6 297.0h0M153.6 321.8h0M163.0 330.2h0M162.8 311.2h0M135.5 308.6h0M144.6 317.4h0M158.8 303.9h0M136.6 308.9h0M152.6 301.2h0M124.9 313.1h0M160.0 289.5h0M151.5 300.0h0M188.2 286.1h0M185.7 302.6h0M145.0 313.0h0M131.9 331.6h0M147.2 313.6h0M146.0 304.5h0M125.9 308.2h0M140.3 319.4h0M144.4 317.5h0M187.6 322.0h0M171.2 314.7h0M160.4 307.6h0M134.4 303.0h0M185.6 310.7h0M125.1 286.9h0M190.8 304.2h0M187.2 310.3h0M132.6 308.8h0M126.5 314.8h0M163.7 329.0h0M169.2 328.0h0M158.5 328.4h0M176.3 318.2h0M182.4 303.7h0M128.0 301.8h0M166.4 297.0h0M133.3 329.4h0M191.4 309.9h0M182.3 293.5h0M168.8 324.8h0M151.1 309.8h0M173.6 306.4h0M124.5 301.4h0M170.3 332.7h0M132.8 300.4h0M152.7 303.8h0M152.7 320.7h0M178.3 315.4h0M142.9 318.4h0M148.4 304.0h0M145.7 311.7h0M161.8 308.7h0M129.3 308.3h0M170.3 330.4h0M138.5 316.1h0M167.4 323.2h0M180.8 297.9h0M183.2 300.0h0M135.2 317.5h0M175.5 321.2h0M161.7 315.4h0M126.7 326.7h0M133.6 335.5h0M132.2 296.7h0M143.1 313.8h0M147.0 319.9h0M158.6 314.0h0M162.7 332.6h0M147.1 314.9h0M187.6 305.9h0M175.3 295.4h0M190.4 310.4h0M168.9 311.9h0M159.0 320.2h0M164.1 315.0h0M129.1 306.6h0M159.2 314.5h0M136.6 301.7h0M194.1 296.8h0M186.5 313.4h0M142.1 322.4h0M165.3 308.4h0M174.7 318.2h0M175.6 306.3h0M166.7 310.3h0M159.6 321.6h0M189.3 308.2h0M150.2 307.8h0M125.3 321.3h0M181.4 305.7h0M183.2 324.8h0M126.0 298.9h0M151.6 311.8h0M166.2 314.1h0M139.4 305.7h0M182.6 292.6h0M134.5 324.7h0M163.5 319.9h0M187.7 289.7h0M183.5 299.7h0M133.0 309.7h0M142.2 316.7h0M129.1 303.8h0M148.9 327.4h0M193.7 299.6h0M125.6 326.1h0M148.4 318.8h0M152.3 312.0h0M157.0 314.1h0M144.8 317.5h0M169.8 315.8h0M133.9 315.9h0M176.3 316.8h0M156.9 327.2h0M170.7 304.4h0M175.8 294.9h0M150.3 305.5h0M147.5 325.3h0M180.5 304.9h0M153.7 309.0h0M160.5 320.0h0M167.8 322.7h0M139.4 303.5h0M183.9 295.7h0M129.8 312.8h0M192.1 299.5h0M170.5 307.0h0M139.2 334.8h0M180.2 318.3h0M182.5 304.1h0M155.9 321.7h0M170.2 302.9h0M127.0 321.7h0M158.4 314.4h0M193.3 293.3h0M125.5 300.3h0M151.9 322.1h0M178.1 309.0h0M143.6 308.5h0M126.0 322.4h0M154.0 312.6h0M189.9 304.0h0M182.8 301.0h0M192.4 304.1h0M128.6 302.4h0M140.8 310.1h0M190.6 301.7h0M192.6 292.5h0M157.2 310.6h0M124.5 319.5h0M165.0 313.3h0M187.2 312.8h0M150.3 317.9h0M189.7 301.9h0M124.8 299.1h0M178.5 321.9h0M129.6 326.8h0M188.4 305.2h0M157.9 317.4h0M177.3 309.6h0M126.5 309.3h0M172.3 310.3h0M131.4 317.2h0M155.9 301.7h0M161.3 316.6h0M180.9 310.3h0M153.7 298.7h0M131.5 307.3h0M170.8 299.2h0M126.0 299.7h0M131.7 318.4h0M159.9 305.5h0M158.9 340.4h0M129.1 311.2h0M130.9 305.4h0M179.2 304.5h0M171.0 313.0h0M149.2 316.2h0M184.7 306.9h0M136.1 316.1h0M180.8 316.2h0M131.4 324.1h0M187.5 303.3h0M163.9 320.8h0M149.8 306.7h0M138.3 307.9h0M131.0 309.6h0M150.5 326.3h0M175.5 303.5h0M168.9 316.7h0M157.5 316.9h0M138.7 321.0h0M188.2 296.8h0M141.6 310.2h0M142.0 323.8h0M175.3 312.7h0M165.4 312.7h0M150.4 324.9h0M146.1 315.0h0M191.3 296.2h0M158.9 324.9h0M130.2 329.8h0M146.0 310.4h0M192.4 291.3h0M131.2 291.7h0M164.3 334.8h0M124.5 308.1h0M179.9 304.3h0M151.4 305.2h0M178.1 306.8h0M184.2 295.1h0M167.0 330.7h0M128.3 319.8h0M144.2 309.1h0M154.0 303.9h0M178.9 313.4h0M142.7 306.4h0M136.6 325.8h0M138.2 316.7h0M159.5 316.4h0M178.2 297.4h0M191.9 303.1h0M164.6 305.9h0M183.2 316.2h0M191.0 283.1h0M166.8 313.5h0M190.4 323.5h0M160.3 312.3h0M161.3 324.0h0M161.2 327.0h0M135.3 317.2h0M130.1 312.5h0M175.0 320.4h0M126.3 323.3h0M160.5 312.0h0M194.6 314.2h0M151.1 326.8h0M174.9 301.8h0M151.8 319.8h0M148.3 319.7h0M172.4 314.5h0M181.3 301.2h0M138.6 303.4h0M172.7 317.6h0M146.2 299.9h0M125.4 308.4h0M155.7 298.2h0M173.3 306.1h0M154.9 317.4h0M171.5 300.7h0M173.6 319.5h0M156.4 325.0h0M170.2 318.7h0M150.3 320.8h0M193.7 313.9h0M175.8 317.7h0M124.9 298.2h0M186.3 303.0h0M184.0 297.9h0M186.2 304.7h0M157.9 301.3h0M129.2 314.6h0M175.8 308.4h0M153.1 320.5h0M154.6 307.1h0M137.2 312.1h0M195.1 280.3h0M156.9 315.0h0M138.1 314.1h0M160.7 305.2h0M186.0 304.4h0M172.6 300.4h0M186.6 308.3h0M188.9 295.2h0M189.5 298.5h0M184.8 320.1h0M179.7 312.9h0M164.8 332.4h0M169.8 324.5h0M162.0 316.9h0M149.5 328.9h0M180.3 310.0h0M129.8 314.0h0M187.2 299.9h0M127.1 303.0h0M153.3 320.6h0M157.2 314.6h0M179.0 312.7h0M171.4 313.1h0M144.2 320.5h0M187.6 298.5h0M188.8 305.5h0M156.8 326.2h0M169.0 328.0h0M191.8 301.9h0M165.0 310.6h0M185.9 318.7h0M126.5 325.9h0M131.8 309.0h0M187.9 316.3h0M155.1 321.9h0M159.1 309.8h0M155.5 318.5h0M144.9 304.5h0M157.5 314.4h0M193.3 298.1h0M194.6 300.4h0M133.1 325.5h0M162.9 305.9h0M160.4 290.5h0M134.2 321.7h0M142.2 313.1h0M144.7 324.3h0M136.0 323.3h0M180.4 323.8h0M186.0 287.4h0M169.7 330.5h0M194.4 300.7h0M193.8 296.9h0M140.3 330.1h0M168.6 328.5h0M142.9 303.2h0M164.2 313.9h0M157.6 331.1h0M164.5 306.9h0M192.5 305.7h0M184.7 311.2h0M146.9 314.3h0M126.9 310.4h0M171.2 322.8h0M152.3 314.6h0M168.9 308.1h0M153.9 322.8h0M134.5 301.8h0M136.7 311.5h0M144.8 320.0h0M180.1 295.8h0M147.0 329.4h0M195.0 304.1h0M180.0 308.2h0M188.7 294.7h0M157.7 319.6h0M157.7 314.7h0M126.6 318.4h0M168.2 312.2h0M187.6 307.2h0M130.7 301.3h0M160.7 304.2h0M183.5 299.3h0M182.2 288.5h0M174.4 309.6h0M152.2 315.9h0M142.4 299.1h0M142.4 312.7h0M131.8 307.8h0M172.2 306.6h0M151.4 326.2h0M177.3 305.6h0M187.7 302.7h0M124.9 307.6h0M145.2 309.4h0M166.5 315.8h0M160.8 317.2h0M170.3 312.0h0M189.9 311.4h0M138.9 311.8h0M160.3 316.1h0M130.2 329.5h0M157.3 318.3h0M155.5 323.5h0M125.1 319.8h0M145.2 310.9h0M183.1 317.8h0M161.1 319.9h0M156.0 317.6h0M157.1 317.4h0M179.2 311.8h0M130.7 321.7h0M162.6 298.5h0M129.0 326.4h0M180.7 288.5h0M152.3 303.8h0M142.3 320.3h0M150.5 313.0h0M171.3 320.1h0M186.3 293.1h0M179.3 308.3h0M194.4 305.0h0M144.0 306.8h0M137.6 307.6h0M164.4 319.5h0M132.0 318.5h0M136.9 291.3h0M170.0 311.5h0M186.3 306.7h0M176.0 323.7h0M127.1 303.1h0M192.7 301.6h0M181.1 296.8h0M167.6 307.6h0M168.7 309.8h0M149.6 329.6h0M145.0 319.5h0M175.5 319.7h0M134.1 313.1h0M184.2 315.4h0M162.3 318.2h0M168.8 322.6h0M171.4 300.5h0M188.7 295.0h0M124.9 320.1h0M161.4 337.9h0M130.6 331.9h0M132.4 305.0h0M193.3 299.0h0M125.5 311.5h0M130.4 338.0h0M185.0 298.3h0M168.1 318.6h0M130.4 325.3h0M191.6 308.1h0M161.8 306.2h0M193.5 319.2h0M129.8 294.5h0M171.7 316.1h0M131.9 310.2h0M134.4 301.0h0M141.7 311.0h0M148.2 310.7h0M147.8 303.6h0M143.3 309.3h0M138.2 312.2h0M135.4 315.5h0M153.0 294.7h0M145.6 309.1h0M128.8 314.0h0M131.3 323.1h0M158.5 327.0h0M141.6 297.7h0M132.7 308.1h0M182.8 308.1h0M139.9 321.2h0M181.8 322.4h0M145.7 311.4h0M127.6 301.8h0M155.2 316.1h0M143.1 316.7h0M126.4 307.4h0M127.1 304.9h0M139.1 320.0h0M180.1 295.1h0M148.3 309.0h0M171.5 316.3h0M146.2 315.8h0M141.4 314.9h0M187.6 294.4h0M192.6 267.3h0M142.8 305.9h0M180.4 313.0h0M146.5 322.4h0M145.5 328.6h0M174.0 316.6h0M168.1 329.1h0M166.7 316.6h0M181.5 310.5h0M188.8 296.1h0M159.6 311.8h0M189.6 313.4h0M183.5 313.7h0M159.5 301.4h0M154.7 328.0h0M182.7 298.9h0M180.8 300.5h0M133.6 323.7h0M124.8 318.1h0M148.3 319.5h0M150.6 328.1h0M127.1 322.9h0M180.6 283.2h0M190.3 304.7h0M163.0 324.6h0M149.0 314.5h0M134.5 311.7h0M128.8 316.1h0M158.6 319.0h0M125.1 313.0h0M165.3 317.0h0M125.0 303.4h0M183.2 306.7h0M145.7 307.7h0M159.5 324.5h0M177.9 303.9h0M186.6 300.0h0M128.3 301.3h0M134.3 311.3h0M181.1 311.7h0M144.9 316.6h0M187.6 305.6h0M139.7 321.7h0M127.8 319.8h0M157.8 323.0h0M187.3 296.6h0M181.3 311.7h0M158.9 308.8h0M182.7 315.9h0M177.0 330.7h0M166.3 325.1h0M156.2 309.7h0M193.0 303.7h0M175.3 326.5h0M137.4 310.6h0M154.4 313.3h0M181.1 288.8h0M150.8 343.1h0M162.2 335.6h0M160.0 334.7h0M149.0 339.5h0M166.7 334.2h0M164.9 337.5h0M168.9 341.7h0M161.0 335.2h0M158.7 338.7h0M142.1 334.8h0M158.6 343.9h0M165.3 335.6h0M163.5 330.1h0M166.0 341.9h0M165.2 336.5h0M160.5 334.4h0M166.0 338.5h0M167.9 335.1h0M171.6 333.6h0M167.5 337.0h0M151.7 334.3h0M159.3 338.8h0M157.2 342.2h0M158.8 340.4h0M158.8 326.2h0M157.2 338.0h0M163.0 334.0h0M155.2 339.4h0M165.9 337.7h0M157.6 336.3h0M163.9 332.3h0M171.2 338.1h0M156.0 335.6h0M155.3 332.8h0M162.7 341.8h0M156.2 339.7h0M168.1 330.5h0M155.8 337.0h0M152.0 339.0h0M148.9 332.5h0M163.3 335.6h0M160.2 337.5h0M163.2 336.4h0M156.5 344.5h0M167.1 339.2h0M163.5 334.8h0M163.1 332.4h0M157.6 338.3h0M165.6 340.9h0M166.4 337.7h0M160.2 340.2h0M157.3 335.9h0M150.6 333.9h0M160.9 339.5h0M162.3 326.9h0M146.3 339.0h0M166.3 337.8h0M160.1 330.4h0M162.8 334.5h0M159.6 342.3h0M162.0 335.6h0M153.6 335.3h0M163.4 339.3h0M169.0 337.5h0M160.1 336.8h0M166.4 342.2h0M166.5 345.2h0M159.8 333.3h0M163.1 338.4h0M166.2 334.8h0M168.5 339.1h0M160.4 337.6h0M160.3 342.4h0M163.5 334.3h0M168.0 333.2h0M152.0 337.8h0M158.9 334.4h0M157.5 340.1h0M158.1 342.4h0M159.5 334.0h0M169.5 340.1h0M158.7 339.8h0M154.0 338.5h0M159.9 344.7h0M168.1 331.0h0M160.8 335.1h0M158.6 342.3h0M160.9 337.5h0M156.2 342.9h0M158.7 335.7h0M158.4 336.5h0M155.1 331.3h0M160.8 325.1h0M170.1 332.6h0M161.9 337.4h0M164.9 338.4h0M157.2 336.2h0M161.6 335.4h0M173.5 330.4h0M161.5 345.0h0M161.2 338.8h0M160.3 339.9h0M171.8 337.7h0M160.5 333.8h0M155.5 344.9h0M157.0 340.1h0M154.0 336.1h0M161.0 337.2h0M162.1 332.3h0M163.3 337.6h0M159.2 339.2h0M168.6 330.2h0M147.5 336.2h0M150.3 335.6h0M166.0 338.6h0M157.3 333.8h0M167.4 337.7h0M157.4 340.5h0M161.4 338.7h0M155.2 340.2h0M166.0 335.6h0M150.8 339.7h0M152.0 345.1h0M171.0 337.3h0M171.0 341.4h0M156.2 337.6h0M152.6 342.2h0M160.9 339.8h0M150.8 330.3h0M161.2 334.9h0M152.7 337.4h0M170.0 345.0h0M144.9 333.3h0M164.2 334.3h0M154.1 337.6h0M160.0 335.2h0M153.9 329.0h0M163.7 344.5h0M174.0 330.5h0M161.3 336.3h0M149.2 341.2h0M164.9 335.6h0M150.0 344.4h0M158.9 336.6h0M155.5 337.9h0M164.0 334.5h0M158.5 338.2h0M158.9 336.1h0M151.0 338.2h0M156.0 333.4h0M161.8 332.1h0M158.7 337.7h0M152.5 335.6h0M156.5 338.1h0M169.7 342.7h0M164.7 341.2h0M153.9 337.9h0M156.0 336.0h0M162.0 336.9h0M149.9 336.1h0M162.1 337.0h0M159.9 331.8h0M154.4 338.1h0M157.6 339.9h0M157.8 338.9h0M165.0 335.9h0M171.4 339.1h0M170.9 333.2h0M156.0 337.5h0M153.7 334.8h0M160.1 338.3h0M172.1 334.1h0M157.6 339.6h0M175.1 331.3h0M161.7 332.3h0M163.0 341.0h0M164.1 341.6h0M157.6 342.1h0M173.3 336.3h0M161.9 336.0h0M155.9 337.6h0M156.3 331.8h0M160.4 331.4h0M156.8 335.2h0M164.6 336.3h0M153.0 339.3h0M161.2 331.4h0M162.9 336.1h0M157.0 334.2h0M160.4 334.6h0M150.5 338.5h0M156.2 341.4h0M159.1 337.3h0M159.7 342.8h0M155.0 342.2h0M161.8 339.3h0M169.7 335.3h0M153.3 334.1h0M161.4 332.9h0M150.0 342.7h0M182.1 279.4h0M124.7 289.2h0M159.9 284.7h0M169.4 282.3h0M168.4 288.2h0M154.1 287.1h0M141.4 286.0h0M177.2 290.1h0M179.8 288.1h0M144.4 284.7h0M126.8 286.4h0M170.5 290.6h0M188.4 276.5h0M142.7 287.3h0M145.5 285.2h0M167.8 292.2h0M148.0 287.3h0M174.8 282.4h0M175.7 292.8h0M139.3 279.3h0M133.3 283.9h0M175.9 283.7h0M165.9 289.3h0M127.8 288.5h0M136.6 280.4h0M157.2 287.9h0M170.7 288.9h0M164.1 285.6h0M144.1 284.8h0M184.1 289.8h0M135.5 283.1h0M125.9 290.8h0M155.0 288.9h0M132.1 286.4h0M148.9 285.7h0M135.4 289.1h0M168.8 286.2h0M158.8 288.5h0M163.0 293.6h0M161.5 287.6h0M147.8 291.7h0M168.5 292.2h0M145.9 290.5h0M173.7 291.6h0M194.4 289.2h0M138.0 286.1h0M184.2 276.8h0M163.9 294.0h0M145.1 282.3h0M132.0 295.5h0M128.2 288.1h0M193.3 270.3h0M149.0 290.9h0M171.8 287.7h0M163.8 288.5h0M194.3 278.0h0M150.9 287.2h0M147.8 286.3h0M167.8 293.5h0M190.5 288.1h0M178.5 282.5h0M135.8 289.4h0M162.2 291.7h0M157.8 292.4h0M148.8 282.2h0M133.7 283.8h0M159.9 293.1h0M147.2 296.4h0M153.5 288.4h0M179.7 278.2h0M144.7 284.7h0M158.5 293.1h0M179.6 282.0h0M148.2 296.9h0M152.3 286.5h0M188.1 278.0h0M151.9 280.7h0M164.1 293.2h0M178.2 282.7h0M191.9 279.9h0M127.6 289.9h0M146.9 290.8h0M186.5 285.7h0M161.7 288.2h0M132.2 286.9h0M134.2 286.8h0M134.7 282.8h0M151.3 292.1h0M146.4 284.2h0M154.2 292.4h0M153.3 295.8h0M158.4 285.6h0M137.3 284.2h0M172.2 280.9h0M170.1 292.9h0M146.6 286.7h0M143.0 295.2h0M156.7 283.4h0M182.9 283.7h0M126.3 281.4h0M143.4 291.8h0M160.3 291.4h0M184.9 284.5h0M188.1 280.5h0M132.2 288.4h0M138.2 286.4h0M164.5 295.2h0M188.6 280.5h0M162.9 287.8h0M154.5 284.3h0M149.8 287.3h0M183.5 284.5h0M141.6 287.4h0M149.4 288.1h0M183.3 279.0h0M174.8 288.6h0M136.5 289.9h0M148.1 288.5h0M172.1 295.3h0M128.5 285.4h0M154.2 299.2h0M169.4 283.5h0M166.3 276.1h0M185.3 272.0h0M182.5 293.1h0M138.4 289.2h0M176.5 283.1h0M176.2 279.4h0M142.0 285.6h0M137.7 287.8h0M150.2 298.0h0M161.1 296.5h0M137.9 283.3h0M145.3 286.4h0M158.2 298.6h0M126.0 283.6h0M134.8 282.7h0M170.4 290.1h0M175.2 285.1h0M135.0 287.7h0M179.1 279.2h0M190.0 276.3h0M189.3 283.7h0M153.8 287.9h0M134.7 284.7h0M154.0 285.8h0M136.5 292.9h0M162.9 287.3h0M162.4 294.7h0M147.9 285.8h0M188.5 280.7h0M166.0 292.4h0M181.7 284.7h0M125.0 281.5h0M127.5 288.7h0M178.8 281.3h0M134.0 291.9h0M177.7 291.7h0M153.6 295.7h0M188.4 280.1h0M166.2 285.2h0M179.0 288.1h0M187.3 279.7h0M192.0 275.8h0M137.0 286.4h0M132.2 285.9h0M156.4 289.8h0M144.1 292.8h0M131.0 284.5h0M167.1 289.7h0M141.9 291.6h0M159.9 287.1h0M136.9 297.1h0M145.5 287.9h0M185.1 289.7h0M181.0 279.1h0M153.3 283.9h0M138.1 289.7h0M130.6 280.1h0M189.4 274.7h0M141.1 289.2h0M165.4 294.6h0M150.7 290.0h0M145.5 295.8h0M136.9 283.3h0M193.6 275.1h0M171.6 286.7h0M159.5 288.3h0M160.7 287.1h0M138.2 291.6h0M125.5 291.4h0M161.4 285.9h0M140.4 290.6h0M144.7 286.6h0M159.1 285.0h0M141.9 293.8h0M167.1 284.3h0M150.4 287.5h0M189.1 280.6h0M182.0 289.0h0M193.8 278.0h0M148.2 285.0h0M140.9 288.4h0M164.9 293.0h0M180.1 285.0h0M149.9 287.7h0M129.2 282.2h0M128.6 288.5h0M172.1 282.3h0M138.9 290.8h0M185.4 281.1h0M177.2 287.2h0M189.3 277.0h0M135.0 285.2h0M188.0 282.7h0M164.4 292.4h0M189.8 271.6h0M149.5 292.2h0M164.5 294.9h0M143.4 289.3h0M192.7 286.8h0M194.9 252.6h0M194.2 255.6h0M194.0 257.0h0M194.0 261.2h0M194.8 257.9h0M193.2 256.1h0M192.1 269.0h0M192.9 262.8h0M193.2 258.6h0M195.3 250.2h0M191.0 265.8h0M193.9 249.6h0M195.8 276.1h0M195.2 267.5h0M194.1 284.3h0M194.7 252.1h0M194.4 279.7h0M194.1 250.2h0M193.2 285.3h0M192.7 256.6h0M192.5 263.1h0M195.2 263.6h0M192.2 282.0h0M193.1 252.7h0M192.1 280.5h0M195.1 273.9h0M194.2 263.1h0M193.3 275.0h0M192.3 269.1h0M194.4 272.8h0M194.5 267.3h0M194.0 268.1h0M194.5 256.4h0M194.0 256.6h0M194.2 257.1h0M192.8 255.1h0M193.1 274.0h0M193.1 281.6h0M194.1 262.4h0M192.4 248.6h0M195.1 262.9h0M193.9 267.0h0M194.4 263.7h0M194.5 273.3h0M193.8 273.4h0M192.6 274.5h0M194.5 262.3h0M194.0 290.3h0M195.0 265.2h0M191.2 270.2h0M193.5 265.1h0M194.3 274.4h0M194.3 265.7h0M194.6 258.3h0M194.3 272.8h0M195.1 275.4h0M194.7 269.1h0M194.8 281.3h0M192.2 271.9h0M195.3 226.1h0M195.3 228.2h0M195.3 236.5h0M195.3 239.0h0M194.3 245.5h0M195.0 249.4h0M193.8 262.9h0M188.0 230.0h0M183.4 259.8h0M184.5 260.3h0M162.7 253.3h0M159.0 264.4h0M131.0 236.0h0M126.4 260.3h0M135.0 266.2h0M138.3 272.7h0M168.7 274.0h0M174.6 270.1h0" stroke="#fa0a0a" stroke-width="1.4" stroke-linecap="square" fill="none"/>
<rect x="24.50" y="16.40" width="75.90" height="166.00" fill="none" stroke="#111" stroke-width="1.15"/>
<line x1="21.90" y1="174.30" x2="24.50" y2="174.30" stroke="#111" stroke-width="1.0"/>
<text transform="translate(18.90 174.30) rotate(-90)" font-size="6.7" text-anchor="middle" fill="#111" stroke="#111" stroke-width="0.2">0</text>
<line x1="21.90" y1="150.93" x2="24.50" y2="150.93" stroke="#111" stroke-width="1.0"/>
<text transform="translate(18.90 150.93) rotate(-90)" font-size="6.7" text-anchor="middle" fill="#111" stroke="#111" stroke-width="0.2">10</text>
<line x1="21.90" y1="127.56" x2="24.50" y2="127.56" stroke="#111" stroke-width="1.0"/>
<text transform="translate(18.90 127.56) rotate(-90)" font-size="6.7" text-anchor="middle" fill="#111" stroke="#111" stroke-width="0.2">20</text>
<line x1="21.90" y1="104.19" x2="24.50" y2="104.19" stroke="#111" stroke-width="1.0"/>
<text transform="translate(18.90 104.19) rotate(-90)" font-size="6.7" text-anchor="middle" fill="#111" stroke="#111" stroke-width="0.2">30</text>
<line x1="21.90" y1="80.82" x2="24.50" y2="80.82" stroke="#111" stroke-width="1.0"/>
<text transform="translate(18.90 80.82) rotate(-90)" font-size="6.7" text-anchor="middle" fill="#111" stroke="#111" stroke-width="0.2">40</text>
<line x1="21.90" y1="57.45" x2="24.50" y2="57.45" stroke="#111" stroke-width="1.0"/>
<text transform="translate(18.90 57.45) rotate(-90)" font-size="6.7" text-anchor="middle" fill="#111" stroke="#111" stroke-width="0.2">50</text>
<line x1="21.90" y1="34.08" x2="24.50" y2="34.08" stroke="#111" stroke-width="1.0"/>
<text transform="translate(18.90 34.08) rotate(-90)" font-size="6.7" text-anchor="middle" fill="#111" stroke="#111" stroke-width="0.2">60</text>
<line x1="27.20" y1="182.40" x2="27.20" y2="185.00" stroke="#111" stroke-width="1.0"/>
<line x1="41.00" y1="182.40" x2="41.00" y2="185.00" stroke="#111" stroke-width="1.0"/>
<line x1="54.80" y1="182.40" x2="54.80" y2="185.00" stroke="#111" stroke-width="1.0"/>
<line x1="68.60" y1="182.40" x2="68.60" y2="185.00" stroke="#111" stroke-width="1.0"/>
<line x1="82.00" y1="182.40" x2="82.00" y2="185.00" stroke="#111" stroke-width="1.0"/>
<line x1="96.20" y1="182.40" x2="96.20" y2="185.00" stroke="#111" stroke-width="1.0"/>
<text x="27.50" y="191.30" font-size="6.9" text-anchor="middle" fill="#111" stroke="#111" stroke-width="0.3">0</text>
<text x="42.00" y="191.30" font-size="6.9" text-anchor="middle" fill="#111" stroke="#111" stroke-width="0.3">500</text>
<text x="67.60" y="191.30" font-size="6.9" text-anchor="middle" fill="#111" stroke="#111" stroke-width="0.3">1500</text>
<text x="93.60" y="191.30" font-size="6.9" text-anchor="middle" fill="#111" stroke="#111" stroke-width="0.3">2500</text>
<text x="29.30" y="37.30" font-size="11" fill="#000" textLength="38.3" lengthAdjust="spacingAndGlyphs">GC-MS</text>
<text x="61.20" y="200.00" font-size="7.2" text-anchor="middle" fill="#111">Non-transformed data</text>
<rect x="123.20" y="15.60" width="76.00" height="166.60" fill="none" stroke="#111" stroke-width="1.15"/>
<line x1="120.60" y1="156.30" x2="123.20" y2="156.30" stroke="#111" stroke-width="1.0"/>
<text transform="translate(119.20 156.30) rotate(-90)" font-size="6.7" text-anchor="middle" fill="#111" stroke="#111" stroke-width="0.2">0</text>
<line x1="120.60" y1="122.70" x2="123.20" y2="122.70" stroke="#111" stroke-width="1.0"/>
<text transform="translate(119.20 122.70) rotate(-90)" font-size="6.7" text-anchor="middle" fill="#111" stroke="#111" stroke-width="0.2">0.5</text>
<line x1="120.60" y1="89.10" x2="123.20" y2="89.10" stroke="#111" stroke-width="1.0"/>
<text transform="translate(119.20 89.10) rotate(-90)" font-size="6.7" text-anchor="middle" fill="#111" stroke="#111" stroke-width="0.2">1.0</text>
<line x1="120.60" y1="55.50" x2="123.20" y2="55.50" stroke="#111" stroke-width="1.0"/>
<text transform="translate(119.20 55.50) rotate(-90)" font-size="6.7" text-anchor="middle" fill="#111" stroke="#111" stroke-width="0.2">1.5</text>
<line x1="120.60" y1="21.90" x2="123.20" y2="21.90" stroke="#111" stroke-width="1.0"/>
<text transform="translate(119.20 21.90) rotate(-90)" font-size="6.7" text-anchor="middle" fill="#111" stroke="#111" stroke-width="0.2">2.0</text>
<line x1="125.50" y1="182.20" x2="125.50" y2="184.80" stroke="#111" stroke-width="1.0"/>
<line x1="139.40" y1="182.20" x2="139.40" y2="184.80" stroke="#111" stroke-width="1.0"/>
<line x1="153.10" y1="182.20" x2="153.10" y2="184.80" stroke="#111" stroke-width="1.0"/>
<line x1="166.90" y1="182.20" x2="166.90" y2="184.80" stroke="#111" stroke-width="1.0"/>
<line x1="180.40" y1="182.20" x2="180.40" y2="184.80" stroke="#111" stroke-width="1.0"/>
<line x1="194.50" y1="182.20" x2="194.50" y2="184.80" stroke="#111" stroke-width="1.0"/>
<text x="125.70" y="191.30" font-size="6.9" text-anchor="middle" fill="#111" stroke="#111" stroke-width="0.3">0</text>
<text x="138.30" y="191.30" font-size="6.9" text-anchor="middle" fill="#111" stroke="#111" stroke-width="0.3">500</text>
<text x="166.10" y="191.30" font-size="6.9" text-anchor="middle" fill="#111" stroke="#111" stroke-width="0.3">1500</text>
<text x="192.10" y="191.30" font-size="6.9" text-anchor="middle" fill="#111" stroke="#111" stroke-width="0.3">2500</text>
<text x="127.60" y="37.30" font-size="11" fill="#000" textLength="39.0" lengthAdjust="spacingAndGlyphs">GC-MS</text>
<text x="160.10" y="200.00" font-size="7.2" text-anchor="middle" fill="#111">gLog-transformed data</text>
<rect x="23.60" y="208.80" width="75.80" height="165.90" fill="none" stroke="#111" stroke-width="1.15"/>
<line x1="21.00" y1="368.00" x2="23.60" y2="368.00" stroke="#111" stroke-width="1.0"/>
<text transform="translate(18.60 368.00) rotate(-90)" font-size="6.7" text-anchor="middle" fill="#111" stroke="#111" stroke-width="0.2">0</text>
<line x1="21.00" y1="317.07" x2="23.60" y2="317.07" stroke="#111" stroke-width="1.0"/>
<text transform="translate(18.60 317.07) rotate(-90)" font-size="6.7" text-anchor="middle" fill="#111" stroke="#111" stroke-width="0.2">50</text>
<line x1="21.00" y1="266.14" x2="23.60" y2="266.14" stroke="#111" stroke-width="1.0"/>
<text transform="translate(18.60 266.14) rotate(-90)" font-size="6.7" text-anchor="middle" fill="#111" stroke="#111" stroke-width="0.2">100</text>
<line x1="21.00" y1="215.21" x2="23.60" y2="215.21" stroke="#111" stroke-width="1.0"/>
<text transform="translate(18.60 215.21) rotate(-90)" font-size="6.7" text-anchor="middle" fill="#111" stroke="#111" stroke-width="0.2">150</text>
<line x1="26.30" y1="374.70" x2="26.30" y2="377.30" stroke="#111" stroke-width="1.0"/>
<line x1="39.70" y1="374.70" x2="39.70" y2="377.30" stroke="#111" stroke-width="1.0"/>
<line x1="53.10" y1="374.70" x2="53.10" y2="377.30" stroke="#111" stroke-width="1.0"/>
<line x1="66.60" y1="374.70" x2="66.60" y2="377.30" stroke="#111" stroke-width="1.0"/>
<line x1="79.80" y1="374.70" x2="79.80" y2="377.30" stroke="#111" stroke-width="1.0"/>
<line x1="93.30" y1="374.70" x2="93.30" y2="377.30" stroke="#111" stroke-width="1.0"/>
<text x="26.60" y="383.90" font-size="6.9" text-anchor="middle" fill="#111" stroke="#111" stroke-width="0.3">0</text>
<text x="40.40" y="383.90" font-size="6.9" text-anchor="middle" fill="#111" stroke="#111" stroke-width="0.3">500</text>
<text x="66.50" y="383.90" font-size="6.9" text-anchor="middle" fill="#111" stroke="#111" stroke-width="0.3">1500</text>
<text x="92.30" y="383.90" font-size="6.9" text-anchor="middle" fill="#111" stroke="#111" stroke-width="0.3">2500</text>
<text x="27.90" y="233.40" font-size="11" fill="#000" textLength="35.6" lengthAdjust="spacingAndGlyphs">LC-MS</text>
<text x="61.20" y="392.40" font-size="7.2" text-anchor="middle" fill="#111">Non-transformed data</text>
<rect x="122.40" y="208.30" width="75.90" height="166.30" fill="none" stroke="#111" stroke-width="1.15"/>
<line x1="119.80" y1="348.50" x2="122.40" y2="348.50" stroke="#111" stroke-width="1.0"/>
<text transform="translate(118.40 348.50) rotate(-90)" font-size="6.7" text-anchor="middle" fill="#111" stroke="#111" stroke-width="0.2">0</text>
<line x1="119.80" y1="315.00" x2="122.40" y2="315.00" stroke="#111" stroke-width="1.0"/>
<text transform="translate(118.40 315.00) rotate(-90)" font-size="6.7" text-anchor="middle" fill="#111" stroke="#111" stroke-width="0.2">0.5</text>
<line x1="119.80" y1="281.50" x2="122.40" y2="281.50" stroke="#111" stroke-width="1.0"/>
<text transform="translate(118.40 281.50) rotate(-90)" font-size="6.7" text-anchor="middle" fill="#111" stroke="#111" stroke-width="0.2">1.0</text>
<line x1="119.80" y1="248.00" x2="122.40" y2="248.00" stroke="#111" stroke-width="1.0"/>
<text transform="translate(118.40 248.00) rotate(-90)" font-size="6.7" text-anchor="middle" fill="#111" stroke="#111" stroke-width="0.2">1.5</text>
<line x1="119.80" y1="214.50" x2="122.40" y2="214.50" stroke="#111" stroke-width="1.0"/>
<text transform="translate(118.40 214.50) rotate(-90)" font-size="6.7" text-anchor="middle" fill="#111" stroke="#111" stroke-width="0.2">2.0</text>
<line x1="124.80" y1="374.60" x2="124.80" y2="377.20" stroke="#111" stroke-width="1.0"/>
<line x1="138.40" y1="374.60" x2="138.40" y2="377.20" stroke="#111" stroke-width="1.0"/>
<line x1="151.90" y1="374.60" x2="151.90" y2="377.20" stroke="#111" stroke-width="1.0"/>
<line x1="165.30" y1="374.60" x2="165.30" y2="377.20" stroke="#111" stroke-width="1.0"/>
<line x1="178.40" y1="374.60" x2="178.40" y2="377.20" stroke="#111" stroke-width="1.0"/>
<line x1="191.60" y1="374.60" x2="191.60" y2="377.20" stroke="#111" stroke-width="1.0"/>
<text x="124.60" y="383.90" font-size="6.9" text-anchor="middle" fill="#111" stroke="#111" stroke-width="0.3">0</text>
<text x="136.60" y="383.90" font-size="6.9" text-anchor="middle" fill="#111" stroke="#111" stroke-width="0.3">500</text>
<text x="164.60" y="383.90" font-size="6.9" text-anchor="middle" fill="#111" stroke="#111" stroke-width="0.3">1500</text>
<text x="190.60" y="383.90" font-size="6.9" text-anchor="middle" fill="#111" stroke="#111" stroke-width="0.3">2500</text>
<text x="126.90" y="233.50" font-size="11" fill="#000" textLength="35.6" lengthAdjust="spacingAndGlyphs">LC-MS</text>
<text x="159.60" y="392.40" font-size="7.2" text-anchor="middle" fill="#111">gLog-transformed data</text>
<text transform="translate(7.50 104.30) rotate(-90)" font-size="8.7" text-anchor="middle" fill="#111">Standard deviation of signal intensity</text>
<text transform="translate(7.50 293.20) rotate(-90)" font-size="8.7" text-anchor="middle" fill="#111">Standard deviation of signal intensity</text>
<text x="109.00" y="401.80" font-size="8.65" font-weight="bold" text-anchor="middle" fill="#000">The rank of mean value of singal intensity</text>
<line x1="279.20" y1="18.50" x2="279.20" y2="183.00" stroke="#cbcbcb" stroke-width="1.6" stroke-dasharray="1.8 3.0"/>
<line x1="327.90" y1="18.50" x2="327.90" y2="183.00" stroke="#cbcbcb" stroke-width="1.6" stroke-dasharray="1.8 3.0"/>
<line x1="377.00" y1="18.50" x2="377.00" y2="183.00" stroke="#cbcbcb" stroke-width="1.6" stroke-dasharray="1.8 3.0"/>
<line x1="242.20" y1="166.30" x2="406.60" y2="166.30" stroke="#cbcbcb" stroke-width="1.6" stroke-dasharray="1.8 3.0"/>
<line x1="242.20" y1="125.20" x2="406.60" y2="125.20" stroke="#cbcbcb" stroke-width="1.6" stroke-dasharray="1.8 3.0"/>
<line x1="242.20" y1="84.10" x2="406.60" y2="84.10" stroke="#cbcbcb" stroke-width="1.6" stroke-dasharray="1.8 3.0"/>
<line x1="242.20" y1="43.00" x2="406.60" y2="43.00" stroke="#cbcbcb" stroke-width="1.6" stroke-dasharray="1.8 3.0"/>
<path d="M294.1 51.9h3.8v3.8h-3.8zM274.2 59.2h3.8v3.8h-3.8zM289.9 62.6h3.8v3.8h-3.8zM292.5 65.2h3.8v3.8h-3.8zM300.6 77.2h3.8v3.8h-3.8zM265.7 89.9h3.8v3.8h-3.8zM292.2 90.8h3.8v3.8h-3.8zM295.6 93.1h3.8v3.8h-3.8zM290.4 94.8h3.8v3.8h-3.8zM277.8 96.2h3.8v3.8h-3.8zM302.9 96.9h3.8v3.8h-3.8zM276.4 102.4h3.8v3.8h-3.8zM305.3 102.1h3.8v3.8h-3.8zM301.1 104.6h3.8v3.8h-3.8zM270.4 106.9h3.8v3.8h-3.8zM304.9 103.1h3.8v3.8h-3.8zM293.4 110.4h3.8v3.8h-3.8zM293.7 114.3h3.8v3.8h-3.8zM298.9 113.1h3.8v3.8h-3.8zM280.8 116.6h3.8v3.8h-3.8zM286.8 116.1h3.8v3.8h-3.8zM289.4 115.5h3.8v3.8h-3.8zM303.6 118.3h3.8v3.8h-3.8zM311.5 118.7h3.8v3.8h-3.8zM277.0 121.8h3.8v3.8h-3.8zM281.6 121.2h3.8v3.8h-3.8zM284.6 122.5h3.8v3.8h-3.8zM283.3 124.7h3.8v3.8h-3.8zM287.7 124.7h3.8v3.8h-3.8zM294.6 125.6h3.8v3.8h-3.8zM298.4 124.7h3.8v3.8h-3.8zM301.8 122.5h3.8v3.8h-3.8zM302.4 126.4h3.8v3.8h-3.8zM306.7 125.9h3.8v3.8h-3.8zM312.7 125.9h3.8v3.8h-3.8zM284.6 129.0h3.8v3.8h-3.8zM290.3 129.9h3.8v3.8h-3.8zM297.7 130.8h3.8v3.8h-3.8zM279.9 133.9h3.8v3.8h-3.8zM285.1 132.5h3.8v3.8h-3.8zM287.7 134.2h3.8v3.8h-3.8zM292.0 134.2h3.8v3.8h-3.8zM297.2 135.1h3.8v3.8h-3.8zM305.8 135.1h3.8v3.8h-3.8zM310.1 133.3h3.8v3.8h-3.8zM285.9 136.8h3.8v3.8h-3.8zM289.7 138.5h3.8v3.8h-3.8zM293.7 137.7h3.8v3.8h-3.8zM278.1 139.4h3.8v3.8h-3.8zM307.5 139.1h3.8v3.8h-3.8zM279.9 143.7h3.8v3.8h-3.8zM286.8 143.2h3.8v3.8h-3.8zM298.9 140.3h3.8v3.8h-3.8zM298.4 144.2h3.8v3.8h-3.8zM300.6 144.9h3.8v3.8h-3.8zM280.8 144.6h3.8v3.8h-3.8zM285.1 148.4h3.8v3.8h-3.8zM291.1 148.0h3.8v3.8h-3.8zM303.2 146.0h3.8v3.8h-3.8zM307.0 147.2h3.8v3.8h-3.8zM306.7 151.8h3.8v3.8h-3.8zM295.4 154.1h3.8v3.8h-3.8zM298.4 158.8h3.8v3.8h-3.8z" fill="#a39b5c"/>
<path d="M354.7 46.4h3.8v3.8h-3.8zM353.9 51.6h3.8v3.8h-3.8zM331.4 76.1h3.8v3.8h-3.8zM343.2 76.1h3.8v3.8h-3.8zM352.7 85.1h3.8v3.8h-3.8zM358.7 88.6h3.8v3.8h-3.8zM363.4 89.3h3.8v3.8h-3.8zM358.2 91.7h3.8v3.8h-3.8zM369.1 94.3h3.8v3.8h-3.8zM346.1 98.9h3.8v3.8h-3.8zM353.5 98.6h3.8v3.8h-3.8zM347.8 101.7h3.8v3.8h-3.8zM352.7 100.3h3.8v3.8h-3.8zM365.6 100.0h3.8v3.8h-3.8zM365.1 102.1h3.8v3.8h-3.8zM370.8 102.9h3.8v3.8h-3.8zM328.1 104.6h3.8v3.8h-3.8zM341.4 105.0h3.8v3.8h-3.8zM344.4 105.2h3.8v3.8h-3.8zM359.6 105.5h3.8v3.8h-3.8zM378.9 104.1h3.8v3.8h-3.8zM353.5 107.6h3.8v3.8h-3.8zM347.8 113.1h3.8v3.8h-3.8zM356.5 111.7h3.8v3.8h-3.8zM358.7 113.8h3.8v3.8h-3.8zM364.4 112.1h3.8v3.8h-3.8zM364.8 115.5h3.8v3.8h-3.8zM369.9 116.1h3.8v3.8h-3.8zM374.3 114.9h3.8v3.8h-3.8zM371.7 119.5h3.8v3.8h-3.8zM329.9 123.0h3.8v3.8h-3.8zM339.7 121.2h3.8v3.8h-3.8zM341.4 125.2h3.8v3.8h-3.8zM349.2 119.5h3.8v3.8h-3.8zM351.8 120.4h3.8v3.8h-3.8zM350.9 123.8h3.8v3.8h-3.8zM355.3 124.7h3.8v3.8h-3.8zM363.0 125.6h3.8v3.8h-3.8zM369.6 124.7h3.8v3.8h-3.8zM345.8 129.0h3.8v3.8h-3.8zM349.2 130.8h3.8v3.8h-3.8zM350.1 133.3h3.8v3.8h-3.8zM362.2 129.0h3.8v3.8h-3.8zM359.6 133.3h3.8v3.8h-3.8zM361.3 135.1h3.8v3.8h-3.8zM369.1 133.9h3.8v3.8h-3.8zM374.3 135.1h3.8v3.8h-3.8zM375.1 137.7h3.8v3.8h-3.8zM382.9 131.6h3.8v3.8h-3.8zM323.3 135.9h3.8v3.8h-3.8zM324.7 139.4h3.8v3.8h-3.8zM335.0 134.7h3.8v3.8h-3.8zM342.3 137.7h3.8v3.8h-3.8zM347.8 135.6h3.8v3.8h-3.8zM338.8 140.3h3.8v3.8h-3.8zM331.1 140.8h3.8v3.8h-3.8zM338.0 143.2h3.8v3.8h-3.8zM347.5 141.5h3.8v3.8h-3.8zM353.5 143.2h3.8v3.8h-3.8zM354.7 146.3h3.8v3.8h-3.8zM361.0 141.1h3.8v3.8h-3.8zM365.6 138.5h3.8v3.8h-3.8zM363.9 144.2h3.8v3.8h-3.8zM369.1 145.4h3.8v3.8h-3.8zM373.1 148.4h3.8v3.8h-3.8zM325.9 144.6h3.8v3.8h-3.8zM328.5 144.9h3.8v3.8h-3.8zM332.8 148.4h3.8v3.8h-3.8zM325.4 153.2h3.8v3.8h-3.8zM342.0 151.5h3.8v3.8h-3.8zM349.6 154.1h3.8v3.8h-3.8zM359.2 160.5h3.8v3.8h-3.8zM352.1 117.1h3.8v3.8h-3.8zM355.1 109.1h3.8v3.8h-3.8zM361.1 119.1h3.8v3.8h-3.8zM367.1 108.1h3.8v3.8h-3.8zM344.1 123.1h3.8v3.8h-3.8zM336.1 129.1h3.8v3.8h-3.8zM356.1 129.1h3.8v3.8h-3.8zM366.1 131.1h3.8v3.8h-3.8zM354.1 138.1h3.8v3.8h-3.8zM343.1 146.1h3.8v3.8h-3.8zM358.1 150.1h3.8v3.8h-3.8zM372.1 127.1h3.8v3.8h-3.8z" fill="#118a53"/>
<rect x="242.20" y="18.50" width="164.40" height="164.50" fill="none" stroke="#444" stroke-width="1.15"/>
<rect x="278.25" y="17.00" width="1.9" height="3.0" fill="#fff"/>
<rect x="326.95" y="17.00" width="1.9" height="3.0" fill="#fff"/>
<rect x="376.05" y="17.00" width="1.9" height="3.0" fill="#fff"/>
<line x1="238.20" y1="166.30" x2="242.20" y2="166.30" stroke="#444" stroke-width="1.0"/>
<text x="235.60" y="168.70" font-size="6.85" font-weight="bold" text-anchor="end" fill="#000">-20</text>
<line x1="238.20" y1="125.20" x2="242.20" y2="125.20" stroke="#444" stroke-width="1.0"/>
<text x="235.60" y="127.60" font-size="6.85" font-weight="bold" text-anchor="end" fill="#000">0</text>
<line x1="238.20" y1="84.10" x2="242.20" y2="84.10" stroke="#444" stroke-width="1.0"/>
<text x="235.60" y="86.50" font-size="6.85" font-weight="bold" text-anchor="end" fill="#000">20</text>
<line x1="238.20" y1="43.00" x2="242.20" y2="43.00" stroke="#444" stroke-width="1.0"/>
<text x="235.60" y="45.40" font-size="6.85" font-weight="bold" text-anchor="end" fill="#000">40</text>
<line x1="279.20" y1="183.00" x2="279.20" y2="186.60" stroke="#444" stroke-width="1.0"/>
<text x="279.20" y="195.90" font-size="6.85" font-weight="bold" text-anchor="middle" fill="#000">-20</text>
<line x1="327.90" y1="183.00" x2="327.90" y2="186.60" stroke="#444" stroke-width="1.0"/>
<text x="327.90" y="195.90" font-size="6.85" font-weight="bold" text-anchor="middle" fill="#000">0</text>
<line x1="377.00" y1="183.00" x2="377.00" y2="186.60" stroke="#444" stroke-width="1.0"/>
<text x="377.00" y="195.90" font-size="6.85" font-weight="bold" text-anchor="middle" fill="#000">20</text>
<text x="249.60" y="37.60" font-size="11" fill="#111" textLength="38.0" lengthAdjust="spacingAndGlyphs">GC-MS</text>
<path d="M310.4 26.7h4.0v4.0h-4.0z" fill="#a39b5c"/>
<path d="M310.4 38.7h4.0v4.0h-4.0z" fill="#118a53"/>
<text x="330.80" y="31.70" font-size="9.3" font-weight="bold" fill="#000" textLength="72.3" lengthAdjust="spacingAndGlyphs">Normal controls</text>
<text x="330.80" y="43.40" font-size="9.3" font-weight="bold" fill="#000">PD</text>
<text x="327.90" y="201.20" font-size="9" font-weight="bold" text-anchor="middle" fill="#000">P[1]</text>
<text transform="translate(223.40 103.10) rotate(-90)" font-size="9" font-weight="bold" text-anchor="middle" fill="#000">P[2]</text>
<line x1="269.60" y1="213.30" x2="269.60" y2="379.00" stroke="#cbcbcb" stroke-width="1.6" stroke-dasharray="1.8 3.0"/>
<line x1="326.50" y1="213.30" x2="326.50" y2="379.00" stroke="#cbcbcb" stroke-width="1.6" stroke-dasharray="1.8 3.0"/>
<line x1="383.50" y1="213.30" x2="383.50" y2="379.00" stroke="#cbcbcb" stroke-width="1.6" stroke-dasharray="1.8 3.0"/>
<line x1="241.00" y1="213.30" x2="406.80" y2="213.30" stroke="#cbcbcb" stroke-width="1.6" stroke-dasharray="1.8 3.0"/>
<line x1="241.00" y1="250.40" x2="406.80" y2="250.40" stroke="#cbcbcb" stroke-width="1.6" stroke-dasharray="1.8 3.0"/>
<line x1="241.00" y1="287.00" x2="406.80" y2="287.00" stroke="#cbcbcb" stroke-width="1.6" stroke-dasharray="1.8 3.0"/>
<line x1="241.00" y1="324.00" x2="406.80" y2="324.00" stroke="#cbcbcb" stroke-width="1.6" stroke-dasharray="1.8 3.0"/>
<line x1="241.00" y1="360.80" x2="406.80" y2="360.80" stroke="#cbcbcb" stroke-width="1.6" stroke-dasharray="1.8 3.0"/>
<path d="M285.1 247.6h3.8v3.8h-3.8zM283.9 249.9h3.8v3.8h-3.8zM281.6 253.3h3.8v3.8h-3.8zM279.0 266.6h3.8v3.8h-3.8zM284.6 270.1h3.8v3.8h-3.8zM282.5 273.5h3.8v3.8h-3.8zM283.3 276.1h3.8v3.8h-3.8zM286.8 276.5h3.8v3.8h-3.8zM279.0 279.6h3.8v3.8h-3.8zM281.6 281.3h3.8v3.8h-3.8zM285.9 280.4h3.8v3.8h-3.8zM282.1 285.1h3.8v3.8h-3.8zM285.1 284.4h3.8v3.8h-3.8zM288.5 285.1h3.8v3.8h-3.8zM281.6 287.4h3.8v3.8h-3.8zM285.1 294.3h3.8v3.8h-3.8zM283.3 296.0h3.8v3.8h-3.8zM286.8 293.4h3.8v3.8h-3.8zM279.9 299.5h3.8v3.8h-3.8zM282.5 298.6h3.8v3.8h-3.8zM285.9 299.5h3.8v3.8h-3.8zM287.7 302.4h3.8v3.8h-3.8zM282.5 304.6h3.8v3.8h-3.8zM279.0 306.4h3.8v3.8h-3.8zM279.0 299.0h3.8v3.8h-3.8zM281.6 299.8h3.8v3.8h-3.8zM286.3 301.2h3.8v3.8h-3.8zM288.5 303.3h3.8v3.8h-3.8zM279.0 305.9h3.8v3.8h-3.8zM283.3 305.0h3.8v3.8h-3.8zM281.6 309.3h3.8v3.8h-3.8zM285.1 307.6h3.8v3.8h-3.8zM279.9 313.3h3.8v3.8h-3.8zM284.2 311.9h3.8v3.8h-3.8zM288.5 311.9h3.8v3.8h-3.8zM295.4 311.6h3.8v3.8h-3.8zM292.5 313.7h3.8v3.8h-3.8zM282.5 316.2h3.8v3.8h-3.8zM285.9 317.1h3.8v3.8h-3.8zM288.5 318.8h3.8v3.8h-3.8zM280.8 319.7h3.8v3.8h-3.8zM284.2 322.3h3.8v3.8h-3.8zM288.5 322.3h3.8v3.8h-3.8zM279.9 325.8h3.8v3.8h-3.8zM283.3 326.6h3.8v3.8h-3.8zM287.7 325.4h3.8v3.8h-3.8zM281.6 330.1h3.8v3.8h-3.8zM284.2 330.9h3.8v3.8h-3.8zM287.3 333.5h3.8v3.8h-3.8zM287.7 337.9h3.8v3.8h-3.8zM294.2 339.6h3.8v3.8h-3.8zM283.1 290.1h3.8v3.8h-3.8zM280.1 291.1h3.8v3.8h-3.8zM287.1 289.1h3.8v3.8h-3.8zM284.1 314.1h3.8v3.8h-3.8zM281.1 323.1h3.8v3.8h-3.8z" fill="#a39b5c"/>
<path d="M356.4 257.6h3.8v3.8h-3.8zM359.0 256.7h3.8v3.8h-3.8zM362.8 259.9h3.8v3.8h-3.8zM343.8 265.9h3.8v3.8h-3.8zM347.8 265.0h3.8v3.8h-3.8zM354.7 267.5h3.8v3.8h-3.8zM349.0 272.0h3.8v3.8h-3.8zM351.2 275.4h3.8v3.8h-3.8zM349.5 277.8h3.8v3.8h-3.8zM350.7 280.1h3.8v3.8h-3.8zM346.1 285.3h3.8v3.8h-3.8zM353.8 284.7h3.8v3.8h-3.8zM358.2 283.5h3.8v3.8h-3.8zM349.5 289.6h3.8v3.8h-3.8zM353.5 288.2h3.8v3.8h-3.8zM356.4 287.0h3.8v3.8h-3.8zM347.8 293.9h3.8v3.8h-3.8zM351.2 293.0h3.8v3.8h-3.8zM354.7 297.4h3.8v3.8h-3.8zM358.2 298.2h3.8v3.8h-3.8zM348.7 300.8h3.8v3.8h-3.8zM352.1 301.7h3.8v3.8h-3.8zM356.4 301.7h3.8v3.8h-3.8zM359.9 303.4h3.8v3.8h-3.8zM347.8 305.1h3.8v3.8h-3.8zM351.2 306.9h3.8v3.8h-3.8zM355.6 307.7h3.8v3.8h-3.8zM346.1 310.0h3.8v3.8h-3.8zM349.5 312.0h3.8v3.8h-3.8zM353.8 312.4h3.8v3.8h-3.8zM358.2 313.8h3.8v3.8h-3.8zM351.2 316.4h3.8v3.8h-3.8zM356.4 316.4h3.8v3.8h-3.8zM346.1 309.8h3.8v3.8h-3.8zM350.4 310.7h3.8v3.8h-3.8zM355.6 309.8h3.8v3.8h-3.8zM358.2 312.4h3.8v3.8h-3.8zM349.5 315.0h3.8v3.8h-3.8zM353.8 315.0h3.8v3.8h-3.8zM359.0 316.7h3.8v3.8h-3.8zM350.4 319.3h3.8v3.8h-3.8zM354.7 319.9h3.8v3.8h-3.8zM346.1 323.3h3.8v3.8h-3.8zM334.8 322.8h3.8v3.8h-3.8zM346.9 328.5h3.8v3.8h-3.8zM350.4 328.0h3.8v3.8h-3.8zM354.7 328.8h3.8v3.8h-3.8zM356.4 332.3h3.8v3.8h-3.8zM346.9 334.0h3.8v3.8h-3.8zM352.1 335.8h3.8v3.8h-3.8zM338.3 342.7h3.8v3.8h-3.8zM352.1 296.1h3.8v3.8h-3.8zM355.1 291.1h3.8v3.8h-3.8zM348.1 297.1h3.8v3.8h-3.8zM353.1 305.1h3.8v3.8h-3.8zM357.1 320.1h3.8v3.8h-3.8zM350.1 323.1h3.8v3.8h-3.8zM353.1 325.1h3.8v3.8h-3.8zM348.1 316.1h3.8v3.8h-3.8z" fill="#118a53"/>
<rect x="241.00" y="213.30" width="165.80" height="165.70" fill="none" stroke="#444" stroke-width="1.15"/>
<rect x="268.65" y="211.80" width="1.9" height="3.0" fill="#fff"/>
<rect x="325.55" y="211.80" width="1.9" height="3.0" fill="#fff"/>
<rect x="382.55" y="211.80" width="1.9" height="3.0" fill="#fff"/>
<text x="234.40" y="215.70" font-size="6.85" font-weight="bold" text-anchor="end" fill="#000">50</text>
<line x1="237.00" y1="250.40" x2="241.00" y2="250.40" stroke="#444" stroke-width="1.0"/>
<text x="234.40" y="252.80" font-size="6.85" font-weight="bold" text-anchor="end" fill="#000">30</text>
<line x1="237.00" y1="287.00" x2="241.00" y2="287.00" stroke="#444" stroke-width="1.0"/>
<text x="234.40" y="289.40" font-size="6.85" font-weight="bold" text-anchor="end" fill="#000">10</text>
<line x1="237.00" y1="324.00" x2="241.00" y2="324.00" stroke="#444" stroke-width="1.0"/>
<text x="234.40" y="326.40" font-size="6.85" font-weight="bold" text-anchor="end" fill="#000">-10</text>
<line x1="237.00" y1="360.80" x2="241.00" y2="360.80" stroke="#444" stroke-width="1.0"/>
<text x="234.40" y="363.20" font-size="6.85" font-weight="bold" text-anchor="end" fill="#000">-30</text>
<line x1="269.60" y1="379.00" x2="269.60" y2="382.60" stroke="#444" stroke-width="1.0"/>
<text x="269.60" y="392.80" font-size="6.85" font-weight="bold" text-anchor="middle" fill="#000">-20</text>
<line x1="326.50" y1="379.00" x2="326.50" y2="382.60" stroke="#444" stroke-width="1.0"/>
<text x="326.50" y="392.80" font-size="6.85" font-weight="bold" text-anchor="middle" fill="#000">0</text>
<line x1="383.50" y1="379.00" x2="383.50" y2="382.60" stroke="#444" stroke-width="1.0"/>
<text x="383.50" y="392.80" font-size="6.85" font-weight="bold" text-anchor="middle" fill="#000">20</text>
<text x="246.30" y="235.40" font-size="11" fill="#111" textLength="36.1" lengthAdjust="spacingAndGlyphs">LC-MS</text>
<path d="M307.9 225.0h4.0v4.0h-4.0z" fill="#a39b5c"/>
<path d="M307.9 237.4h4.0v4.0h-4.0z" fill="#118a53"/>
<text x="328.40" y="230.90" font-size="9.3" font-weight="bold" fill="#000" textLength="72.9" lengthAdjust="spacingAndGlyphs">Normal controls</text>
<text x="328.40" y="242.60" font-size="9.3" font-weight="bold" fill="#000">PD</text>
<text x="326.30" y="398.60" font-size="9" font-weight="bold" text-anchor="middle" fill="#000">P[1]</text>
<text transform="translate(224.40 284.90) rotate(-90)" font-size="9" font-weight="bold" text-anchor="middle" fill="#000">P[2]</text>
<line x1="456.90" y1="18.90" x2="456.90" y2="183.00" stroke="#cbcbcb" stroke-width="1.6" stroke-dasharray="1.8 3.0"/>
<line x1="559.30" y1="18.90" x2="559.30" y2="183.00" stroke="#cbcbcb" stroke-width="1.6" stroke-dasharray="1.8 3.0"/>
<line x1="661.70" y1="18.90" x2="661.70" y2="183.00" stroke="#cbcbcb" stroke-width="1.6" stroke-dasharray="1.8 3.0"/>
<line x1="436.10" y1="73.60" x2="682.80" y2="73.60" stroke="#cbcbcb" stroke-width="1.6" stroke-dasharray="1.8 3.0"/>
<line x1="436.10" y1="128.30" x2="682.80" y2="128.30" stroke="#cbcbcb" stroke-width="1.6" stroke-dasharray="1.8 3.0"/>
<path d="M458.8 78.1h0M458.7 79.0h0M458.8 79.9h0M458.8 82.0h0M458.9 83.3h0M458.6 85.2h0M458.7 86.1h0M459.0 87.3h0M458.6 88.4h0M458.7 89.5h0M458.7 90.2h0M458.7 91.4h0M458.8 92.7h0M458.9 93.5h0M458.6 94.5h0M459.0 95.6h0M458.9 96.5h0M463.8 76.2h0M463.9 77.3h0M463.8 78.1h0M463.8 79.4h0M464.1 80.2h0M463.9 81.2h0M464.0 82.1h0M463.7 84.3h0M463.8 85.5h0M464.0 86.4h0M464.0 87.5h0M464.0 88.6h0M463.7 90.6h0M463.7 91.5h0M464.0 93.8h0M464.0 94.5h0M463.8 95.5h0M464.1 96.6h0M469.2 73.1h0M468.8 74.1h0M469.1 75.9h0M469.0 76.9h0M469.1 78.2h0M469.1 79.3h0M468.9 81.3h0M468.9 82.1h0M469.0 84.3h0M468.9 85.3h0M469.0 86.2h0M469.1 87.3h0M469.1 88.3h0M469.1 89.4h0M469.0 90.5h0M469.0 91.4h0M469.2 92.3h0M468.9 93.5h0M468.8 94.4h0M469.1 95.7h0M469.1 96.7h0M469.1 97.5h0M474.0 75.1h0M474.2 76.3h0M474.1 77.5h0M473.9 78.4h0M474.1 79.4h0M474.1 80.3h0M474.1 81.6h0M474.0 82.3h0M473.9 83.5h0M474.3 84.3h0M474.3 85.6h0M473.9 86.5h0M474.0 88.7h0M474.1 89.6h0M474.0 90.8h0M474.2 91.7h0M474.1 92.8h0M474.3 93.6h0M473.9 94.7h0M474.1 95.6h0M479.1 75.2h0M479.2 76.2h0M479.3 77.5h0M479.4 78.4h0M479.0 79.7h0M479.4 82.8h0M479.2 83.8h0M479.1 84.6h0M479.1 85.9h0M479.1 86.9h0M479.2 87.9h0M479.4 88.8h0M479.2 89.9h0M479.2 91.9h0M479.0 93.0h0M479.2 94.2h0M479.4 95.4h0M479.4 96.4h0M484.1 73.7h0M484.3 74.8h0M484.1 75.8h0M484.2 76.9h0M484.3 79.2h0M484.2 80.0h0M484.3 82.0h0M484.2 83.1h0M484.3 84.0h0M484.3 85.3h0M484.4 86.5h0M484.2 87.4h0M484.3 89.3h0M484.5 90.5h0M484.5 91.6h0M484.5 92.3h0M484.1 93.4h0M489.3 78.9h0M489.3 79.6h0M489.3 80.6h0M489.5 81.7h0M489.6 82.8h0M489.3 84.9h0M489.3 86.9h0M489.2 87.9h0M489.2 88.9h0M489.6 89.9h0M489.6 92.9h0M489.3 94.6h0M494.5 81.0h0M494.4 86.1h0M494.6 87.2h0M494.6 88.0h0M494.5 93.4h0M499.6 84.6h0M499.6 92.0h0M504.7 83.5h0M504.7 88.0h0M459.0 109.7h0M458.8 110.7h0M458.8 111.6h0M459.0 112.5h0M458.7 113.8h0M459.0 114.6h0M458.9 115.7h0M459.0 116.4h0M459.0 117.6h0M458.8 118.7h0M458.9 120.6h0M458.7 121.8h0M458.9 122.4h0M458.8 123.7h0M459.0 124.8h0M458.7 125.8h0M458.9 126.4h0M458.7 127.5h0M458.6 128.7h0M458.7 129.7h0M458.6 130.7h0M458.9 131.7h0M458.8 132.6h0M458.7 134.8h0M458.6 135.6h0M458.6 136.4h0M458.9 137.8h0M458.8 138.7h0M459.0 139.6h0M458.9 140.5h0M458.6 141.5h0M458.6 142.4h0M458.9 143.8h0M458.6 144.7h0M458.9 146.7h0M458.8 147.6h0M458.9 148.5h0M458.9 149.5h0M458.6 150.8h0M458.6 151.5h0M458.6 152.4h0M463.8 109.6h0M463.8 110.5h0M463.8 111.5h0M464.1 112.6h0M463.9 114.6h0M463.9 115.8h0M463.8 116.4h0M463.8 117.4h0M463.8 120.6h0M463.8 121.7h0M464.1 122.4h0M464.0 123.7h0M464.1 124.5h0M464.0 125.5h0M463.8 126.5h0M464.1 127.6h0M463.9 128.7h0M464.1 129.8h0M463.7 130.8h0M464.0 131.8h0M464.0 132.8h0M464.1 133.7h0M463.7 134.7h0M463.7 135.5h0M463.8 136.5h0M464.0 137.8h0M464.1 138.6h0M464.0 139.5h0M463.8 141.7h0M463.9 142.6h0M464.0 144.5h0M464.1 145.7h0M463.7 146.6h0M464.1 147.5h0M463.7 149.5h0M463.9 150.4h0M463.7 152.5h0M464.0 153.8h0M463.7 154.6h0M464.0 155.4h0M468.8 113.2h0M469.2 114.4h0M469.2 115.2h0M469.0 116.4h0M469.0 117.1h0M469.0 118.4h0M468.9 119.5h0M469.2 120.2h0M469.0 121.4h0M469.0 122.6h0M468.9 123.5h0M468.9 124.5h0M468.8 125.5h0M469.2 126.4h0M468.9 127.4h0M468.8 128.3h0M469.0 129.4h0M469.0 130.6h0M468.9 131.5h0M469.2 132.4h0M468.8 133.6h0M469.1 135.5h0M469.2 136.4h0M469.1 137.5h0M469.0 138.6h0M468.8 139.4h0M469.0 140.7h0M469.1 141.3h0M469.1 142.4h0M469.0 143.7h0M468.9 144.4h0M469.2 145.4h0M469.0 146.4h0M469.2 147.6h0M469.1 148.4h0M468.9 149.7h0M468.9 150.4h0M469.2 151.5h0M469.0 152.5h0M468.8 154.6h0M469.1 155.7h0M473.9 108.7h0M474.1 109.8h0M474.1 111.0h0M474.0 111.8h0M474.3 112.8h0M474.0 113.7h0M474.1 115.8h0M474.2 116.9h0M474.2 117.9h0M474.2 118.8h0M474.0 119.9h0M474.1 120.8h0M474.0 122.1h0M473.9 123.0h0M474.3 124.0h0M474.1 125.0h0M473.9 125.9h0M474.2 127.0h0M474.0 128.0h0M474.3 128.9h0M474.2 130.2h0M474.1 130.9h0M474.1 132.1h0M474.2 133.1h0M474.1 133.8h0M473.9 136.1h0M474.1 137.2h0M474.3 138.1h0M474.1 139.1h0M474.0 140.0h0M474.2 141.1h0M474.0 142.0h0M473.9 143.2h0M474.0 144.1h0M474.0 144.9h0M473.9 146.0h0M474.2 147.2h0M474.1 148.2h0M474.2 149.3h0M474.0 150.0h0M474.0 151.2h0M474.3 152.2h0M479.4 117.0h0M479.4 118.9h0M479.2 119.9h0M479.4 121.1h0M479.4 122.0h0M479.3 122.8h0M479.2 124.1h0M479.3 124.9h0M479.0 126.0h0M479.3 127.0h0M479.1 128.0h0M479.1 129.2h0M479.3 130.0h0M479.3 131.2h0M479.4 131.8h0M479.0 133.2h0M479.1 134.1h0M479.1 135.1h0M479.3 135.9h0M479.3 137.8h0M479.0 139.0h0M479.4 141.2h0M479.0 141.9h0M479.0 143.2h0M479.2 143.9h0M479.2 145.0h0M479.2 145.8h0M479.0 146.9h0M479.0 148.2h0M479.0 150.2h0M479.1 151.2h0M479.0 152.0h0M479.3 152.8h0M479.2 154.0h0M484.1 115.0h0M484.3 115.8h0M484.5 116.9h0M484.3 119.0h0M484.3 119.7h0M484.4 120.9h0M484.4 121.7h0M484.5 122.9h0M484.2 123.9h0M484.3 124.6h0M484.4 125.7h0M484.4 126.9h0M484.5 127.8h0M484.3 128.9h0M484.1 129.7h0M484.3 131.0h0M484.3 132.0h0M484.5 132.8h0M484.2 133.9h0M484.4 135.0h0M484.2 136.0h0M484.3 136.8h0M484.3 137.7h0M484.2 139.0h0M484.2 141.0h0M484.4 141.8h0M484.3 142.9h0M484.3 143.8h0M484.1 144.9h0M484.2 146.0h0M484.5 146.8h0M484.2 149.1h0M484.4 150.0h0M484.2 152.1h0M489.5 121.6h0M489.4 122.9h0M489.5 123.9h0M489.2 127.9h0M489.5 129.1h0M489.2 130.1h0M489.4 131.1h0M489.2 132.0h0M489.6 132.9h0M489.3 134.0h0M489.3 138.1h0M489.3 141.2h0M489.5 142.9h0M489.4 144.0h0M489.2 145.1h0M489.3 146.1h0M494.5 130.0h0M494.5 136.3h0M499.5 119.2h0M499.6 120.2h0M499.6 120.9h0M499.5 122.0h0M499.4 123.1h0M499.4 124.0h0M499.6 125.2h0M499.6 127.2h0M499.6 137.0h0M499.6 145.0h0M504.7 140.3h0M504.7 145.0h0" stroke="#878787" stroke-width="2.35" stroke-linecap="square" fill="none"/>
<line x1="458.80" y1="87.50" x2="661.90" y2="47.80" stroke="#777" stroke-width="0.8"/>
<line x1="458.90" y1="130.80" x2="661.70" y2="66.80" stroke="#222" stroke-width="1.1"/>
<path d="M661.9 47.8h0M661.7 66.8h0" stroke="#666" stroke-width="2.0" stroke-linecap="square" fill="none"/>
<rect x="436.10" y="18.90" width="246.70" height="164.10" fill="none" stroke="#555" stroke-width="1.15"/>
<rect x="455.95" y="17.40" width="1.9" height="3.0" fill="#fff"/>
<rect x="558.35" y="17.40" width="1.9" height="3.0" fill="#fff"/>
<rect x="660.75" y="17.40" width="1.9" height="3.0" fill="#fff"/>
<rect x="681.30" y="72.65" width="3.0" height="1.9" fill="#fff"/>
<rect x="681.30" y="127.35" width="3.0" height="1.9" fill="#fff"/>
<line x1="431.60" y1="18.90" x2="436.10" y2="18.90" stroke="#555" stroke-width="1.0"/>
<text x="429.80" y="21.30" font-size="6.85" font-weight="bold" text-anchor="end" fill="#000">1.0</text>
<line x1="431.60" y1="73.60" x2="436.10" y2="73.60" stroke="#555" stroke-width="1.0"/>
<text x="429.80" y="76.00" font-size="6.85" font-weight="bold" text-anchor="end" fill="#000">0.5</text>
<line x1="431.60" y1="128.30" x2="436.10" y2="128.30" stroke="#555" stroke-width="1.0"/>
<text x="429.80" y="130.70" font-size="6.85" font-weight="bold" text-anchor="end" fill="#000">0.0</text>
<line x1="431.60" y1="183.00" x2="436.10" y2="183.00" stroke="#555" stroke-width="1.0"/>
<text x="429.80" y="185.40" font-size="6.85" font-weight="bold" text-anchor="end" fill="#000">-0.5</text>
<line x1="456.90" y1="183.00" x2="456.90" y2="187.00" stroke="#555" stroke-width="1.0"/>
<text x="456.90" y="196.60" font-size="6.85" font-weight="bold" text-anchor="middle" fill="#000">0.0</text>
<line x1="559.30" y1="183.00" x2="559.30" y2="187.00" stroke="#555" stroke-width="1.0"/>
<text x="559.30" y="196.60" font-size="6.85" font-weight="bold" text-anchor="middle" fill="#000">0.5</text>
<line x1="661.70" y1="183.00" x2="661.70" y2="187.00" stroke="#555" stroke-width="1.0"/>
<text x="661.70" y="196.60" font-size="6.85" font-weight="bold" text-anchor="middle" fill="#000">1.0</text>
<text x="614.50" y="52.30" font-size="9" font-weight="bold" text-anchor="middle" fill="#000">R2</text>
<text x="614.50" y="77.30" font-size="9" font-weight="bold" text-anchor="middle" fill="#000">Q2</text>
<text x="569.50" y="203.30" font-size="9.5" font-weight="bold" text-anchor="middle" fill="#000" textLength="143.4" lengthAdjust="spacingAndGlyphs">Pearson Correlation Coefficient</text>
<text transform="translate(418.40 99.10) rotate(-90)" font-size="9" font-weight="bold" text-anchor="middle" fill="#000">R2/Q2</text>
<line x1="455.40" y1="214.30" x2="455.40" y2="379.60" stroke="#cbcbcb" stroke-width="1.6" stroke-dasharray="1.8 3.0"/>
<line x1="558.80" y1="214.30" x2="558.80" y2="379.60" stroke="#cbcbcb" stroke-width="1.6" stroke-dasharray="1.8 3.0"/>
<line x1="662.20" y1="214.30" x2="662.20" y2="379.60" stroke="#cbcbcb" stroke-width="1.6" stroke-dasharray="1.8 3.0"/>
<line x1="434.80" y1="238.60" x2="683.00" y2="238.60" stroke="#cbcbcb" stroke-width="1.6" stroke-dasharray="1.8 3.0"/>
<line x1="434.80" y1="270.80" x2="683.00" y2="270.80" stroke="#cbcbcb" stroke-width="1.6" stroke-dasharray="1.8 3.0"/>
<line x1="434.80" y1="303.40" x2="683.00" y2="303.40" stroke="#cbcbcb" stroke-width="1.6" stroke-dasharray="1.8 3.0"/>
<line x1="434.80" y1="326.40" x2="683.00" y2="326.40" stroke="#cbcbcb" stroke-width="1.6" stroke-dasharray="1.8 3.0"/>
<line x1="434.80" y1="352.80" x2="683.00" y2="352.80" stroke="#cbcbcb" stroke-width="1.6" stroke-dasharray="1.8 3.0"/>
<path d="M455.6 270.6h0M455.4 271.7h0M455.5 272.5h0M455.8 273.7h0M455.6 275.8h0M455.6 276.5h0M455.6 278.8h0M455.7 279.8h0M455.8 280.9h0M455.8 281.7h0M455.5 282.8h0M455.7 283.7h0M455.6 284.8h0M455.4 285.8h0M455.6 287.0h0M455.4 288.0h0M455.8 288.9h0M455.5 290.0h0M455.5 290.8h0M455.7 291.9h0M455.6 292.9h0M455.4 293.9h0M455.7 295.1h0M455.4 296.0h0M455.5 298.0h0M455.8 299.2h0M455.6 300.1h0M455.8 301.0h0M455.7 302.2h0M455.7 303.1h0M461.0 263.1h0M461.0 269.8h0M461.0 270.8h0M461.2 271.6h0M461.1 272.7h0M460.8 273.7h0M461.1 275.0h0M461.1 275.8h0M461.0 276.7h0M460.9 277.8h0M460.8 278.8h0M461.2 279.9h0M460.9 280.7h0M461.2 281.7h0M460.8 282.7h0M461.1 284.1h0M460.8 284.9h0M461.0 285.9h0M460.8 287.0h0M460.9 288.1h0M461.2 289.0h0M460.8 289.8h0M461.0 291.1h0M460.9 291.9h0M461.0 293.1h0M460.8 294.0h0M461.0 294.9h0M460.9 296.1h0M461.1 296.8h0M460.8 297.9h0M460.9 298.8h0M460.9 300.1h0M461.1 301.1h0M461.1 301.9h0M461.0 303.1h0M466.4 267.7h0M466.2 268.6h0M466.3 269.5h0M466.2 270.6h0M466.5 271.8h0M466.5 272.7h0M466.4 273.8h0M466.4 274.9h0M466.1 275.9h0M466.2 276.8h0M466.3 277.8h0M466.5 278.7h0M466.2 280.1h0M466.4 280.9h0M466.2 281.9h0M466.4 284.1h0M466.3 284.9h0M466.5 285.9h0M466.5 287.2h0M466.6 287.9h0M466.3 289.0h0M466.5 290.1h0M466.3 291.3h0M466.2 292.0h0M466.2 293.2h0M466.2 294.2h0M466.4 295.2h0M466.3 296.1h0M466.5 297.4h0M466.4 298.2h0M466.6 299.2h0M466.5 300.4h0M466.3 301.4h0M466.4 302.2h0M471.9 264.3h0M471.8 265.1h0M471.8 266.0h0M471.6 267.1h0M471.5 268.2h0M471.5 269.5h0M471.7 271.4h0M471.8 272.2h0M471.7 273.1h0M471.7 274.4h0M471.6 275.5h0M471.8 276.2h0M471.7 277.5h0M471.6 278.3h0M471.6 279.4h0M471.7 280.3h0M471.7 281.4h0M471.8 282.7h0M471.8 283.3h0M471.6 284.4h0M471.9 285.3h0M471.8 286.5h0M471.6 287.6h0M471.9 288.7h0M471.6 290.5h0M471.6 291.5h0M471.6 292.6h0M471.7 293.7h0M471.9 294.8h0M471.6 295.8h0M471.7 296.5h0M471.6 297.5h0M471.6 298.7h0M477.2 266.8h0M477.0 268.0h0M476.9 268.7h0M477.3 270.1h0M477.3 270.9h0M477.1 271.8h0M476.9 273.0h0M477.0 274.0h0M476.9 275.8h0M477.1 276.9h0M477.0 278.0h0M476.9 279.0h0M477.1 280.0h0M477.0 281.0h0M477.2 282.0h0M477.2 283.0h0M477.1 284.0h0M477.1 284.9h0M477.3 285.9h0M476.9 287.0h0M477.3 287.8h0M476.9 289.9h0M477.0 290.8h0M477.0 292.0h0M477.0 294.0h0M477.1 294.9h0M476.9 296.1h0M477.2 297.0h0M477.0 298.2h0M482.7 267.1h0M482.4 267.8h0M482.4 268.8h0M482.6 270.0h0M482.3 271.0h0M482.6 271.9h0M482.6 272.7h0M482.6 273.7h0M482.7 274.9h0M482.7 276.8h0M482.4 278.1h0M482.3 278.9h0M482.6 280.1h0M482.3 280.8h0M482.6 281.8h0M482.4 282.8h0M482.4 285.1h0M482.5 285.8h0M482.3 287.1h0M482.6 287.8h0M482.6 289.1h0M482.6 290.0h0M482.3 291.1h0M482.6 292.1h0M482.5 293.1h0M482.6 293.9h0M482.3 295.0h0M487.8 275.8h0M487.9 276.6h0M488.0 277.8h0M487.7 278.9h0M487.9 279.9h0M488.0 281.0h0M487.9 281.8h0M487.8 283.1h0M487.9 284.0h0M487.9 285.0h0M488.1 286.2h0M487.8 287.9h0M487.7 289.0h0M487.8 291.2h0M488.0 292.2h0M488.1 293.1h0M487.8 294.4h0M488.0 295.3h0M488.0 297.1h0M488.0 298.4h0M488.0 299.3h0M493.2 275.6h0M493.3 276.7h0M493.3 277.8h0M493.2 278.8h0M493.2 279.6h0M493.3 281.0h0M493.4 281.7h0M493.3 282.7h0M493.3 283.8h0M493.3 285.0h0M493.3 286.0h0M493.0 286.8h0M493.3 287.8h0M493.3 288.8h0M493.2 289.8h0M493.4 291.9h0M493.2 292.8h0M493.2 293.8h0M493.5 295.1h0M498.6 286.6h0M504.0 280.2h0M504.0 286.9h0M455.5 326.1h0M455.5 327.2h0M455.7 327.9h0M455.5 328.9h0M455.7 330.1h0M455.5 331.2h0M455.7 332.2h0M455.8 333.3h0M455.6 334.0h0M455.5 335.0h0M455.7 336.3h0M455.5 338.4h0M455.5 339.3h0M455.6 340.5h0M455.8 341.2h0M455.8 342.2h0M455.7 343.4h0M455.4 344.2h0M455.8 345.2h0M455.4 346.6h0M455.7 347.5h0M455.6 348.5h0M455.6 349.3h0M455.5 350.4h0M455.6 352.5h0M455.7 353.7h0M455.7 354.6h0M455.6 356.4h0M455.5 357.8h0M455.5 358.6h0M455.5 359.7h0M455.6 360.5h0M461.0 325.8h0M460.8 327.9h0M461.0 328.9h0M460.9 331.1h0M461.0 331.9h0M461.0 333.1h0M460.8 334.0h0M460.9 335.0h0M460.8 335.9h0M461.2 337.2h0M460.8 337.9h0M461.1 339.1h0M460.9 340.1h0M461.1 341.0h0M460.8 343.1h0M461.1 344.0h0M461.1 346.2h0M460.9 346.8h0M461.0 347.9h0M461.1 350.1h0M461.0 351.1h0M461.2 352.1h0M460.9 353.0h0M460.8 355.1h0M460.9 355.9h0M460.9 356.9h0M461.1 358.8h0M460.8 359.9h0M461.1 360.8h0M461.2 362.1h0M460.9 363.0h0M461.1 364.1h0M460.9 365.2h0M461.1 365.8h0M466.2 326.2h0M466.3 327.1h0M466.2 328.0h0M466.3 329.0h0M466.5 330.1h0M466.5 332.1h0M466.5 333.1h0M466.2 334.1h0M466.2 334.9h0M466.5 336.2h0M466.4 337.2h0M466.3 338.1h0M466.3 339.2h0M466.5 340.2h0M466.3 342.3h0M466.4 343.1h0M466.5 344.4h0M466.3 345.4h0M466.5 346.2h0M466.2 347.5h0M466.5 348.1h0M466.2 350.5h0M466.4 351.4h0M466.2 352.5h0M466.4 353.5h0M466.5 354.5h0M466.4 355.6h0M466.5 356.4h0M466.5 357.5h0M466.4 359.4h0M466.3 360.7h0M466.4 361.6h0M471.6 326.0h0M471.8 327.0h0M471.7 327.9h0M471.6 329.1h0M471.9 330.0h0M471.8 330.9h0M471.8 332.2h0M471.9 333.0h0M471.7 334.1h0M471.6 334.9h0M471.7 336.0h0M471.8 337.0h0M471.8 337.8h0M471.9 339.2h0M471.5 339.9h0M471.7 341.1h0M471.6 342.0h0M471.7 343.1h0M471.7 343.9h0M471.7 345.1h0M471.7 346.2h0M471.8 346.9h0M471.7 347.8h0M471.9 349.1h0M471.7 349.9h0M471.7 351.0h0M471.9 353.0h0M471.9 354.0h0M471.9 355.1h0M471.6 355.9h0M471.6 357.0h0M471.5 357.9h0M471.8 360.0h0M477.2 325.9h0M477.3 327.0h0M477.0 328.2h0M477.2 329.0h0M477.3 329.9h0M477.1 331.1h0M477.2 332.2h0M477.0 333.1h0M477.0 333.9h0M477.3 334.9h0M477.0 335.8h0M477.1 337.1h0M477.0 337.8h0M477.0 338.9h0M476.9 339.8h0M477.1 341.0h0M477.0 342.1h0M477.3 343.0h0M476.9 344.2h0M477.2 344.9h0M477.2 345.9h0M477.0 347.2h0M477.3 347.9h0M477.2 348.8h0M477.0 350.1h0M477.0 351.8h0M477.2 353.1h0M477.2 354.2h0M477.0 354.9h0M477.2 355.9h0M477.3 356.9h0M477.3 357.9h0M477.1 359.0h0M477.3 360.1h0M477.1 371.9h0M482.5 328.7h0M482.4 330.0h0M482.6 331.8h0M482.5 333.1h0M482.6 333.9h0M482.7 335.0h0M482.7 336.0h0M482.3 337.0h0M482.6 338.0h0M482.6 339.0h0M482.7 340.1h0M482.4 341.2h0M482.7 342.2h0M482.3 342.9h0M482.5 344.0h0M482.7 345.1h0M482.6 346.1h0M482.5 347.2h0M482.7 348.3h0M482.5 349.0h0M482.3 350.2h0M482.3 351.4h0M482.5 352.2h0M482.7 353.4h0M487.9 326.2h0M487.8 334.7h0M487.8 336.0h0M487.9 336.9h0M487.7 337.9h0M487.7 338.8h0M488.0 340.0h0M487.8 340.7h0M488.1 341.7h0M487.7 342.7h0M487.9 343.8h0M488.0 345.0h0M487.9 345.8h0M488.0 347.1h0M487.9 348.1h0M488.0 350.1h0M487.8 351.0h0M487.9 351.9h0M488.1 353.0h0M488.0 354.0h0M488.0 355.0h0M488.1 356.1h0M487.9 357.1h0M493.1 334.7h0M493.4 335.8h0M493.4 336.8h0M493.1 338.0h0M493.3 338.8h0M493.2 339.9h0M493.4 340.9h0M493.2 342.1h0M493.5 343.0h0M493.1 344.0h0M493.3 344.8h0M493.3 346.1h0M493.4 347.0h0M493.4 348.1h0M493.3 349.0h0M493.2 350.2h0M493.4 351.2h0M493.3 364.4h0M498.6 334.0h0M504.0 331.0h0" stroke="#878787" stroke-width="2.35" stroke-linecap="square" fill="none"/>
<line x1="455.60" y1="283.10" x2="662.30" y2="245.90" stroke="#777" stroke-width="0.8"/>
<line x1="455.60" y1="341.90" x2="662.20" y2="296.30" stroke="#222" stroke-width="1.1"/>
<path d="M662.3 245.9h0M662.2 296.3h0" stroke="#666" stroke-width="2.0" stroke-linecap="square" fill="none"/>
<line x1="434.80" y1="214.30" x2="683.00" y2="214.30" stroke="#555" stroke-width="1.15"/>
<line x1="683.00" y1="214.30" x2="683.00" y2="379.60" stroke="#555" stroke-width="1.15"/>
<line x1="434.80" y1="379.60" x2="683.00" y2="379.60" stroke="#555" stroke-width="1.15"/>
<line x1="434.80" y1="214.30" x2="434.80" y2="314.00" stroke="#555" stroke-width="1.15"/>
<line x1="430.70" y1="314.00" x2="439.00" y2="314.00" stroke="#555" stroke-width="1.15"/>
<line x1="434.80" y1="326.40" x2="434.80" y2="379.60" stroke="#555" stroke-width="1.15"/>
<rect x="454.45" y="212.80" width="1.9" height="3.0" fill="#fff"/>
<rect x="557.85" y="212.80" width="1.9" height="3.0" fill="#fff"/>
<rect x="661.25" y="212.80" width="1.9" height="3.0" fill="#fff"/>
<rect x="681.50" y="237.65" width="3.0" height="1.9" fill="#fff"/>
<rect x="681.50" y="269.85" width="3.0" height="1.9" fill="#fff"/>
<rect x="681.50" y="302.45" width="3.0" height="1.9" fill="#fff"/>
<rect x="681.50" y="325.45" width="3.0" height="1.9" fill="#fff"/>
<rect x="681.50" y="351.85" width="3.0" height="1.9" fill="#fff"/>
<line x1="429.80" y1="238.60" x2="434.80" y2="238.60" stroke="#555" stroke-width="1.0"/>
<text x="428.30" y="241.00" font-size="6.85" font-weight="bold" text-anchor="end" fill="#000">1.0</text>
<line x1="431.80" y1="270.80" x2="434.80" y2="270.80" stroke="#555" stroke-width="1.0"/>
<line x1="431.80" y1="303.40" x2="434.80" y2="303.40" stroke="#555" stroke-width="1.0"/>
<line x1="429.80" y1="326.40" x2="434.80" y2="326.40" stroke="#555" stroke-width="1.0"/>
<text x="428.30" y="328.80" font-size="6.85" font-weight="bold" text-anchor="end" fill="#000">0.4</text>
<line x1="429.80" y1="352.80" x2="434.80" y2="352.80" stroke="#555" stroke-width="1.0"/>
<text x="428.30" y="355.20" font-size="6.85" font-weight="bold" text-anchor="end" fill="#000">0.0</text>
<line x1="455.40" y1="379.60" x2="455.40" y2="384.00" stroke="#555" stroke-width="1.0"/>
<text x="455.40" y="392.90" font-size="6.85" font-weight="bold" text-anchor="middle" fill="#000">0.0</text>
<line x1="558.80" y1="379.60" x2="558.80" y2="384.00" stroke="#555" stroke-width="1.0"/>
<text x="558.80" y="392.90" font-size="6.85" font-weight="bold" text-anchor="middle" fill="#000">0.5</text>
<line x1="662.20" y1="379.60" x2="662.20" y2="384.00" stroke="#555" stroke-width="1.0"/>
<text x="662.20" y="392.90" font-size="6.85" font-weight="bold" text-anchor="middle" fill="#000">1.0</text>
<text x="614.50" y="247.00" font-size="9" font-weight="bold" text-anchor="middle" fill="#000">R2</text>
<text x="614.50" y="299.80" font-size="9" font-weight="bold" text-anchor="middle" fill="#000">Q2</text>
<text x="563.50" y="400.20" font-size="9.5" font-weight="bold" text-anchor="middle" fill="#000" textLength="144.2" lengthAdjust="spacingAndGlyphs">Pearson Correlation Coefficient</text>
<text transform="translate(419.30 293.40) rotate(-90)" font-size="9" font-weight="bold" text-anchor="middle" fill="#000">R2/Q2</text>
</svg>
</body></html>
